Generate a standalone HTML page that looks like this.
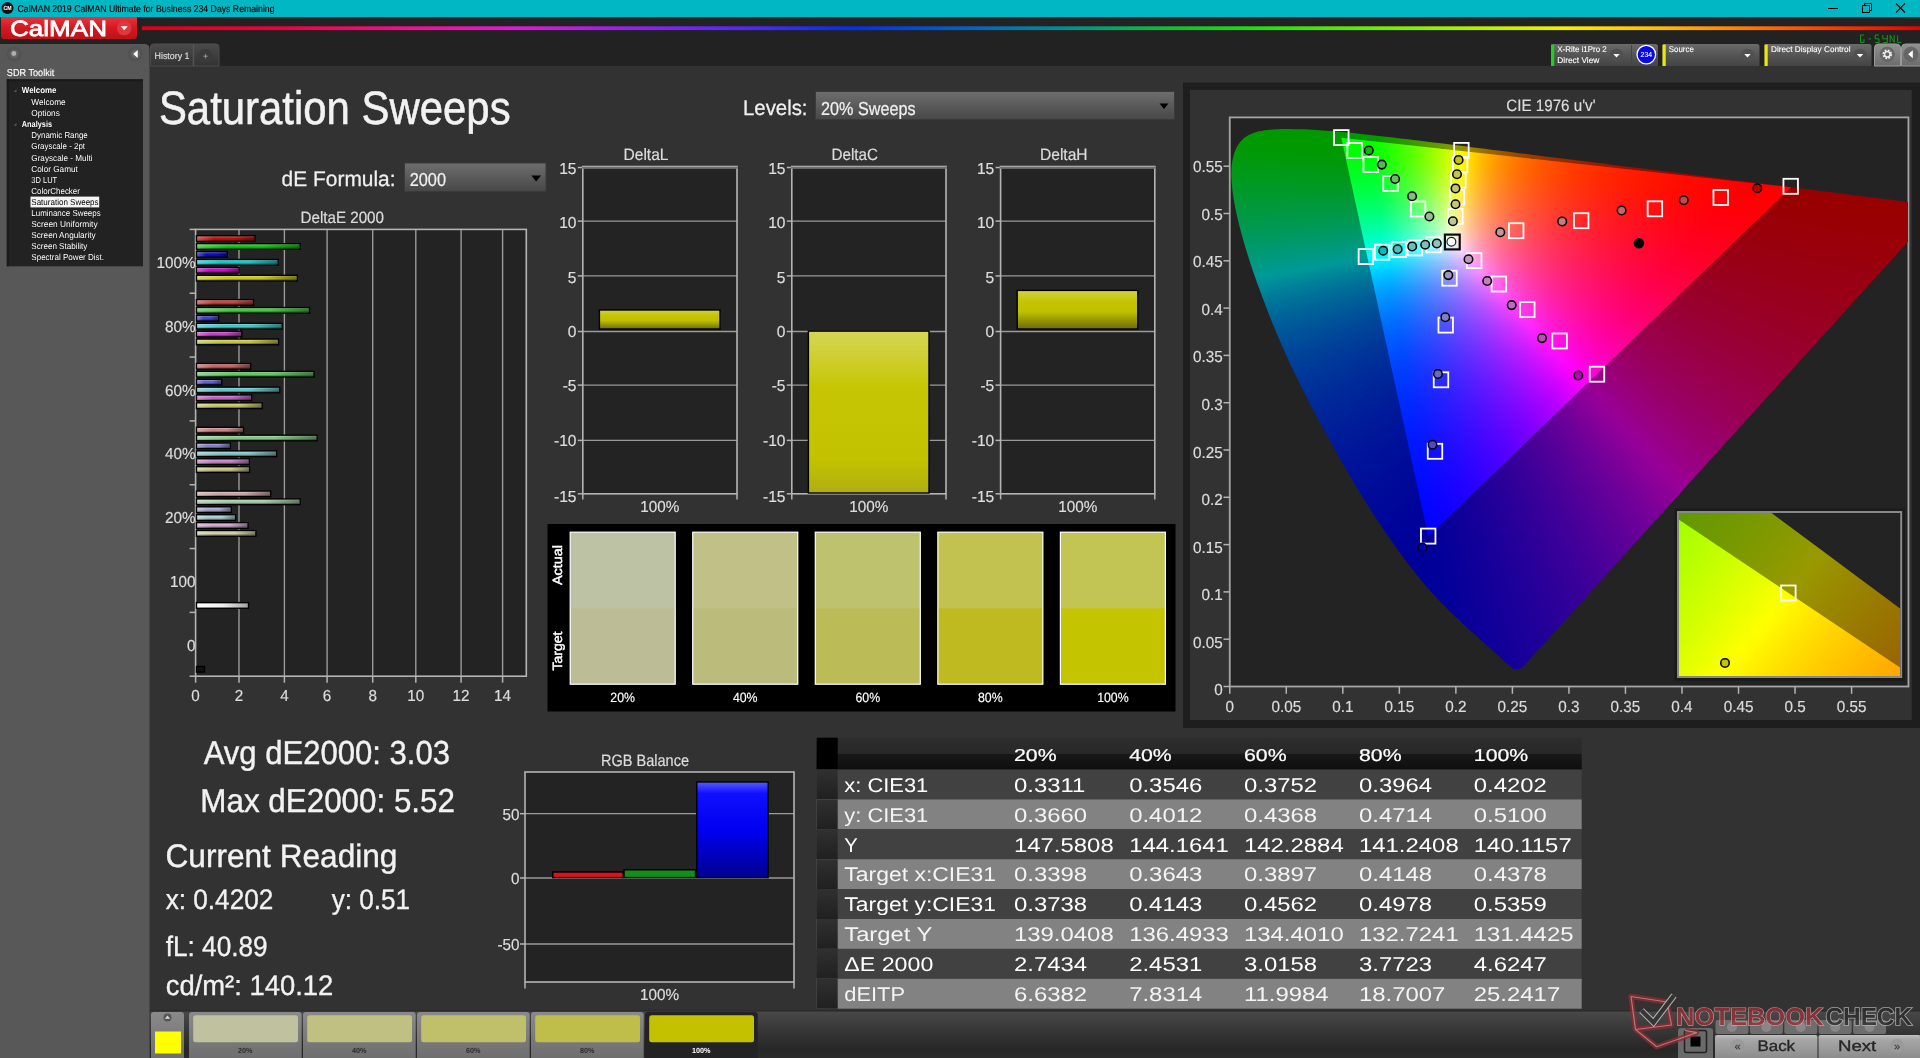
<!DOCTYPE html>
<html><head><meta charset="utf-8"><title>CalMAN</title><style>
html,body{margin:0;padding:0;background:#323232;width:1920px;height:1058px;overflow:hidden}
body{position:relative;font-family:"Liberation Sans",sans-serif}
svg{position:absolute;left:0;top:0;font-family:"Liberation Sans",sans-serif;will-change:transform;text-rendering:geometricPrecision}
.cw{position:absolute;overflow:hidden}
.cl{position:absolute;left:-1231px;top:-118.5px;width:1920px;height:1058px}
.cl i{position:absolute;display:block}
</style></head><body>
<svg width="1920" height="1058" viewBox="0 0 1920 1058">
<defs>
<linearGradient id="rb" x1="0" x2="1" y1="0" y2="0">
<stop offset="0" stop-color="#e00010"/><stop offset="0.08" stop-color="#f00040"/><stop offset="0.15" stop-color="#f01090"/><stop offset="0.21" stop-color="#e018d8"/><stop offset="0.28" stop-color="#9020f0"/><stop offset="0.34" stop-color="#5028f8"/><stop offset="0.4" stop-color="#0030f0"/><stop offset="0.46" stop-color="#0060c8"/><stop offset="0.52" stop-color="#009090"/><stop offset="0.58" stop-color="#10c030"/><stop offset="0.63" stop-color="#20e010"/><stop offset="0.7" stop-color="#70f000"/><stop offset="0.76" stop-color="#c0f000"/><stop offset="0.8" stop-color="#f0f000"/><stop offset="0.85" stop-color="#ffc000"/><stop offset="0.91" stop-color="#ff7000"/><stop offset="0.96" stop-color="#f83000"/><stop offset="1" stop-color="#e80000"/>
</linearGradient>
<linearGradient id="logo" x1="0" x2="0" y1="0" y2="1"><stop offset="0" stop-color="#e8343c"/><stop offset=".5" stop-color="#d41820"/><stop offset="1" stop-color="#c01018"/></linearGradient>
<linearGradient id="btn" x1="0" x2="0" y1="0" y2="1"><stop offset="0" stop-color="#6a6a6a"/><stop offset=".5" stop-color="#555"/><stop offset="1" stop-color="#444"/></linearGradient>
<linearGradient id="combo" x1="0" x2="0" y1="0" y2="1"><stop offset="0" stop-color="#6e6e6e"/><stop offset="1" stop-color="#474747"/></linearGradient>
<linearGradient id="lbtn" x1="0" x2="0" y1="0" y2="1"><stop offset="0" stop-color="#c0c0c0"/><stop offset=".15" stop-color="#a8a8a8"/><stop offset="1" stop-color="#888"/></linearGradient>
<linearGradient id="strip" x1="0" x2="0" y1="0" y2="1"><stop offset="0" stop-color="#484848"/><stop offset=".45" stop-color="#353535"/><stop offset=".8" stop-color="#272727"/><stop offset="1" stop-color="#2b2b2b"/></linearGradient>
<linearGradient id="sb" x1="0" x2="0" y1="0" y2="1"><stop offset="0" stop-color="#8a8a8a"/><stop offset="1" stop-color="#6c6c6c"/></linearGradient>
<linearGradient id="tab" x1="0" x2="0" y1="0" y2="1"><stop offset="0" stop-color="#4a4a4a"/><stop offset="1" stop-color="#333"/></linearGradient>
<linearGradient id="gbtn" x1="0" x2="0" y1="0" y2="1"><stop offset="0" stop-color="#909090"/><stop offset="1" stop-color="#6c6c6c"/></linearGradient>
<radialGradient id="knob"><stop offset="0" stop-color="#7a7a7a"/><stop offset=".7" stop-color="#555"/><stop offset="1" stop-color="#505050"/></radialGradient>
<linearGradient id="ybar" x1="0" x2="0" y1="0" y2="1"><stop offset="0" stop-color="#d6d656"/><stop offset=".35" stop-color="#c6c604"/><stop offset=".8" stop-color="#c2c200"/><stop offset="1" stop-color="#aeae14"/></linearGradient>
<linearGradient id="ybar2" x1="0" x2="0" y1="0" y2="1"><stop offset="0" stop-color="#d2d248"/><stop offset=".3" stop-color="#c4c400"/><stop offset=".55" stop-color="#c0c000"/><stop offset="1" stop-color="#6c6c08"/></linearGradient>
<linearGradient id="bbar" x1="0" x2="0" y1="0" y2="1"><stop offset="0" stop-color="#5858ff"/><stop offset=".12" stop-color="#1010ff"/><stop offset=".5" stop-color="#0000f0"/><stop offset="1" stop-color="#000090"/></linearGradient>
<linearGradient id="rowh" x1="0" x2="0" y1="0" y2="1"><stop offset="0" stop-color="#303030"/><stop offset="1" stop-color="#202020"/></linearGradient>
<linearGradient id="hdr" x1="0" x2="0" y1="0" y2="1"><stop offset="0" stop-color="#2d2d2d"/><stop offset=".5" stop-color="#282828"/><stop offset=".52" stop-color="#181818"/><stop offset="1" stop-color="#0e0e0e"/></linearGradient>
</defs>
<rect x="0" y="0" width="1920" height="1058" fill="#323232"/>
<rect x="0" y="0" width="1920" height="17" fill="#00b7c3"/>
<rect x="0" y="17" width="1920" height="49" fill="#222222"/>
<circle cx="7.5" cy="8" r="6" fill="#111"/>
<text x="3.6" y="10.3" font-size="5.87" fill="#fff" textLength="8" lengthAdjust="spacingAndGlyphs" font-weight="bold" stroke="#fff" stroke-width="0.07">CM</text>
<text x="17.5" y="12.2" font-size="9.78" fill="#000" textLength="257" lengthAdjust="spacingAndGlyphs" stroke="#000" stroke-width="0.15">CalMAN 2019 CalMAN Ultimate for Business 234 Days Remaining</text>
<line x1="1828" y1="8.5" x2="1838" y2="8.5" stroke="#000" stroke-width="1"/>
<rect x="1862.5" y="5.5" width="7" height="7" fill="none" stroke="#000" stroke-width="1"/><path d="M1864.5 5.5V3.5H1871.5V10.5H1869.5" fill="none" stroke="#000" stroke-width="1"/>
<path d="M1896 3.5l9 9M1905 3.5l-9 9" stroke="#000" stroke-width="1.1" fill="none"/>
<path d="M1 17H137V36a3 3 0 0 1-3 3H4a3 3 0 0 1-3-3Z" fill="url(#logo)"/>
<text x="10" y="35.9" font-size="22.07" fill="#fff" textLength="97" lengthAdjust="spacingAndGlyphs" stroke="#fff" stroke-width="0.75">CalMAN</text>
<circle cx="124.2" cy="28" r="7.3" fill="#dc3840"/><path d="M120.7 26.3h7l-3.5 4z" fill="#fff"/>
<rect x="142" y="26.3" width="1778" height="3.8" fill="url(#rb)"/>
<path d="M0 43.9H144.5a5 5 0 0 1 5 5V1058H0Z" fill="#585858"/>
<circle cx="14" cy="54" r="7.3" fill="url(#knob)"/><circle cx="13.8" cy="53.5" r="2.4" fill="#b0b0b0"/>
<circle cx="135.3" cy="54" r="7.3" fill="url(#knob)"/><path d="M137.7 50v8l-4.4-4z" fill="#fff"/>
<text x="6.8" y="75.8" font-size="10.06" fill="#fff" textLength="47.5" lengthAdjust="spacingAndGlyphs" stroke="#fff" stroke-width="0.12">SDR Toolkit</text>
<rect x="6.8" y="79.3" width="136.2" height="187" fill="#222"/>
<rect x="6.8" y="79.3" width="136.2" height="2" fill="#1a1a1a"/>
<rect x="6.8" y="79.3" width="2" height="187" fill="#1a1a1a"/>
<text x="21.8" y="93" font-size="8.66" fill="#fff" textLength="34.7" lengthAdjust="spacingAndGlyphs" font-weight="bold" stroke="#000" stroke-width="0.25" paint-order="stroke">Welcome</text>
<text x="31.3" y="105" font-size="8.66" fill="#fff" textLength="34.4" lengthAdjust="spacingAndGlyphs" stroke="#000" stroke-width="0.25" paint-order="stroke">Welcome</text>
<text x="31.3" y="116" font-size="8.66" fill="#fff" textLength="28.6" lengthAdjust="spacingAndGlyphs" stroke="#000" stroke-width="0.25" paint-order="stroke">Options</text>
<text x="21.8" y="127" font-size="8.66" fill="#fff" textLength="30.3" lengthAdjust="spacingAndGlyphs" font-weight="bold" stroke="#000" stroke-width="0.25" paint-order="stroke">Analysis</text>
<text x="31.3" y="138" font-size="8.66" fill="#fff" textLength="56.5" lengthAdjust="spacingAndGlyphs" stroke="#000" stroke-width="0.25" paint-order="stroke">Dynamic Range</text>
<text x="31.3" y="149" font-size="8.66" fill="#fff" textLength="53.7" lengthAdjust="spacingAndGlyphs" stroke="#000" stroke-width="0.25" paint-order="stroke">Grayscale - 2pt</text>
<text x="31.3" y="161" font-size="8.66" fill="#fff" textLength="61.2" lengthAdjust="spacingAndGlyphs" stroke="#000" stroke-width="0.25" paint-order="stroke">Grayscale - Multi</text>
<text x="31.3" y="172" font-size="8.66" fill="#fff" textLength="46.6" lengthAdjust="spacingAndGlyphs" stroke="#000" stroke-width="0.25" paint-order="stroke">Color Gamut</text>
<text x="31.3" y="183" font-size="8.66" fill="#fff" textLength="25.9" lengthAdjust="spacingAndGlyphs" stroke="#000" stroke-width="0.25" paint-order="stroke">3D LUT</text>
<text x="31.3" y="194" font-size="8.66" fill="#fff" textLength="48.6" lengthAdjust="spacingAndGlyphs" stroke="#000" stroke-width="0.25" paint-order="stroke">ColorChecker</text>
<rect x="30.5" y="196.6" width="68.7" height="10.8" fill="#f4f4f4"/>
<text x="31.3" y="205" font-size="8.66" fill="#000" textLength="67.3" lengthAdjust="spacingAndGlyphs">Saturation Sweeps</text>
<text x="31.3" y="216" font-size="8.66" fill="#fff" textLength="69.4" lengthAdjust="spacingAndGlyphs" stroke="#000" stroke-width="0.25" paint-order="stroke">Luminance Sweeps</text>
<text x="31.3" y="227" font-size="8.66" fill="#fff" textLength="66.3" lengthAdjust="spacingAndGlyphs" stroke="#000" stroke-width="0.25" paint-order="stroke">Screen Uniformity</text>
<text x="31.3" y="238" font-size="8.66" fill="#fff" textLength="64.3" lengthAdjust="spacingAndGlyphs" stroke="#000" stroke-width="0.25" paint-order="stroke">Screen Angularity</text>
<text x="31.3" y="249" font-size="8.66" fill="#fff" textLength="56.1" lengthAdjust="spacingAndGlyphs" stroke="#000" stroke-width="0.25" paint-order="stroke">Screen Stability</text>
<text x="31.3" y="260" font-size="8.66" fill="#fff" textLength="72.8" lengthAdjust="spacingAndGlyphs" stroke="#000" stroke-width="0.25" paint-order="stroke">Spectral Power Dist.</text>
<path d="M13.5 92l3 0l0 -3z" fill="#555"/>
<path d="M13.5 125.8l3 0l0 -3z" fill="#555"/>
<path d="M150.5 66V47a3 3 0 0 1 3-3H216a3 3 0 0 1 3 3V66Z" fill="url(#tab)" stroke="#4c4c4c" stroke-width="1"/>
<line x1="193.5" y1="44" x2="193.5" y2="66" stroke="#555" stroke-width="1.5"/>
<text x="154.5" y="58.5" font-size="9.22" fill="#e0e0e0" textLength="35" lengthAdjust="spacingAndGlyphs" stroke="#e0e0e0" stroke-width="0.11">History 1</text>
<circle cx="205.5" cy="56" r="7" fill="#3a3a3a"/>
<path d="M203.3 56.2h4.4M205.5 54v4.4" stroke="#9a9a9a" stroke-width="0.9"/>
<path d="M1551 66V46.5a2.5 2.5 0 0 1 2.5-2.5H1655.5a2.5 2.5 0 0 1 2.5 2.5V66Z" fill="url(#btn)"/><rect x="1551" y="44.5" width="3.2" height="21.5" fill="#20d020"/>
<line x1="1631.5" y1="45" x2="1631.5" y2="66" stroke="#444" stroke-width="1"/>
<text x="1557.3" y="52.3" font-size="8.38" fill="#fff" textLength="49.5" lengthAdjust="spacingAndGlyphs" stroke="#fff" stroke-width="0.1">X-Rite i1Pro 2</text>
<text x="1557.3" y="63" font-size="8.38" fill="#fff" textLength="42" lengthAdjust="spacingAndGlyphs" stroke="#fff" stroke-width="0.1">Direct View</text>
<circle cx="1616.5" cy="55.2" r="6.5" fill="#505050"/><path d="M1613.3 53.9h6.4l-3.2 3.6z" fill="#fff"/>
<circle cx="1646.3" cy="54.6" r="9.3" fill="#0808f0" stroke="#fff" stroke-width="1.3"/>
<text x="1646.3" y="57.4" font-size="7.26" fill="#fff" textLength="11.5" lengthAdjust="spacingAndGlyphs" text-anchor="middle" stroke="#fff" stroke-width="0.09">234</text>
<path d="M1662.5 66V46.5a2.5 2.5 0 0 1 2.5-2.5H1757a2.5 2.5 0 0 1 2.5 2.5V66Z" fill="url(#btn)"/><rect x="1662.5" y="44.5" width="3.2" height="21.5" fill="#e8e810"/>
<text x="1668.8" y="52.3" font-size="8.38" fill="#fff" textLength="25" lengthAdjust="spacingAndGlyphs" stroke="#fff" stroke-width="0.1">Source</text>
<circle cx="1747.5" cy="55.2" r="6.5" fill="#505050"/><path d="M1744.3 53.9h6.4l-3.2 3.6z" fill="#fff"/>
<path d="M1764.5 66V46.5a2.5 2.5 0 0 1 2.5-2.5H1869a2.5 2.5 0 0 1 2.5 2.5V66Z" fill="url(#btn)"/><rect x="1764.5" y="44.5" width="3.2" height="21.5" fill="#e8e810"/>
<text x="1771" y="52.3" font-size="8.38" fill="#fff" textLength="79.5" lengthAdjust="spacingAndGlyphs" stroke="#fff" stroke-width="0.1">Direct Display Control</text>
<circle cx="1860" cy="55.2" r="6.5" fill="#505050"/><path d="M1856.8 53.9h6.4l-3.2 3.6z" fill="#fff"/>
<path d="M1874.5 66V48a4 4 0 0 1 4-4H1896.5a4 4 0 0 1 4 4V66Z" fill="url(#gbtn)" stroke="#9a9a9a" stroke-width="1"/>
<circle cx="1887.3" cy="54.3" r="7.6" fill="#666"/><circle cx="1887.3" cy="54.3" r="3.7" fill="none" stroke="#f0f0f0" stroke-width="2.3" stroke-dasharray="1.7 1.2"/><circle cx="1887.3" cy="54.3" r="2.7" fill="none" stroke="#f0f0f0" stroke-width="1.3"/>
<path d="M1901.5 66V48a4 4 0 0 1 4-4H1921V66Z" fill="url(#gbtn)" stroke="#9a9a9a" stroke-width="1"/>
<circle cx="1911" cy="54.3" r="7.6" fill="#666"/><path d="M1912.8 50.3v8l-4.6-4z" fill="#fff"/>
<path d="M1864 35H1860.5V42.5H1864V39.2M1868.7 38.9H1871M1879 35H1875.2V38.8H1879V42.5H1875.2M1882.8 35V38.8H1887.3M1887.3 35V42.5H1883.2M1890.2 42.5V35.2L1894.2 42.3V35M1901.4 42.5H1897.6V35.5" fill="none" stroke="#18a018" stroke-width="0.9"/>
<defs><linearGradient id="shade" x1="0" x2="0" y1="0" y2="1"><stop offset="0" stop-color="#fff" stop-opacity=".35"/><stop offset=".35" stop-color="#fff" stop-opacity="0"/><stop offset=".6" stop-color="#000" stop-opacity="0"/><stop offset="1" stop-color="#000" stop-opacity=".45"/></linearGradient>
<linearGradient id="shh" x1="0" x2="1" y1="0" y2="0"><stop offset="0" stop-color="#fff" stop-opacity=".3"/><stop offset=".3" stop-color="#fff" stop-opacity="0"/><stop offset=".65" stop-color="#000" stop-opacity="0"/><stop offset="1" stop-color="#000" stop-opacity=".4"/></linearGradient>
<linearGradient id="wbar" x1="0" x2="1" y1="0" y2="0"><stop offset="0" stop-color="#fff"/><stop offset=".5" stop-color="#f0f0f0"/><stop offset="1" stop-color="#a0a0a0"/></linearGradient></defs>
<text x="158.9" y="123.9" font-size="46.79" fill="#f2f2f2" textLength="351.7" lengthAdjust="spacingAndGlyphs" stroke="#f2f2f2" stroke-width="0.56">Saturation Sweeps</text>
<text x="743" y="114.5" font-size="21.23" fill="#f0f0f0" textLength="64.5" lengthAdjust="spacingAndGlyphs" stroke="#f0f0f0" stroke-width="0.25">Levels:</text>
<rect x="815.5" y="91.5" width="359" height="28" fill="url(#combo)" stroke="#3a3a3a" stroke-width="1"/>
<text x="821" y="114.8" font-size="18.72" fill="#f0f0f0" textLength="94.5" lengthAdjust="spacingAndGlyphs" stroke="#f0f0f0" stroke-width="0.22">20% Sweeps</text>
<path d="M1159.5 103.5h9l-4.5 5.5z" fill="#000"/>
<text x="281.6" y="186" font-size="21.23" fill="#f0f0f0" textLength="114" lengthAdjust="spacingAndGlyphs" stroke="#f0f0f0" stroke-width="0.25">dE Formula:</text>
<rect x="404.5" y="163" width="141.5" height="28.5" fill="url(#combo)" stroke="#3a3a3a" stroke-width="1"/>
<text x="409.7" y="186" font-size="18.72" fill="#f0f0f0" textLength="36.3" lengthAdjust="spacingAndGlyphs" stroke="#f0f0f0" stroke-width="0.22">2000</text>
<path d="M531.3 175.4h9.8l-4.9 6z" fill="#000"/>
<text x="300.5" y="222.7" font-size="16.48" fill="#dcdcdc" textLength="83.5" lengthAdjust="spacingAndGlyphs" stroke="#dcdcdc" stroke-width="0.2">DeltaE 2000</text>
<rect x="195.6" y="229.4" width="330.7" height="446.8" fill="#232323"/>
<line x1="239" y1="229.4" x2="239" y2="676.2" stroke="#9a9a9a" stroke-width="1.4"/>
<line x1="284.4" y1="229.4" x2="284.4" y2="676.2" stroke="#9a9a9a" stroke-width="1.4"/>
<line x1="327.1" y1="229.4" x2="327.1" y2="676.2" stroke="#9a9a9a" stroke-width="1.4"/>
<line x1="372.7" y1="229.4" x2="372.7" y2="676.2" stroke="#9a9a9a" stroke-width="1.4"/>
<line x1="415.8" y1="229.4" x2="415.8" y2="676.2" stroke="#9a9a9a" stroke-width="1.4"/>
<line x1="461.1" y1="229.4" x2="461.1" y2="676.2" stroke="#9a9a9a" stroke-width="1.4"/>
<line x1="502.6" y1="229.4" x2="502.6" y2="676.2" stroke="#9a9a9a" stroke-width="1.4"/>
<rect x="195.6" y="229.4" width="330.7" height="446.8" fill="none" stroke="#b4b4b4" stroke-width="1.6"/>
<line x1="195.6" y1="676.2" x2="195.6" y2="682.7" stroke="#b4b4b4" stroke-width="1.5"/>
<text x="195.6" y="700.7" font-size="15.92" fill="#dcdcdc" textLength="8.5" lengthAdjust="spacingAndGlyphs" text-anchor="middle" stroke="#dcdcdc" stroke-width="0.19">0</text>
<line x1="239" y1="676.2" x2="239" y2="682.7" stroke="#b4b4b4" stroke-width="1.5"/>
<text x="239" y="700.7" font-size="15.92" fill="#dcdcdc" textLength="8.5" lengthAdjust="spacingAndGlyphs" text-anchor="middle" stroke="#dcdcdc" stroke-width="0.19">2</text>
<line x1="284.4" y1="676.2" x2="284.4" y2="682.7" stroke="#b4b4b4" stroke-width="1.5"/>
<text x="284.4" y="700.7" font-size="15.92" fill="#dcdcdc" textLength="8.5" lengthAdjust="spacingAndGlyphs" text-anchor="middle" stroke="#dcdcdc" stroke-width="0.19">4</text>
<line x1="327.1" y1="676.2" x2="327.1" y2="682.7" stroke="#b4b4b4" stroke-width="1.5"/>
<text x="327.1" y="700.7" font-size="15.92" fill="#dcdcdc" textLength="8.5" lengthAdjust="spacingAndGlyphs" text-anchor="middle" stroke="#dcdcdc" stroke-width="0.19">6</text>
<line x1="372.7" y1="676.2" x2="372.7" y2="682.7" stroke="#b4b4b4" stroke-width="1.5"/>
<text x="372.7" y="700.7" font-size="15.92" fill="#dcdcdc" textLength="8.5" lengthAdjust="spacingAndGlyphs" text-anchor="middle" stroke="#dcdcdc" stroke-width="0.19">8</text>
<line x1="415.8" y1="676.2" x2="415.8" y2="682.7" stroke="#b4b4b4" stroke-width="1.5"/>
<text x="415.8" y="700.7" font-size="15.92" fill="#dcdcdc" textLength="17" lengthAdjust="spacingAndGlyphs" text-anchor="middle" stroke="#dcdcdc" stroke-width="0.19">10</text>
<line x1="461.1" y1="676.2" x2="461.1" y2="682.7" stroke="#b4b4b4" stroke-width="1.5"/>
<text x="461.1" y="700.7" font-size="15.92" fill="#dcdcdc" textLength="17" lengthAdjust="spacingAndGlyphs" text-anchor="middle" stroke="#dcdcdc" stroke-width="0.19">12</text>
<line x1="502.6" y1="676.2" x2="502.6" y2="682.7" stroke="#b4b4b4" stroke-width="1.5"/>
<text x="502.6" y="700.7" font-size="15.92" fill="#dcdcdc" textLength="17" lengthAdjust="spacingAndGlyphs" text-anchor="middle" stroke="#dcdcdc" stroke-width="0.19">14</text>
<line x1="189.6" y1="229.4" x2="195.6" y2="229.4" stroke="#b4b4b4" stroke-width="1.5"/>
<line x1="189.6" y1="293.23" x2="195.6" y2="293.23" stroke="#b4b4b4" stroke-width="1.5"/>
<line x1="189.6" y1="357.06" x2="195.6" y2="357.06" stroke="#b4b4b4" stroke-width="1.5"/>
<line x1="189.6" y1="420.89" x2="195.6" y2="420.89" stroke="#b4b4b4" stroke-width="1.5"/>
<line x1="189.6" y1="484.72" x2="195.6" y2="484.72" stroke="#b4b4b4" stroke-width="1.5"/>
<line x1="189.6" y1="548.55" x2="195.6" y2="548.55" stroke="#b4b4b4" stroke-width="1.5"/>
<line x1="189.6" y1="612.38" x2="195.6" y2="612.38" stroke="#b4b4b4" stroke-width="1.5"/>
<line x1="189.6" y1="676.21" x2="195.6" y2="676.21" stroke="#b4b4b4" stroke-width="1.5"/>
<text x="195.6" y="267.91" font-size="15.92" fill="#dcdcdc" textLength="39.09" lengthAdjust="spacingAndGlyphs" text-anchor="end" stroke="#dcdcdc" stroke-width="0.19">100%</text>
<text x="195.6" y="331.74" font-size="15.92" fill="#dcdcdc" textLength="30.59" lengthAdjust="spacingAndGlyphs" text-anchor="end" stroke="#dcdcdc" stroke-width="0.19">80%</text>
<text x="195.6" y="395.57" font-size="15.92" fill="#dcdcdc" textLength="30.59" lengthAdjust="spacingAndGlyphs" text-anchor="end" stroke="#dcdcdc" stroke-width="0.19">60%</text>
<text x="195.6" y="459.4" font-size="15.92" fill="#dcdcdc" textLength="30.59" lengthAdjust="spacingAndGlyphs" text-anchor="end" stroke="#dcdcdc" stroke-width="0.19">40%</text>
<text x="195.6" y="523.24" font-size="15.92" fill="#dcdcdc" textLength="30.59" lengthAdjust="spacingAndGlyphs" text-anchor="end" stroke="#dcdcdc" stroke-width="0.19">20%</text>
<text x="195.6" y="587.07" font-size="15.92" fill="#dcdcdc" textLength="25.5" lengthAdjust="spacingAndGlyphs" text-anchor="end" stroke="#dcdcdc" stroke-width="0.19">100</text>
<text x="195.6" y="650.89" font-size="15.92" fill="#dcdcdc" textLength="8.5" lengthAdjust="spacingAndGlyphs" text-anchor="end" stroke="#dcdcdc" stroke-width="0.19">0</text>
<rect x="196.5" y="235.8" width="58.5" height="5.6" fill="#c80f0f" stroke="#000" stroke-width="1.4"/>
<rect x="197.2" y="236.5" width="57.1" height="4.2" fill="url(#shade)"/>
<rect x="197.2" y="236.5" width="57.1" height="4.2" fill="url(#shh)"/>
<rect x="196.5" y="243.7" width="103.6" height="5.6" fill="#0fc80f" stroke="#000" stroke-width="1.4"/>
<rect x="197.2" y="244.4" width="102.2" height="4.2" fill="url(#shade)"/>
<rect x="197.2" y="244.4" width="102.2" height="4.2" fill="url(#shh)"/>
<rect x="196.5" y="251.6" width="30.78" height="5.6" fill="#0f0fc8" stroke="#000" stroke-width="1.4"/>
<rect x="197.2" y="252.3" width="29.38" height="4.2" fill="url(#shade)"/>
<rect x="197.2" y="252.3" width="29.38" height="4.2" fill="url(#shh)"/>
<rect x="196.5" y="259.5" width="81.6" height="5.6" fill="#0fc8c8" stroke="#000" stroke-width="1.4"/>
<rect x="197.2" y="260.2" width="80.2" height="4.2" fill="url(#shade)"/>
<rect x="197.2" y="260.2" width="80.2" height="4.2" fill="url(#shh)"/>
<rect x="196.5" y="267.4" width="42.66" height="5.6" fill="#c80fc8" stroke="#000" stroke-width="1.4"/>
<rect x="197.2" y="268.1" width="41.26" height="4.2" fill="url(#shade)"/>
<rect x="197.2" y="268.1" width="41.26" height="4.2" fill="url(#shh)"/>
<rect x="196.5" y="275.3" width="100.74" height="5.6" fill="#c8c80f" stroke="#000" stroke-width="1.4"/>
<rect x="197.2" y="276" width="99.34" height="4.2" fill="url(#shade)"/>
<rect x="197.2" y="276" width="99.34" height="4.2" fill="url(#shh)"/>
<rect x="196.5" y="299.63" width="56.96" height="5.6" fill="#c84040" stroke="#000" stroke-width="1.4"/>
<rect x="197.2" y="300.33" width="55.56" height="4.2" fill="url(#shade)"/>
<rect x="197.2" y="300.33" width="55.56" height="4.2" fill="url(#shh)"/>
<rect x="196.5" y="307.53" width="113.06" height="5.6" fill="#40c840" stroke="#000" stroke-width="1.4"/>
<rect x="197.2" y="308.23" width="111.66" height="4.2" fill="url(#shade)"/>
<rect x="197.2" y="308.23" width="111.66" height="4.2" fill="url(#shh)"/>
<rect x="196.5" y="315.43" width="22.2" height="5.6" fill="#4040c8" stroke="#000" stroke-width="1.4"/>
<rect x="197.2" y="316.13" width="20.8" height="4.2" fill="url(#shade)"/>
<rect x="197.2" y="316.13" width="20.8" height="4.2" fill="url(#shh)"/>
<rect x="196.5" y="323.33" width="85.56" height="5.6" fill="#40c8c8" stroke="#000" stroke-width="1.4"/>
<rect x="197.2" y="324.03" width="84.16" height="4.2" fill="url(#shade)"/>
<rect x="197.2" y="324.03" width="84.16" height="4.2" fill="url(#shh)"/>
<rect x="196.5" y="331.23" width="45.3" height="5.6" fill="#c840c8" stroke="#000" stroke-width="1.4"/>
<rect x="197.2" y="331.93" width="43.9" height="4.2" fill="url(#shade)"/>
<rect x="197.2" y="331.93" width="43.9" height="4.2" fill="url(#shh)"/>
<rect x="196.5" y="339.13" width="82.04" height="5.6" fill="#c8c840" stroke="#000" stroke-width="1.4"/>
<rect x="197.2" y="339.83" width="80.64" height="4.2" fill="url(#shade)"/>
<rect x="197.2" y="339.83" width="80.64" height="4.2" fill="url(#shh)"/>
<rect x="196.5" y="363.46" width="54.1" height="5.6" fill="#c86262" stroke="#000" stroke-width="1.4"/>
<rect x="197.2" y="364.16" width="52.7" height="4.2" fill="url(#shade)"/>
<rect x="197.2" y="364.16" width="52.7" height="4.2" fill="url(#shh)"/>
<rect x="196.5" y="371.36" width="117.46" height="5.6" fill="#62c862" stroke="#000" stroke-width="1.4"/>
<rect x="197.2" y="372.06" width="116.06" height="4.2" fill="url(#shade)"/>
<rect x="197.2" y="372.06" width="116.06" height="4.2" fill="url(#shh)"/>
<rect x="196.5" y="379.26" width="25.28" height="5.6" fill="#6262c8" stroke="#000" stroke-width="1.4"/>
<rect x="197.2" y="379.96" width="23.88" height="4.2" fill="url(#shade)"/>
<rect x="197.2" y="379.96" width="23.88" height="4.2" fill="url(#shh)"/>
<rect x="196.5" y="387.16" width="83.14" height="5.6" fill="#62c8c8" stroke="#000" stroke-width="1.4"/>
<rect x="197.2" y="387.86" width="81.74" height="4.2" fill="url(#shade)"/>
<rect x="197.2" y="387.86" width="81.74" height="4.2" fill="url(#shh)"/>
<rect x="196.5" y="395.06" width="55.2" height="5.6" fill="#c862c8" stroke="#000" stroke-width="1.4"/>
<rect x="197.2" y="395.76" width="53.8" height="4.2" fill="url(#shade)"/>
<rect x="197.2" y="395.76" width="53.8" height="4.2" fill="url(#shh)"/>
<rect x="196.5" y="402.96" width="65.54" height="5.6" fill="#c8c862" stroke="#000" stroke-width="1.4"/>
<rect x="197.2" y="403.66" width="64.14" height="4.2" fill="url(#shade)"/>
<rect x="197.2" y="403.66" width="64.14" height="4.2" fill="url(#shh)"/>
<rect x="196.5" y="427.29" width="47.06" height="5.6" fill="#c88484" stroke="#000" stroke-width="1.4"/>
<rect x="197.2" y="427.99" width="45.66" height="4.2" fill="url(#shade)"/>
<rect x="197.2" y="427.99" width="45.66" height="4.2" fill="url(#shh)"/>
<rect x="196.5" y="435.19" width="120.54" height="5.6" fill="#84c884" stroke="#000" stroke-width="1.4"/>
<rect x="197.2" y="435.89" width="119.14" height="4.2" fill="url(#shade)"/>
<rect x="197.2" y="435.89" width="119.14" height="4.2" fill="url(#shh)"/>
<rect x="196.5" y="443.09" width="33.86" height="5.6" fill="#8484c8" stroke="#000" stroke-width="1.4"/>
<rect x="197.2" y="443.79" width="32.46" height="4.2" fill="url(#shade)"/>
<rect x="197.2" y="443.79" width="32.46" height="4.2" fill="url(#shh)"/>
<rect x="196.5" y="450.99" width="80.06" height="5.6" fill="#84c8c8" stroke="#000" stroke-width="1.4"/>
<rect x="197.2" y="451.69" width="78.66" height="4.2" fill="url(#shade)"/>
<rect x="197.2" y="451.69" width="78.66" height="4.2" fill="url(#shh)"/>
<rect x="196.5" y="458.89" width="52.78" height="5.6" fill="#c884c8" stroke="#000" stroke-width="1.4"/>
<rect x="197.2" y="459.59" width="51.38" height="4.2" fill="url(#shade)"/>
<rect x="197.2" y="459.59" width="51.38" height="4.2" fill="url(#shh)"/>
<rect x="196.5" y="466.79" width="53" height="5.6" fill="#c8c884" stroke="#000" stroke-width="1.4"/>
<rect x="197.2" y="467.49" width="51.6" height="4.2" fill="url(#shade)"/>
<rect x="197.2" y="467.49" width="51.6" height="4.2" fill="url(#shh)"/>
<rect x="196.5" y="491.12" width="74.12" height="5.6" fill="#cda6a6" stroke="#000" stroke-width="1.4"/>
<rect x="197.2" y="491.82" width="72.72" height="4.2" fill="url(#shade)"/>
<rect x="197.2" y="491.82" width="72.72" height="4.2" fill="url(#shh)"/>
<rect x="196.5" y="499.02" width="103.6" height="5.6" fill="#a6cda6" stroke="#000" stroke-width="1.4"/>
<rect x="197.2" y="499.72" width="102.2" height="4.2" fill="url(#shade)"/>
<rect x="197.2" y="499.72" width="102.2" height="4.2" fill="url(#shh)"/>
<rect x="196.5" y="506.92" width="34.74" height="5.6" fill="#a6a6cd" stroke="#000" stroke-width="1.4"/>
<rect x="197.2" y="507.62" width="33.34" height="4.2" fill="url(#shade)"/>
<rect x="197.2" y="507.62" width="33.34" height="4.2" fill="url(#shh)"/>
<rect x="196.5" y="514.82" width="39.14" height="5.6" fill="#a6cdcd" stroke="#000" stroke-width="1.4"/>
<rect x="197.2" y="515.52" width="37.74" height="4.2" fill="url(#shade)"/>
<rect x="197.2" y="515.52" width="37.74" height="4.2" fill="url(#shh)"/>
<rect x="196.5" y="522.72" width="51.46" height="5.6" fill="#cda6cd" stroke="#000" stroke-width="1.4"/>
<rect x="197.2" y="523.42" width="50.06" height="4.2" fill="url(#shade)"/>
<rect x="197.2" y="523.42" width="50.06" height="4.2" fill="url(#shh)"/>
<rect x="196.5" y="530.62" width="59.38" height="5.6" fill="#cdcda6" stroke="#000" stroke-width="1.4"/>
<rect x="197.2" y="531.32" width="57.98" height="4.2" fill="url(#shade)"/>
<rect x="197.2" y="531.32" width="57.98" height="4.2" fill="url(#shh)"/>
<rect x="196.5" y="602.65" width="52" height="5.6" fill="url(#wbar)" stroke="#000" stroke-width="1.4"/>
<rect x="196.5" y="666.48" width="8" height="5.6" fill="#111" stroke="#000" stroke-width="1.4"/>
<text x="623.5" y="159.7" font-size="16.48" fill="#dcdcdc" textLength="45" lengthAdjust="spacingAndGlyphs" stroke="#dcdcdc" stroke-width="0.2">DeltaL</text><rect x="582.8" y="167.5" width="154.2" height="326.3" fill="#232323"/><line x1="582.8" y1="221.1" x2="737" y2="221.1" stroke="#9a9a9a" stroke-width="1.3"/><line x1="582.8" y1="275.9" x2="737" y2="275.9" stroke="#9a9a9a" stroke-width="1.3"/><line x1="582.8" y1="331.5" x2="737" y2="331.5" stroke="#9a9a9a" stroke-width="1.3"/><line x1="582.8" y1="385.1" x2="737" y2="385.1" stroke="#9a9a9a" stroke-width="1.3"/><line x1="582.8" y1="440.4" x2="737" y2="440.4" stroke="#9a9a9a" stroke-width="1.3"/><line x1="577.8" y1="167.5" x2="582.8" y2="167.5" stroke="#b4b4b4" stroke-width="1.5"/><text x="576.5" y="173.7" font-size="15.92" fill="#dcdcdc" textLength="17.36" lengthAdjust="spacingAndGlyphs" text-anchor="end" stroke="#dcdcdc" stroke-width="0.19">15</text><line x1="577.8" y1="221.1" x2="582.8" y2="221.1" stroke="#b4b4b4" stroke-width="1.5"/><text x="576.5" y="228.4" font-size="15.92" fill="#dcdcdc" textLength="17.36" lengthAdjust="spacingAndGlyphs" text-anchor="end" stroke="#dcdcdc" stroke-width="0.19">10</text><line x1="577.8" y1="275.9" x2="582.8" y2="275.9" stroke="#b4b4b4" stroke-width="1.5"/><text x="576.5" y="282.7" font-size="15.92" fill="#dcdcdc" textLength="8.68" lengthAdjust="spacingAndGlyphs" text-anchor="end" stroke="#dcdcdc" stroke-width="0.19">5</text><line x1="577.8" y1="331.5" x2="582.8" y2="331.5" stroke="#b4b4b4" stroke-width="1.5"/><text x="576.5" y="337.2" font-size="15.92" fill="#dcdcdc" textLength="8.68" lengthAdjust="spacingAndGlyphs" text-anchor="end" stroke="#dcdcdc" stroke-width="0.19">0</text><line x1="577.8" y1="385.1" x2="582.8" y2="385.1" stroke="#b4b4b4" stroke-width="1.5"/><text x="576.5" y="391.1" font-size="15.92" fill="#dcdcdc" textLength="13.87" lengthAdjust="spacingAndGlyphs" text-anchor="end" stroke="#dcdcdc" stroke-width="0.19">-5</text><line x1="577.8" y1="440.4" x2="582.8" y2="440.4" stroke="#b4b4b4" stroke-width="1.5"/><text x="576.5" y="446.4" font-size="15.92" fill="#dcdcdc" textLength="22.55" lengthAdjust="spacingAndGlyphs" text-anchor="end" stroke="#dcdcdc" stroke-width="0.19">-10</text><line x1="577.8" y1="493.8" x2="582.8" y2="493.8" stroke="#b4b4b4" stroke-width="1.5"/><text x="576.5" y="502" font-size="15.92" fill="#dcdcdc" textLength="22.55" lengthAdjust="spacingAndGlyphs" text-anchor="end" stroke="#dcdcdc" stroke-width="0.19">-15</text><rect x="582.8" y="167.5" width="154.2" height="326.3" fill="none" stroke="#b4b4b4" stroke-width="1.6"/><rect x="582" y="165.7" width="155.8" height="1.3" fill="#a6a6a6"/><rect x="582" y="167" width="155.8" height="1.7" fill="#6e6e6e"/><line x1="582.8" y1="493.8" x2="582.8" y2="499.4" stroke="#b4b4b4" stroke-width="1.5"/><line x1="737" y1="493.8" x2="737" y2="499.4" stroke="#b4b4b4" stroke-width="1.5"/><text x="659.9" y="512" font-size="15.92" fill="#dcdcdc" textLength="39.09" lengthAdjust="spacingAndGlyphs" text-anchor="middle" stroke="#dcdcdc" stroke-width="0.19">100%</text><rect x="599.4" y="310" width="120.6" height="19" fill="url(#ybar2)" stroke="#000" stroke-width="1.4"/>
<text x="831.5" y="159.7" font-size="16.48" fill="#dcdcdc" textLength="46.5" lengthAdjust="spacingAndGlyphs" stroke="#dcdcdc" stroke-width="0.2">DeltaC</text><rect x="791.8" y="167.5" width="154.2" height="326.3" fill="#232323"/><line x1="791.8" y1="221.1" x2="946" y2="221.1" stroke="#9a9a9a" stroke-width="1.3"/><line x1="791.8" y1="275.9" x2="946" y2="275.9" stroke="#9a9a9a" stroke-width="1.3"/><line x1="791.8" y1="331.5" x2="946" y2="331.5" stroke="#9a9a9a" stroke-width="1.3"/><line x1="791.8" y1="385.1" x2="946" y2="385.1" stroke="#9a9a9a" stroke-width="1.3"/><line x1="791.8" y1="440.4" x2="946" y2="440.4" stroke="#9a9a9a" stroke-width="1.3"/><line x1="786.8" y1="167.5" x2="791.8" y2="167.5" stroke="#b4b4b4" stroke-width="1.5"/><text x="785.5" y="173.7" font-size="15.92" fill="#dcdcdc" textLength="17.36" lengthAdjust="spacingAndGlyphs" text-anchor="end" stroke="#dcdcdc" stroke-width="0.19">15</text><line x1="786.8" y1="221.1" x2="791.8" y2="221.1" stroke="#b4b4b4" stroke-width="1.5"/><text x="785.5" y="228.4" font-size="15.92" fill="#dcdcdc" textLength="17.36" lengthAdjust="spacingAndGlyphs" text-anchor="end" stroke="#dcdcdc" stroke-width="0.19">10</text><line x1="786.8" y1="275.9" x2="791.8" y2="275.9" stroke="#b4b4b4" stroke-width="1.5"/><text x="785.5" y="282.7" font-size="15.92" fill="#dcdcdc" textLength="8.68" lengthAdjust="spacingAndGlyphs" text-anchor="end" stroke="#dcdcdc" stroke-width="0.19">5</text><line x1="786.8" y1="331.5" x2="791.8" y2="331.5" stroke="#b4b4b4" stroke-width="1.5"/><text x="785.5" y="337.2" font-size="15.92" fill="#dcdcdc" textLength="8.68" lengthAdjust="spacingAndGlyphs" text-anchor="end" stroke="#dcdcdc" stroke-width="0.19">0</text><line x1="786.8" y1="385.1" x2="791.8" y2="385.1" stroke="#b4b4b4" stroke-width="1.5"/><text x="785.5" y="391.1" font-size="15.92" fill="#dcdcdc" textLength="13.87" lengthAdjust="spacingAndGlyphs" text-anchor="end" stroke="#dcdcdc" stroke-width="0.19">-5</text><line x1="786.8" y1="440.4" x2="791.8" y2="440.4" stroke="#b4b4b4" stroke-width="1.5"/><text x="785.5" y="446.4" font-size="15.92" fill="#dcdcdc" textLength="22.55" lengthAdjust="spacingAndGlyphs" text-anchor="end" stroke="#dcdcdc" stroke-width="0.19">-10</text><line x1="786.8" y1="493.8" x2="791.8" y2="493.8" stroke="#b4b4b4" stroke-width="1.5"/><text x="785.5" y="502" font-size="15.92" fill="#dcdcdc" textLength="22.55" lengthAdjust="spacingAndGlyphs" text-anchor="end" stroke="#dcdcdc" stroke-width="0.19">-15</text><rect x="791.8" y="167.5" width="154.2" height="326.3" fill="none" stroke="#b4b4b4" stroke-width="1.6"/><rect x="791" y="165.7" width="155.8" height="1.3" fill="#a6a6a6"/><rect x="791" y="167" width="155.8" height="1.7" fill="#6e6e6e"/><line x1="791.8" y1="493.8" x2="791.8" y2="499.4" stroke="#b4b4b4" stroke-width="1.5"/><line x1="946" y1="493.8" x2="946" y2="499.4" stroke="#b4b4b4" stroke-width="1.5"/><text x="868.9" y="512" font-size="15.92" fill="#dcdcdc" textLength="39.09" lengthAdjust="spacingAndGlyphs" text-anchor="middle" stroke="#dcdcdc" stroke-width="0.19">100%</text><rect x="808.4" y="331.1" width="120.6" height="161.9" fill="url(#ybar)" stroke="#000" stroke-width="1.4"/>
<text x="1040" y="159.7" font-size="16.48" fill="#dcdcdc" textLength="47.6" lengthAdjust="spacingAndGlyphs" stroke="#dcdcdc" stroke-width="0.2">DeltaH</text><rect x="1000.6" y="167.5" width="154.2" height="326.3" fill="#232323"/><line x1="1000.6" y1="221.1" x2="1154.8" y2="221.1" stroke="#9a9a9a" stroke-width="1.3"/><line x1="1000.6" y1="275.9" x2="1154.8" y2="275.9" stroke="#9a9a9a" stroke-width="1.3"/><line x1="1000.6" y1="331.5" x2="1154.8" y2="331.5" stroke="#9a9a9a" stroke-width="1.3"/><line x1="1000.6" y1="385.1" x2="1154.8" y2="385.1" stroke="#9a9a9a" stroke-width="1.3"/><line x1="1000.6" y1="440.4" x2="1154.8" y2="440.4" stroke="#9a9a9a" stroke-width="1.3"/><line x1="995.6" y1="167.5" x2="1000.6" y2="167.5" stroke="#b4b4b4" stroke-width="1.5"/><text x="994.3" y="173.7" font-size="15.92" fill="#dcdcdc" textLength="17.36" lengthAdjust="spacingAndGlyphs" text-anchor="end" stroke="#dcdcdc" stroke-width="0.19">15</text><line x1="995.6" y1="221.1" x2="1000.6" y2="221.1" stroke="#b4b4b4" stroke-width="1.5"/><text x="994.3" y="228.4" font-size="15.92" fill="#dcdcdc" textLength="17.36" lengthAdjust="spacingAndGlyphs" text-anchor="end" stroke="#dcdcdc" stroke-width="0.19">10</text><line x1="995.6" y1="275.9" x2="1000.6" y2="275.9" stroke="#b4b4b4" stroke-width="1.5"/><text x="994.3" y="282.7" font-size="15.92" fill="#dcdcdc" textLength="8.68" lengthAdjust="spacingAndGlyphs" text-anchor="end" stroke="#dcdcdc" stroke-width="0.19">5</text><line x1="995.6" y1="331.5" x2="1000.6" y2="331.5" stroke="#b4b4b4" stroke-width="1.5"/><text x="994.3" y="337.2" font-size="15.92" fill="#dcdcdc" textLength="8.68" lengthAdjust="spacingAndGlyphs" text-anchor="end" stroke="#dcdcdc" stroke-width="0.19">0</text><line x1="995.6" y1="385.1" x2="1000.6" y2="385.1" stroke="#b4b4b4" stroke-width="1.5"/><text x="994.3" y="391.1" font-size="15.92" fill="#dcdcdc" textLength="13.87" lengthAdjust="spacingAndGlyphs" text-anchor="end" stroke="#dcdcdc" stroke-width="0.19">-5</text><line x1="995.6" y1="440.4" x2="1000.6" y2="440.4" stroke="#b4b4b4" stroke-width="1.5"/><text x="994.3" y="446.4" font-size="15.92" fill="#dcdcdc" textLength="22.55" lengthAdjust="spacingAndGlyphs" text-anchor="end" stroke="#dcdcdc" stroke-width="0.19">-10</text><line x1="995.6" y1="493.8" x2="1000.6" y2="493.8" stroke="#b4b4b4" stroke-width="1.5"/><text x="994.3" y="502" font-size="15.92" fill="#dcdcdc" textLength="22.55" lengthAdjust="spacingAndGlyphs" text-anchor="end" stroke="#dcdcdc" stroke-width="0.19">-15</text><rect x="1000.6" y="167.5" width="154.2" height="326.3" fill="none" stroke="#b4b4b4" stroke-width="1.6"/><rect x="999.8" y="165.7" width="155.8" height="1.3" fill="#a6a6a6"/><rect x="999.8" y="167" width="155.8" height="1.7" fill="#6e6e6e"/><line x1="1000.6" y1="493.8" x2="1000.6" y2="499.4" stroke="#b4b4b4" stroke-width="1.5"/><line x1="1154.8" y1="493.8" x2="1154.8" y2="499.4" stroke="#b4b4b4" stroke-width="1.5"/><text x="1077.7" y="512" font-size="15.92" fill="#dcdcdc" textLength="39.09" lengthAdjust="spacingAndGlyphs" text-anchor="middle" stroke="#dcdcdc" stroke-width="0.19">100%</text><rect x="1017.2" y="290.4" width="120.6" height="38.6" fill="url(#ybar2)" stroke="#000" stroke-width="1.4"/>
<rect x="547.5" y="524" width="628" height="187.5" fill="#000"/>
<rect x="570.2" y="532.2" width="105" height="152" fill="#bdc2a5"/>
<rect x="570.2" y="608.4" width="105" height="75.8" fill="#bcbc97"/>
<rect x="570.2" y="532.2" width="105" height="152" fill="none" stroke="#fff" stroke-width="1.2"/>
<text x="622.7" y="702.2" font-size="13.41" fill="#fff" textLength="24.69" lengthAdjust="spacingAndGlyphs" text-anchor="middle" stroke="#fff" stroke-width="0.16">20%</text>
<rect x="692.75" y="532.2" width="105" height="152" fill="#c0c087"/>
<rect x="692.75" y="608.4" width="105" height="75.8" fill="#bbbc7b"/>
<rect x="692.75" y="532.2" width="105" height="152" fill="none" stroke="#fff" stroke-width="1.2"/>
<text x="745.25" y="702.2" font-size="13.41" fill="#fff" textLength="24.69" lengthAdjust="spacingAndGlyphs" text-anchor="middle" stroke="#fff" stroke-width="0.16">40%</text>
<rect x="815.3" y="532.2" width="105" height="152" fill="#bec26f"/>
<rect x="815.3" y="608.4" width="105" height="75.8" fill="#bbbb57"/>
<rect x="815.3" y="532.2" width="105" height="152" fill="none" stroke="#fff" stroke-width="1.2"/>
<text x="867.8" y="702.2" font-size="13.41" fill="#fff" textLength="24.69" lengthAdjust="spacingAndGlyphs" text-anchor="middle" stroke="#fff" stroke-width="0.16">60%</text>
<rect x="937.85" y="532.2" width="105" height="152" fill="#c1c250"/>
<rect x="937.85" y="608.4" width="105" height="75.8" fill="#bfba20"/>
<rect x="937.85" y="532.2" width="105" height="152" fill="none" stroke="#fff" stroke-width="1.2"/>
<text x="990.35" y="702.2" font-size="13.41" fill="#fff" textLength="24.69" lengthAdjust="spacingAndGlyphs" text-anchor="middle" stroke="#fff" stroke-width="0.16">80%</text>
<rect x="1060.4" y="532.2" width="105" height="152" fill="#c2c554"/>
<rect x="1060.4" y="608.4" width="105" height="75.8" fill="#c4c400"/>
<rect x="1060.4" y="532.2" width="105" height="152" fill="none" stroke="#fff" stroke-width="1.2"/>
<text x="1112.9" y="702.2" font-size="13.41" fill="#fff" textLength="31.55" lengthAdjust="spacingAndGlyphs" text-anchor="middle" stroke="#fff" stroke-width="0.16">100%</text>
<text transform="translate(561.8 565) rotate(-90)" font-size="13.4" fill="#fff" stroke="#fff" stroke-width=".45" text-anchor="middle" textLength="40" lengthAdjust="spacingAndGlyphs">Actual</text>
<text transform="translate(561.8 651) rotate(-90)" font-size="13.4" fill="#fff" stroke="#fff" stroke-width=".45" text-anchor="middle" textLength="39" lengthAdjust="spacingAndGlyphs">Target</text>
<text x="601" y="766.4" font-size="16.48" fill="#dcdcdc" textLength="88" lengthAdjust="spacingAndGlyphs" stroke="#dcdcdc" stroke-width="0.2">RGB Balance</text>
<rect x="525" y="772" width="269" height="210" fill="#232323"/>
<line x1="525" y1="813.7" x2="794" y2="813.7" stroke="#9a9a9a" stroke-width="1.3"/>
<line x1="520" y1="813.7" x2="525" y2="813.7" stroke="#b4b4b4" stroke-width="1.5"/>
<text x="519.5" y="819.5" font-size="15.92" fill="#dcdcdc" textLength="17" lengthAdjust="spacingAndGlyphs" text-anchor="end" stroke="#dcdcdc" stroke-width="0.19">50</text>
<line x1="525" y1="878" x2="794" y2="878" stroke="#9a9a9a" stroke-width="1.3"/>
<line x1="520" y1="878" x2="525" y2="878" stroke="#b4b4b4" stroke-width="1.5"/>
<text x="519.5" y="883.8" font-size="15.92" fill="#dcdcdc" textLength="8.5" lengthAdjust="spacingAndGlyphs" text-anchor="end" stroke="#dcdcdc" stroke-width="0.19">0</text>
<line x1="525" y1="944" x2="794" y2="944" stroke="#9a9a9a" stroke-width="1.3"/>
<line x1="520" y1="944" x2="525" y2="944" stroke="#b4b4b4" stroke-width="1.5"/>
<text x="519.5" y="949.8" font-size="15.92" fill="#dcdcdc" textLength="22.09" lengthAdjust="spacingAndGlyphs" text-anchor="end" stroke="#dcdcdc" stroke-width="0.19">-50</text>
<rect x="525" y="772" width="269" height="210" fill="none" stroke="#b4b4b4" stroke-width="1.6"/>
<line x1="525" y1="982" x2="525" y2="988.5" stroke="#b4b4b4" stroke-width="1.5"/>
<line x1="794" y1="982" x2="794" y2="988.5" stroke="#b4b4b4" stroke-width="1.5"/>
<text x="659.5" y="1000" font-size="15.92" fill="#dcdcdc" textLength="39.09" lengthAdjust="spacingAndGlyphs" text-anchor="middle" stroke="#dcdcdc" stroke-width="0.19">100%</text>
<rect x="552.8" y="872" width="70.4" height="5.6" fill="#e01018" stroke="#000" stroke-width="1.4"/>
<rect x="624" y="869.8" width="71.5" height="7.8" fill="#109018" stroke="#000" stroke-width="1.4"/>
<rect x="696.8" y="782" width="71.4" height="95.6" fill="url(#bbar)" stroke="#000" stroke-width="1.4"/>
<text x="203.7" y="764.2" font-size="33.24" fill="#f2f2f2" textLength="246.3" lengthAdjust="spacingAndGlyphs" stroke="#f2f2f2" stroke-width="0.4">Avg dE2000: 3.03</text>
<text x="200.3" y="811.7" font-size="33.24" fill="#f2f2f2" textLength="254.7" lengthAdjust="spacingAndGlyphs" stroke="#f2f2f2" stroke-width="0.4">Max dE2000: 5.52</text>
<text x="165.5" y="866.6" font-size="32.54" fill="#f2f2f2" textLength="231.9" lengthAdjust="spacingAndGlyphs" stroke="#f2f2f2" stroke-width="0.39">Current Reading</text>
<text x="165.7" y="909" font-size="28.21" fill="#f2f2f2" textLength="107.6" lengthAdjust="spacingAndGlyphs" stroke="#f2f2f2" stroke-width="0.34">x: 0.4202</text>
<text x="331.7" y="909" font-size="28.21" fill="#f2f2f2" textLength="78.3" lengthAdjust="spacingAndGlyphs" stroke="#f2f2f2" stroke-width="0.34">y: 0.51</text>
<text x="165.7" y="956" font-size="28.21" fill="#f2f2f2" textLength="102" lengthAdjust="spacingAndGlyphs" stroke="#f2f2f2" stroke-width="0.34">fL: 40.89</text>
<text x="165.7" y="995" font-size="28.21" fill="#f2f2f2" textLength="167.6" lengthAdjust="spacingAndGlyphs" stroke="#f2f2f2" stroke-width="0.34">cd/m²: 140.12</text>
<rect x="816.7" y="737.7" width="765" height="32" fill="url(#hdr)"/>
<rect x="816.7" y="737.7" width="21" height="32" fill="#000"/>
<text x="1014" y="760.7" font-size="17.18" fill="#fff" textLength="42.63" lengthAdjust="spacingAndGlyphs" stroke="#fff" stroke-width="0.21">20%</text>
<text x="1129.2" y="760.7" font-size="17.18" fill="#fff" textLength="42.63" lengthAdjust="spacingAndGlyphs" stroke="#fff" stroke-width="0.21">40%</text>
<text x="1244" y="760.7" font-size="17.18" fill="#fff" textLength="42.63" lengthAdjust="spacingAndGlyphs" stroke="#fff" stroke-width="0.21">60%</text>
<text x="1359" y="760.7" font-size="17.18" fill="#fff" textLength="42.63" lengthAdjust="spacingAndGlyphs" stroke="#fff" stroke-width="0.21">80%</text>
<text x="1473.8" y="760.7" font-size="17.18" fill="#fff" textLength="54.48" lengthAdjust="spacingAndGlyphs" stroke="#fff" stroke-width="0.21">100%</text>
<rect x="816.7" y="769.5" width="765" height="29.9" fill="#414141"/>
<rect x="816.7" y="769.5" width="21" height="29.9" fill="url(#rowh)"/>
<text x="844.3" y="791.7" font-size="19.83" fill="#fff" textLength="84" lengthAdjust="spacingAndGlyphs">x: CIE31</text>
<text x="1014" y="791.7" font-size="19.83" fill="#fff" textLength="71.32" lengthAdjust="spacingAndGlyphs">0.3311</text>
<text x="1129.2" y="791.7" font-size="19.83" fill="#fff" textLength="73.1" lengthAdjust="spacingAndGlyphs">0.3546</text>
<text x="1244" y="791.7" font-size="19.83" fill="#fff" textLength="73.1" lengthAdjust="spacingAndGlyphs">0.3752</text>
<text x="1359" y="791.7" font-size="19.83" fill="#fff" textLength="73.1" lengthAdjust="spacingAndGlyphs">0.3964</text>
<text x="1473.8" y="791.7" font-size="19.83" fill="#fff" textLength="73.1" lengthAdjust="spacingAndGlyphs">0.4202</text>
<rect x="816.7" y="799.4" width="765" height="29.9" fill="#828282"/>
<rect x="816.7" y="799.4" width="21" height="29.9" fill="url(#rowh)"/>
<text x="844.3" y="821.6" font-size="19.83" fill="#f4f4f4" textLength="84" lengthAdjust="spacingAndGlyphs">y: CIE31</text>
<text x="1014" y="821.6" font-size="19.83" fill="#f4f4f4" textLength="73.1" lengthAdjust="spacingAndGlyphs">0.3660</text>
<text x="1129.2" y="821.6" font-size="19.83" fill="#f4f4f4" textLength="73.1" lengthAdjust="spacingAndGlyphs">0.4012</text>
<text x="1244" y="821.6" font-size="19.83" fill="#f4f4f4" textLength="73.1" lengthAdjust="spacingAndGlyphs">0.4368</text>
<text x="1359" y="821.6" font-size="19.83" fill="#f4f4f4" textLength="73.1" lengthAdjust="spacingAndGlyphs">0.4714</text>
<text x="1473.8" y="821.6" font-size="19.83" fill="#f4f4f4" textLength="73.1" lengthAdjust="spacingAndGlyphs">0.5100</text>
<rect x="816.7" y="829.3" width="765" height="29.9" fill="#414141"/>
<rect x="816.7" y="829.3" width="21" height="29.9" fill="url(#rowh)"/>
<text x="844.3" y="851.5" font-size="19.83" fill="#fff" textLength="13.5" lengthAdjust="spacingAndGlyphs">Y</text>
<text x="1014" y="851.5" font-size="19.83" fill="#fff" textLength="99.68" lengthAdjust="spacingAndGlyphs">147.5808</text>
<text x="1129.2" y="851.5" font-size="19.83" fill="#fff" textLength="99.68" lengthAdjust="spacingAndGlyphs">144.1641</text>
<text x="1244" y="851.5" font-size="19.83" fill="#fff" textLength="99.68" lengthAdjust="spacingAndGlyphs">142.2884</text>
<text x="1359" y="851.5" font-size="19.83" fill="#fff" textLength="99.68" lengthAdjust="spacingAndGlyphs">141.2408</text>
<text x="1473.8" y="851.5" font-size="19.83" fill="#fff" textLength="97.91" lengthAdjust="spacingAndGlyphs">140.1157</text>
<rect x="816.7" y="859.2" width="765" height="29.9" fill="#828282"/>
<rect x="816.7" y="859.2" width="21" height="29.9" fill="url(#rowh)"/>
<text x="844.3" y="881.4" font-size="19.83" fill="#f4f4f4" textLength="151.7" lengthAdjust="spacingAndGlyphs">Target x:CIE31</text>
<text x="1014" y="881.4" font-size="19.83" fill="#f4f4f4" textLength="73.1" lengthAdjust="spacingAndGlyphs">0.3398</text>
<text x="1129.2" y="881.4" font-size="19.83" fill="#f4f4f4" textLength="73.1" lengthAdjust="spacingAndGlyphs">0.3643</text>
<text x="1244" y="881.4" font-size="19.83" fill="#f4f4f4" textLength="73.1" lengthAdjust="spacingAndGlyphs">0.3897</text>
<text x="1359" y="881.4" font-size="19.83" fill="#f4f4f4" textLength="73.1" lengthAdjust="spacingAndGlyphs">0.4148</text>
<text x="1473.8" y="881.4" font-size="19.83" fill="#f4f4f4" textLength="73.1" lengthAdjust="spacingAndGlyphs">0.4378</text>
<rect x="816.7" y="889.1" width="765" height="29.9" fill="#414141"/>
<rect x="816.7" y="889.1" width="21" height="29.9" fill="url(#rowh)"/>
<text x="844.3" y="911.3" font-size="19.83" fill="#fff" textLength="151.7" lengthAdjust="spacingAndGlyphs">Target y:CIE31</text>
<text x="1014" y="911.3" font-size="19.83" fill="#fff" textLength="73.1" lengthAdjust="spacingAndGlyphs">0.3738</text>
<text x="1129.2" y="911.3" font-size="19.83" fill="#fff" textLength="73.1" lengthAdjust="spacingAndGlyphs">0.4143</text>
<text x="1244" y="911.3" font-size="19.83" fill="#fff" textLength="73.1" lengthAdjust="spacingAndGlyphs">0.4562</text>
<text x="1359" y="911.3" font-size="19.83" fill="#fff" textLength="73.1" lengthAdjust="spacingAndGlyphs">0.4978</text>
<text x="1473.8" y="911.3" font-size="19.83" fill="#fff" textLength="73.1" lengthAdjust="spacingAndGlyphs">0.5359</text>
<rect x="816.7" y="919" width="765" height="29.9" fill="#828282"/>
<rect x="816.7" y="919" width="21" height="29.9" fill="url(#rowh)"/>
<text x="844.3" y="941.2" font-size="19.83" fill="#f4f4f4" textLength="88" lengthAdjust="spacingAndGlyphs">Target Y</text>
<text x="1014" y="941.2" font-size="19.83" fill="#f4f4f4" textLength="99.68" lengthAdjust="spacingAndGlyphs">139.0408</text>
<text x="1129.2" y="941.2" font-size="19.83" fill="#f4f4f4" textLength="99.68" lengthAdjust="spacingAndGlyphs">136.4933</text>
<text x="1244" y="941.2" font-size="19.83" fill="#f4f4f4" textLength="99.68" lengthAdjust="spacingAndGlyphs">134.4010</text>
<text x="1359" y="941.2" font-size="19.83" fill="#f4f4f4" textLength="99.68" lengthAdjust="spacingAndGlyphs">132.7241</text>
<text x="1473.8" y="941.2" font-size="19.83" fill="#f4f4f4" textLength="99.68" lengthAdjust="spacingAndGlyphs">131.4425</text>
<rect x="816.7" y="948.9" width="765" height="29.9" fill="#414141"/>
<rect x="816.7" y="948.9" width="21" height="29.9" fill="url(#rowh)"/>
<text x="844.3" y="971.1" font-size="19.83" fill="#fff" textLength="89" lengthAdjust="spacingAndGlyphs">ΔE 2000</text>
<text x="1014" y="971.1" font-size="19.83" fill="#fff" textLength="73.1" lengthAdjust="spacingAndGlyphs">2.7434</text>
<text x="1129.2" y="971.1" font-size="19.83" fill="#fff" textLength="73.1" lengthAdjust="spacingAndGlyphs">2.4531</text>
<text x="1244" y="971.1" font-size="19.83" fill="#fff" textLength="73.1" lengthAdjust="spacingAndGlyphs">3.0158</text>
<text x="1359" y="971.1" font-size="19.83" fill="#fff" textLength="73.1" lengthAdjust="spacingAndGlyphs">3.7723</text>
<text x="1473.8" y="971.1" font-size="19.83" fill="#fff" textLength="73.1" lengthAdjust="spacingAndGlyphs">4.6247</text>
<rect x="816.7" y="978.8" width="765" height="29.9" fill="#828282"/>
<rect x="816.7" y="978.8" width="21" height="29.9" fill="url(#rowh)"/>
<text x="844.3" y="1001" font-size="19.83" fill="#f4f4f4" textLength="60.7" lengthAdjust="spacingAndGlyphs">dEITP</text>
<text x="1014" y="1001" font-size="19.83" fill="#f4f4f4" textLength="73.1" lengthAdjust="spacingAndGlyphs">6.6382</text>
<text x="1129.2" y="1001" font-size="19.83" fill="#f4f4f4" textLength="73.1" lengthAdjust="spacingAndGlyphs">7.8314</text>
<text x="1244" y="1001" font-size="19.83" fill="#f4f4f4" textLength="84.61" lengthAdjust="spacingAndGlyphs">11.9984</text>
<text x="1359" y="1001" font-size="19.83" fill="#f4f4f4" textLength="86.39" lengthAdjust="spacingAndGlyphs">18.7007</text>
<text x="1473.8" y="1001" font-size="19.83" fill="#f4f4f4" textLength="86.39" lengthAdjust="spacingAndGlyphs">25.2417</text>
<rect x="1183" y="82.5" width="737" height="645.5" fill="#1e1e1e"/>
<rect x="1190" y="90" width="721.7" height="630" fill="#323232"/>
<text x="1506.3" y="111.2" font-size="16.48" fill="#dcdcdc" textLength="89.3" lengthAdjust="spacingAndGlyphs" stroke="#dcdcdc" stroke-width="0.2">CIE 1976 u'v'</text>
<rect x="1229.75" y="117.4" width="678.7" height="569.1" fill="#232323"/>
<rect x="1229.75" y="117.4" width="678.7" height="569.1" fill="none" stroke="#a6a6a6" stroke-width="1.8"/>
<line x1="1229.75" y1="686.5" x2="1229.75" y2="693.8" stroke="#b4b4b4" stroke-width="1.5"/>
<text x="1229.75" y="711.8" font-size="15.92" fill="#dcdcdc" textLength="8.5" lengthAdjust="spacingAndGlyphs" text-anchor="middle" stroke="#dcdcdc" stroke-width="0.19">0</text>
<line x1="1223.5" y1="686.5" x2="1229.75" y2="686.5" stroke="#b4b4b4" stroke-width="1.5"/>
<text x="1222.8" y="695.12" font-size="15.92" fill="#dcdcdc" textLength="8.5" lengthAdjust="spacingAndGlyphs" text-anchor="end" stroke="#dcdcdc" stroke-width="0.19">0</text>
<line x1="1286.28" y1="686.5" x2="1286.28" y2="693.8" stroke="#b4b4b4" stroke-width="1.5"/>
<text x="1286.28" y="711.8" font-size="15.92" fill="#dcdcdc" textLength="29.75" lengthAdjust="spacingAndGlyphs" text-anchor="middle" stroke="#dcdcdc" stroke-width="0.19">0.05</text>
<line x1="1223.5" y1="639.2" x2="1229.75" y2="639.2" stroke="#b4b4b4" stroke-width="1.5"/>
<text x="1222.8" y="647.6" font-size="15.92" fill="#dcdcdc" textLength="29.75" lengthAdjust="spacingAndGlyphs" text-anchor="end" stroke="#dcdcdc" stroke-width="0.19">0.05</text>
<line x1="1342.81" y1="686.5" x2="1342.81" y2="693.8" stroke="#b4b4b4" stroke-width="1.5"/>
<text x="1342.81" y="711.8" font-size="15.92" fill="#dcdcdc" textLength="21.25" lengthAdjust="spacingAndGlyphs" text-anchor="middle" stroke="#dcdcdc" stroke-width="0.19">0.1</text>
<line x1="1223.5" y1="591.9" x2="1229.75" y2="591.9" stroke="#b4b4b4" stroke-width="1.5"/>
<text x="1222.8" y="600.08" font-size="15.92" fill="#dcdcdc" textLength="21.25" lengthAdjust="spacingAndGlyphs" text-anchor="end" stroke="#dcdcdc" stroke-width="0.19">0.1</text>
<line x1="1399.34" y1="686.5" x2="1399.34" y2="693.8" stroke="#b4b4b4" stroke-width="1.5"/>
<text x="1399.34" y="711.8" font-size="15.92" fill="#dcdcdc" textLength="29.75" lengthAdjust="spacingAndGlyphs" text-anchor="middle" stroke="#dcdcdc" stroke-width="0.19">0.15</text>
<line x1="1223.5" y1="544.6" x2="1229.75" y2="544.6" stroke="#b4b4b4" stroke-width="1.5"/>
<text x="1222.8" y="552.56" font-size="15.92" fill="#dcdcdc" textLength="29.75" lengthAdjust="spacingAndGlyphs" text-anchor="end" stroke="#dcdcdc" stroke-width="0.19">0.15</text>
<line x1="1455.87" y1="686.5" x2="1455.87" y2="693.8" stroke="#b4b4b4" stroke-width="1.5"/>
<text x="1455.87" y="711.8" font-size="15.92" fill="#dcdcdc" textLength="21.25" lengthAdjust="spacingAndGlyphs" text-anchor="middle" stroke="#dcdcdc" stroke-width="0.19">0.2</text>
<line x1="1223.5" y1="497.3" x2="1229.75" y2="497.3" stroke="#b4b4b4" stroke-width="1.5"/>
<text x="1222.8" y="505.04" font-size="15.92" fill="#dcdcdc" textLength="21.25" lengthAdjust="spacingAndGlyphs" text-anchor="end" stroke="#dcdcdc" stroke-width="0.19">0.2</text>
<line x1="1512.4" y1="686.5" x2="1512.4" y2="693.8" stroke="#b4b4b4" stroke-width="1.5"/>
<text x="1512.4" y="711.8" font-size="15.92" fill="#dcdcdc" textLength="29.75" lengthAdjust="spacingAndGlyphs" text-anchor="middle" stroke="#dcdcdc" stroke-width="0.19">0.25</text>
<line x1="1223.5" y1="450" x2="1229.75" y2="450" stroke="#b4b4b4" stroke-width="1.5"/>
<text x="1222.8" y="457.52" font-size="15.92" fill="#dcdcdc" textLength="29.75" lengthAdjust="spacingAndGlyphs" text-anchor="end" stroke="#dcdcdc" stroke-width="0.19">0.25</text>
<line x1="1568.93" y1="686.5" x2="1568.93" y2="693.8" stroke="#b4b4b4" stroke-width="1.5"/>
<text x="1568.93" y="711.8" font-size="15.92" fill="#dcdcdc" textLength="21.25" lengthAdjust="spacingAndGlyphs" text-anchor="middle" stroke="#dcdcdc" stroke-width="0.19">0.3</text>
<line x1="1223.5" y1="402.7" x2="1229.75" y2="402.7" stroke="#b4b4b4" stroke-width="1.5"/>
<text x="1222.8" y="410" font-size="15.92" fill="#dcdcdc" textLength="21.25" lengthAdjust="spacingAndGlyphs" text-anchor="end" stroke="#dcdcdc" stroke-width="0.19">0.3</text>
<line x1="1625.46" y1="686.5" x2="1625.46" y2="693.8" stroke="#b4b4b4" stroke-width="1.5"/>
<text x="1625.46" y="711.8" font-size="15.92" fill="#dcdcdc" textLength="29.75" lengthAdjust="spacingAndGlyphs" text-anchor="middle" stroke="#dcdcdc" stroke-width="0.19">0.35</text>
<line x1="1223.5" y1="355.4" x2="1229.75" y2="355.4" stroke="#b4b4b4" stroke-width="1.5"/>
<text x="1222.8" y="362.48" font-size="15.92" fill="#dcdcdc" textLength="29.75" lengthAdjust="spacingAndGlyphs" text-anchor="end" stroke="#dcdcdc" stroke-width="0.19">0.35</text>
<line x1="1681.99" y1="686.5" x2="1681.99" y2="693.8" stroke="#b4b4b4" stroke-width="1.5"/>
<text x="1681.99" y="711.8" font-size="15.92" fill="#dcdcdc" textLength="21.25" lengthAdjust="spacingAndGlyphs" text-anchor="middle" stroke="#dcdcdc" stroke-width="0.19">0.4</text>
<line x1="1223.5" y1="308.1" x2="1229.75" y2="308.1" stroke="#b4b4b4" stroke-width="1.5"/>
<text x="1222.8" y="314.96" font-size="15.92" fill="#dcdcdc" textLength="21.25" lengthAdjust="spacingAndGlyphs" text-anchor="end" stroke="#dcdcdc" stroke-width="0.19">0.4</text>
<line x1="1738.52" y1="686.5" x2="1738.52" y2="693.8" stroke="#b4b4b4" stroke-width="1.5"/>
<text x="1738.52" y="711.8" font-size="15.92" fill="#dcdcdc" textLength="29.75" lengthAdjust="spacingAndGlyphs" text-anchor="middle" stroke="#dcdcdc" stroke-width="0.19">0.45</text>
<line x1="1223.5" y1="260.8" x2="1229.75" y2="260.8" stroke="#b4b4b4" stroke-width="1.5"/>
<text x="1222.8" y="267.44" font-size="15.92" fill="#dcdcdc" textLength="29.75" lengthAdjust="spacingAndGlyphs" text-anchor="end" stroke="#dcdcdc" stroke-width="0.19">0.45</text>
<line x1="1795.05" y1="686.5" x2="1795.05" y2="693.8" stroke="#b4b4b4" stroke-width="1.5"/>
<text x="1795.05" y="711.8" font-size="15.92" fill="#dcdcdc" textLength="21.25" lengthAdjust="spacingAndGlyphs" text-anchor="middle" stroke="#dcdcdc" stroke-width="0.19">0.5</text>
<line x1="1223.5" y1="213.5" x2="1229.75" y2="213.5" stroke="#b4b4b4" stroke-width="1.5"/>
<text x="1222.8" y="219.92" font-size="15.92" fill="#dcdcdc" textLength="21.25" lengthAdjust="spacingAndGlyphs" text-anchor="end" stroke="#dcdcdc" stroke-width="0.19">0.5</text>
<line x1="1851.58" y1="686.5" x2="1851.58" y2="693.8" stroke="#b4b4b4" stroke-width="1.5"/>
<text x="1851.58" y="711.8" font-size="15.92" fill="#dcdcdc" textLength="29.75" lengthAdjust="spacingAndGlyphs" text-anchor="middle" stroke="#dcdcdc" stroke-width="0.19">0.55</text>
<line x1="1223.5" y1="166.2" x2="1229.75" y2="166.2" stroke="#b4b4b4" stroke-width="1.5"/>
<text x="1222.8" y="172.4" font-size="15.92" fill="#dcdcdc" textLength="29.75" lengthAdjust="spacingAndGlyphs" text-anchor="end" stroke="#dcdcdc" stroke-width="0.19">0.55</text>
<rect x="150" y="1010.3" width="1770" height="1.4" fill="#2a2a2a"/>
<rect x="150" y="1011.6" width="1770" height="46.4" fill="url(#strip)"/>
<rect x="151" y="1012" width="33" height="50" rx="3" fill="url(#sb)"/>
<rect x="155" y="1031.5" width="26" height="22" fill="#ffff00"/>
<circle cx="167.5" cy="1017.5" r="4" fill="#555"/><path d="M164.8 1018.8h5.4l-2.7-3.2z" fill="#ddd"/>
<rect x="189" y="1012" width="112.7" height="50" rx="3" fill="url(#sb)"/>
<rect x="193.2" y="1015.3" width="104.8" height="27" rx="2.5" fill="#bfc19f"/>
<text x="245.2" y="1053.4" font-size="7.4" fill="#2c2c2c" textLength="14.52" lengthAdjust="spacingAndGlyphs" text-anchor="middle" font-weight="bold">20%</text>
<rect x="303" y="1012" width="112.7" height="50" rx="3" fill="url(#sb)"/>
<rect x="307.2" y="1015.3" width="104.8" height="27" rx="2.5" fill="#c0c083"/>
<text x="359.2" y="1053.4" font-size="7.4" fill="#2c2c2c" textLength="14.52" lengthAdjust="spacingAndGlyphs" text-anchor="middle" font-weight="bold">40%</text>
<rect x="417" y="1012" width="112.7" height="50" rx="3" fill="url(#sb)"/>
<rect x="421.2" y="1015.3" width="104.8" height="27" rx="2.5" fill="#c0c06b"/>
<text x="473.2" y="1053.4" font-size="7.4" fill="#2c2c2c" textLength="14.52" lengthAdjust="spacingAndGlyphs" text-anchor="middle" font-weight="bold">60%</text>
<rect x="531" y="1012" width="112.7" height="50" rx="3" fill="url(#sb)"/>
<rect x="535.2" y="1015.3" width="104.8" height="27" rx="2.5" fill="#c0be4b"/>
<text x="587.2" y="1053.4" font-size="7.4" fill="#2c2c2c" textLength="14.52" lengthAdjust="spacingAndGlyphs" text-anchor="middle" font-weight="bold">80%</text>
<rect x="645" y="1012" width="112.7" height="50" rx="3" fill="#232323"/>
<rect x="649.2" y="1015.3" width="104.8" height="27" rx="2.5" fill="#c4c200"/>
<text x="701.2" y="1053.4" font-size="7.4" fill="#fff" textLength="18.55" lengthAdjust="spacingAndGlyphs" text-anchor="middle" font-weight="bold">100%</text>
<rect x="1678" y="1028" width="35" height="34" rx="3" fill="#6a6a6a"/>
<rect x="1684.5" y="1030.5" width="22" height="22" rx="2" fill="none" stroke="#222" stroke-width="1.5"/>
<rect x="1690.5" y="1036.5" width="10" height="10" fill="#000"/>
<rect x="1715.5" y="1020" width="33" height="14" rx="2" fill="#6e6e6e"/>
<circle cx="1732" cy="1027" r="5" fill="#888"/>
<rect x="1749.9" y="1020" width="33" height="14" rx="2" fill="#6e6e6e"/>
<circle cx="1766.4" cy="1027" r="5" fill="#888"/>
<rect x="1784.3" y="1020" width="33" height="14" rx="2" fill="#6e6e6e"/>
<circle cx="1800.8" cy="1027" r="5" fill="#888"/>
<rect x="1818.7" y="1020" width="33" height="14" rx="2" fill="#6e6e6e"/>
<circle cx="1835.2" cy="1027" r="5" fill="#888"/>
<rect x="1853.1" y="1020" width="33" height="14" rx="2" fill="#6e6e6e"/>
<circle cx="1869.6" cy="1027" r="5" fill="#888"/>
<rect x="1715" y="1035" width="102.5" height="26" rx="2" fill="url(#lbtn)"/>
<rect x="1818.5" y="1035" width="102" height="26" rx="2" fill="url(#lbtn)"/>
<circle cx="1737.5" cy="1046" r="7" fill="#9a9a9a"/><circle cx="1897" cy="1046" r="7" fill="#9a9a9a"/>
<text x="1737.5" y="1049.5" font-size="11.17" fill="#333" text-anchor="middle" stroke="#333" stroke-width="0.13">«</text>
<text x="1897" y="1049.5" font-size="11.17" fill="#333" text-anchor="middle" stroke="#333" stroke-width="0.13">»</text>
<text x="1757.5" y="1051.4" font-size="15.22" fill="#262626" textLength="37.5" lengthAdjust="spacingAndGlyphs" stroke="#262626" stroke-width="0.35">Back</text>
<text x="1838" y="1051.4" font-size="15.22" fill="#262626" textLength="38.3" lengthAdjust="spacingAndGlyphs" stroke="#262626" stroke-width="0.35">Next</text>
</svg>
<div class="cw" style="left:1231px;top:118.5px;width:676.5px;height:567px"><div class="cl" style="clip-path:path('M1523.77 665.89Q1519.07 671.08 1512.73 668.46L1511.43 667.51L1508.12 664.72L1504.92 661.97L1501.18 658.59L1496.88 654.55L1493.66 651.56L1490.1 648.33L1486.13 644.74L1481.71 640.75L1476.83 636.35L1471.54 631.59L1465.86 626.45L1462.85 623.7L1459.72 620.79L1456.44 617.7L1453.02 614.43L1449.48 610.98L1445.82 607.33L1442.04 603.48L1438.16 599.43L1434.15 595.14L1429.97 590.53L1425.58 585.5L1420.92 579.95L1415.91 573.78L1410.57 566.96L1404.9 559.5L1398.94 551.44L1392.77 542.83L1386.44 533.74L1379.95 524.13L1373.28 513.99L1366.47 503.31L1359.49 492.08L1352.39 480.29L1345.21 468.02L1337.97 455.33L1330.71 442.31L1323.46 429.05L1316.24 415.61L1309.1 402.02L1302.09 388.31L1295.28 374.54L1288.77 360.8L1282.61 347.18L1276.84 333.78L1271.44 320.64L1266.38 307.81L1261.64 295.33L1257.23 283.25L1253.17 271.63L1249.48 260.55L1246.17 250.02L1243.23 240.09L1240.65 230.76L1238.44 222.02L1236.55 213.84L1234.99 206.18L1233.71 199.04L1232.72 192.4L1232 186.26L1231.55 180.59L1231.35 175.34L1231.41 170.47L1231.69 165.92L1232.2 161.69L1233.87 154.15L1236.41 147.8L1239.71 142.54L1243.68 138.37L1248.24 135.2L1253.28 132.89L1258.7 131.3L1264.46 130.29L1270.51 129.66L1276.8 129.29L1283.21 129.12L1289.63 129.07L1296.05 129.13L1302.55 129.29L1309.18 129.56L1315.95 129.93L1322.92 130.39L1330.11 130.95L1337.54 131.58L1345.21 132.3L1353.17 133.1L1357.27 133.52L1361.44 133.97L1365.69 134.43L1370.03 134.91L1374.46 135.4L1378.97 135.92L1383.58 136.45L1388.28 137L1393.08 137.56L1397.97 138.14L1402.97 138.74L1408.07 139.35L1413.27 139.98L1418.59 140.62L1424.01 141.28L1429.54 141.96L1435.18 142.65L1440.94 143.36L1446.81 144.09L1452.8 144.83L1458.91 145.59L1465.14 146.37L1471.48 147.16L1477.95 147.97L1484.53 148.79L1491.24 149.63L1498.06 150.49L1505 151.36L1512.06 152.25L1519.23 153.15L1526.51 154.07L1533.9 154.99L1541.39 155.93L1549 156.89L1556.7 157.85L1564.5 158.83L1572.38 159.82L1580.35 160.81L1588.39 161.82L1596.51 162.84L1604.7 163.86L1612.95 164.9L1621.26 165.94L1629.58 166.99L1637.87 168.04L1646.1 169.07L1654.24 170.1L1662.3 171.11L1670.28 172.11L1678.23 173.1L1686.17 174.1L1694.11 175.1L1702.01 176.09L1709.85 177.07L1717.58 178.04L1725.15 178.99L1732.53 179.91L1739.74 180.81L1746.77 181.68L1753.65 182.54L1760.38 183.38L1766.96 184.21L1773.38 185.01L1779.62 185.79L1785.68 186.56L1791.56 187.3L1797.26 188.01L1802.76 188.7L1808.08 189.37L1813.21 190.02L1818.16 190.64L1822.94 191.24L1827.55 191.82L1832 192.37L1836.3 192.91L1840.46 193.43L1844.45 193.93L1852.04 194.88L1859.19 195.78L1865.99 196.63L1872.41 197.44L1878.41 198.19L1884 198.89L1889.2 199.55L1894.01 200.15L1898.42 200.71L1904.15 201.42L1908.94 202.02L1913.13 202.55L1917.8 203.14L1922.11 203.68L1926.16 204.19L1930.54 204.74L1934.53 205.25L1934.83 205.28L1934.83 212.08Z')"><i style="top:128.5px;left:1263px;width:64px;height:2px;background:linear-gradient(90deg,#009900,#009900,#009900,#009900,#009900)"></i><i style="top:130.5px;left:1247px;width:112px;height:2px;background:linear-gradient(90deg,#009900,#009900,#009900,#009900,#009900,#009900,#009900,#009900)"></i><i style="top:132.5px;left:1247px;width:128px;height:2px;background:linear-gradient(90deg,#009900,#009900,#009900,#009900,#009900,#009900,#009900,#009900,#069900)"></i><i style="top:134.5px;left:1231px;width:160px;height:2px;background:linear-gradient(90deg,#009900,#009900,#009900,#009900,#009900,#009900,#009900,#009900,#009900,#069900,#199900)"></i><i style="top:136.5px;left:1231px;width:176px;height:2px;background:linear-gradient(90deg,#009900,#009900,#009900,#009900,#009900,#009900,#009900,#009900,#009900,#069900,#199900,#309900)"></i><i style="top:138.5px;left:1231px;width:192px;height:2px;background:linear-gradient(90deg,#009901,#009900,#009900,#009900,#009900,#009900,#009900,#009900,#009900,#059900,#199900,#309900,#4a9900)"></i><i style="top:140.5px;left:1231px;width:208px;height:2px;background:linear-gradient(90deg,#009902,#009901,#009900,#009900,#009900,#009900,#009900,#009900,#009900,#059900,#199900,#2f9900,#4a9900,#679900)"></i><i style="top:142.5px;left:1231px;width:224px;height:2px;background:linear-gradient(90deg,#009903,#009902,#009901,#009900,#009900,#009900,#009900,#009900,#009900,#059900,#189900,#2f9900,#4a9900,#679900,#899900)"></i><i style="top:144.5px;left:1231px;width:240px;height:2px;background:linear-gradient(90deg,#009905,#009904,#009903,#009902,#009901,#009900,#009900,#009900,#009900,#059900,#189900,#2f9900,#4a9900,#679900,#899900,#998500)"></i><i style="top:146.5px;left:1231px;width:256px;height:2px;background:linear-gradient(90deg,#009906,#009905,#009904,#009903,#009902,#009901,#009900,#009900,#009900,#049900,#189900,#2f9900,#499900,#689900,#8a9900,#998500,#996a00)"></i><i style="top:148.5px;left:1231px;width:272px;height:2px;background:linear-gradient(90deg,#009907,#009906,#009906,#009904,#009903,#009902,#009901,#009900,#009900,#049900,#179900,#2f9900,#499900,#689900,#8a9900,#998400,#996a00,#995600)"></i><i style="top:150.5px;left:1231px;width:288px;height:2px;background:linear-gradient(90deg,#009909,#009908,#009907,#009906,#009905,#009904,#009903,#009902,#009900,#049900,#179900,#2f9900,#499900,#689900,#8a9900,#998400,#996a00,#995600,#994700)"></i><i style="top:152.5px;left:1231px;width:304px;height:2px;background:linear-gradient(90deg,#00990a,#009909,#009908,#009908,#009907,#009905,#009904,#009903,#009902,#039901,#179900,#2e9900,#499900,#689900,#8b9900,#998400,#996900,#995600,#994700,#993b00)"></i><i style="top:154.5px;left:1231px;width:320px;height:2px;background:linear-gradient(90deg,#00990c,#00990b,#00990a,#009909,#009908,#009907,#009906,#009905,#009904,#039902,#179901,#2e9900,#499900,#689900,#8b9900,#998300,#996900,#995500,#994600,#993a00,#993100)"></i><i style="top:156.5px;left:1231px;width:336px;height:2px;background:linear-gradient(90deg,#00990d,#00990c,#00990c,#00990b,#00990a,#009909,#009908,#009907,#009905,#039904,#169903,#2e9901,#499900,#689900,#8b9900,#998300,#996800,#995500,#994600,#993a00,#993000,#992800)"></i><i style="top:158.5px;left:1231px;width:352px;height:2px;background:linear-gradient(90deg,#00990f,#00990e,#00990d,#00990c,#00990b,#00990b,#00990a,#009908,#009907,#039906,#169905,#2e9903,#499902,#689900,#8c9900,#998200,#996800,#995400,#994500,#993a00,#993000,#992800,#992200)"></i><i style="top:160.5px;left:1231px;width:368px;height:2px;background:linear-gradient(90deg,#009910,#009910,#00990f,#00990e,#00990d,#00990c,#00990b,#00990a,#009909,#029908,#169907,#2e9905,#499904,#689902,#8c9901,#998200,#996700,#995400,#994500,#993900,#993000,#992800,#992100,#991c00)"></i><i style="top:162.5px;left:1231px;width:384px;height:2px;background:linear-gradient(90deg,#009912,#009911,#009911,#009910,#00990f,#00990e,#00990d,#00990c,#00990b,#02990a,#169909,#2e9907,#499906,#699905,#8c9903,#998101,#996700,#995400,#994500,#993900,#992f00,#992700,#992100,#991b00,#991700)"></i><i style="top:164.5px;left:1231px;width:400px;height:2px;background:linear-gradient(90deg,#009914,#009913,#009912,#009912,#009911,#009910,#00990f,#00990e,#00990d,#02990c,#15990b,#2d990a,#499908,#699907,#8d9905,#998103,#996701,#995300,#994400,#993800,#992f00,#992700,#992100,#991b00,#991600,#991200)"></i><i style="top:166.5px;left:1231px;width:416px;height:2px;background:linear-gradient(90deg,#009915,#009915,#009914,#009913,#009913,#009912,#009911,#009910,#00990f,#01990e,#15990d,#2d990c,#49990b,#699909,#8d9908,#998105,#996603,#995301,#994400,#993800,#992f00,#992700,#992000,#991b00,#991600,#991200,#990f00)"></i><i style="top:168.5px;left:1231px;width:432px;height:2px;background:linear-gradient(90deg,#009917,#009916,#009916,#009915,#009914,#009914,#009913,#009912,#009911,#019910,#15990f,#2d990e,#49990d,#69990c,#8d990a,#998007,#996605,#995203,#994301,#993800,#992e00,#992600,#992000,#991b00,#991600,#991200,#990e00,#990b00)"></i><i style="top:170.5px;left:1231px;width:448px;height:2px;background:linear-gradient(90deg,#009919,#009918,#009918,#009917,#009916,#009916,#009915,#009914,#009913,#019913,#159912,#2d9911,#499910,#69990e,#8e990d,#99800a,#996507,#995204,#994303,#993701,#992e00,#992600,#992000,#991a00,#991600,#991200,#990e00,#990b00,#990900)"></i><i style="top:172.5px;left:1231px;width:464px;height:2px;background:linear-gradient(90deg,#00991a,#00991a,#009919,#009919,#009918,#009918,#009917,#009916,#009916,#019915,#149914,#2d9913,#499912,#699911,#8e9910,#997f0c,#996509,#995106,#994304,#993703,#992d01,#992601,#991f00,#991a00,#991500,#991100,#990e00,#990b00,#990800,#990600)"></i><i style="top:174.5px;left:1231px;width:480px;height:2px;background:linear-gradient(90deg,#00991c,#00991c,#00991b,#00991b,#00991a,#00991a,#009919,#009919,#009918,#009917,#149916,#2c9916,#499915,#699914,#8e9913,#997f0e,#99640b,#995108,#994206,#993604,#992d03,#992502,#991f01,#991a00,#991500,#991100,#990e00,#990b00,#990800,#990600,#990400)"></i><i style="top:176.5px;left:1231px;width:496px;height:2px;background:linear-gradient(90deg,#00991e,#00991d,#00991d,#00991d,#00991c,#00991c,#00991b,#00991b,#00991a,#00991a,#149919,#2c9918,#499917,#699917,#8f9916,#997e11,#99640d,#995009,#994207,#993605,#992d04,#992503,#991f02,#991901,#991500,#991100,#990d00,#990b00,#990800,#990600,#990400,#990200)"></i><i style="top:178.5px;left:1231px;width:512px;height:2px;background:linear-gradient(90deg,#009920,#00991f,#00991f,#00991f,#00991e,#00991e,#00991d,#00991d,#00991d,#00991c,#13991b,#2c991b,#49991a,#6a9919,#8f9919,#997e13,#99630f,#99500b,#994109,#993607,#992c05,#992504,#991e02,#991902,#991501,#991100,#990d00,#990a00,#990800,#990500,#990400,#990200,#990000)"></i><i style="top:180.5px;left:1231px;width:528px;height:2px;background:linear-gradient(90deg,#009921,#009921,#009921,#009921,#009920,#009920,#009920,#00991f,#00991f,#00991e,#13991e,#2c991d,#49991d,#6a991c,#8f991c,#997d16,#996311,#99500d,#99410a,#993508,#992c06,#992405,#991e03,#991902,#991402,#991001,#990d00,#990a00,#990800,#990500,#990300,#990200,#990000,#990000)"></i><i style="top:182.5px;left:1231px;width:544px;height:2px;background:linear-gradient(90deg,#009923,#009923,#009923,#009923,#009922,#009922,#009922,#009922,#009921,#009921,#139921,#2c9920,#499920,#6a991f,#90991f,#997d19,#996213,#994f0f,#99400c,#993509,#992c07,#992406,#991e04,#991803,#991402,#991002,#990d01,#990a00,#990700,#990500,#990300,#990100,#990000,#990000,#990000)"></i><i style="top:184.5px;left:1231px;width:560px;height:2px;background:linear-gradient(90deg,#009925,#009925,#009925,#009925,#009924,#009924,#009924,#009924,#009924,#009923,#129923,#2b9923,#489923,#6a9922,#909922,#997c1b,#996215,#994f11,#99400d,#99350b,#992b09,#992407,#991d05,#991804,#991403,#991002,#990d02,#990a01,#990701,#990500,#990300,#990100,#990000,#990000,#990000,#990000)"></i><i style="top:186.5px;left:1231px;width:576px;height:2px;background:linear-gradient(90deg,#009927,#009927,#009927,#009927,#009927,#009926,#009926,#009926,#009926,#009926,#129926,#2b9926,#489926,#6a9925,#919925,#997c1e,#996217,#994e13,#99400f,#99340c,#992b0a,#992308,#991d07,#991805,#991304,#991003,#990c02,#990902,#990701,#990501,#990300,#990100,#990000,#990000,#990000,#990000,#990000)"></i><i style="top:188.5px;left:1231px;width:592px;height:2px;background:linear-gradient(90deg,#009929,#009929,#009929,#009929,#009929,#009929,#009929,#009929,#009929,#009929,#129929,#2b9929,#489929,#6a9929,#919929,#997b21,#99611a,#994e15,#993f11,#99340e,#992b0b,#992309,#991d08,#991806,#991305,#990f04,#990c03,#990902,#990702,#990501,#990301,#990100,#990000,#990000,#990000,#990000,#990000,#990000)"></i><i style="top:190.5px;left:1231px;width:608px;height:2px;background:linear-gradient(90deg,#00992b,#00992b,#00992b,#00992b,#00992b,#00992b,#00992b,#00992b,#00992b,#00992b,#12992b,#2b992c,#48992c,#6a992c,#91992c,#997b24,#99611c,#994d17,#993f12,#99330f,#992a0d,#99230a,#991d09,#991707,#991306,#990f05,#990c04,#990903,#990602,#990402,#990201,#990101,#990000,#990000,#990000,#990000,#990000,#990000,#990000)"></i><i style="top:192.5px;left:1231px;width:624px;height:2px;background:linear-gradient(90deg,#00992d,#00992d,#00992d,#00992d,#00992d,#00992d,#00992d,#00992e,#00992e,#00992e,#11992e,#2b992f,#48992f,#6a992f,#92992f,#997a26,#99601e,#994d19,#993e14,#993311,#992a0e,#99220c,#991c0a,#991708,#991307,#990f06,#990c05,#990904,#990603,#990402,#990202,#990101,#990001,#990000,#990000,#990000,#990000,#990000,#990000,#990000)"></i><i style="top:194.5px;left:1231px;width:640px;height:2px;background:linear-gradient(90deg,#00992f,#00992f,#00992f,#00992f,#00992f,#009930,#009930,#009930,#009930,#009931,#119931,#2a9932,#489932,#6b9932,#929933,#997a29,#996021,#994c1b,#993e16,#993312,#99290f,#99220d,#991c0b,#991709,#991208,#990f07,#990b05,#990805,#990604,#990403,#990202,#990102,#990001,#990001,#990000,#990000,#990000,#990000,#990000,#990000,#990000)"></i><i style="top:196.5px;left:1231px;width:656px;height:2px;background:linear-gradient(90deg,#009930,#009931,#009931,#009931,#009932,#009932,#009932,#009933,#009933,#009934,#119934,#2a9935,#489935,#6b9936,#939937,#99792c,#995f23,#994c1d,#993e18,#993214,#992911,#99220e,#991c0c,#99160a,#991209,#990e07,#990b06,#990805,#990604,#990404,#990203,#990002,#990002,#990001,#990001,#990000,#990000,#990000,#990000,#990000,#990000,#990000)"></i><i style="top:198.5px;left:1231px;width:672px;height:2px;background:linear-gradient(90deg,#009932,#009933,#009933,#009934,#009934,#009934,#009935,#009935,#009936,#009936,#109937,#2a9938,#489939,#6b9939,#93993a,#99792f,#995f26,#994c1f,#993d19,#993215,#992912,#99210f,#991b0d,#99160b,#99120a,#990e08,#990b07,#990806,#990605,#990404,#990204,#990003,#990002,#990002,#990001,#990001,#990001,#990000,#990000,#990000,#990000,#990000,#990000)"></i><i style="top:200.5px;left:1231px;width:688px;height:2px;background:linear-gradient(90deg,#009934,#009935,#009935,#009936,#009936,#009937,#009937,#009938,#009939,#009939,#10993a,#2a993b,#48993c,#6b993d,#94993e,#997832,#995e28,#994b21,#993d1b,#993117,#992813,#992111,#991b0e,#99160c,#99110b,#990e09,#990b08,#990807,#990506,#990305,#990204,#990003,#990003,#990002,#990002,#990001,#990001,#990001,#990000,#990000,#990000,#990000,#990000,#990000)"></i><i style="top:202.5px;left:1231px;width:688px;height:2px;background:linear-gradient(90deg,#009937,#009937,#009937,#009938,#009939,#009939,#00993a,#00993b,#00993b,#00993c,#10993d,#29993e,#48993f,#6b9941,#949942,#997835,#995e2a,#994b23,#993c1d,#993119,#992815,#992112,#991b0f,#99150d,#99110c,#990d0a,#990a09,#990808,#990507,#990306,#990105,#990004,#990003,#990003,#990002,#990002,#990001,#990001,#990001,#990000,#990000,#990000,#990000,#990000)"></i><i style="top:204.5px;left:1231px;width:688px;height:2px;background:linear-gradient(90deg,#009939,#009939,#00993a,#00993a,#00993b,#00993c,#00993c,#00993d,#00993e,#00993f,#0f9940,#299941,#489943,#6b9944,#949946,#997738,#995d2d,#994a25,#993c1f,#99311a,#992816,#992013,#991a11,#99150e,#99110d,#990d0b,#990a0a,#990708,#990507,#990306,#990105,#990005,#990004,#990003,#990003,#990002,#990002,#990001,#990001,#990001,#990000,#990000,#990000,#990000)"></i><i style="top:206.5px;left:1231px;width:688px;height:2px;background:linear-gradient(90deg,#00993b,#00993b,#00993c,#00993d,#00993d,#00993e,#00993f,#009940,#009941,#009942,#0f9943,#299945,#489946,#6c9948,#95994a,#99773b,#995d30,#994a27,#993b21,#99301c,#992718,#992015,#991a12,#991510,#99110e,#990d0c,#990a0a,#990709,#990508,#990307,#990106,#990005,#990005,#990004,#990003,#990003,#990002,#990002,#990001,#990001,#990001,#990000,#990000,#990000)"></i><i style="top:208.5px;left:1231px;width:688px;height:2px;background:linear-gradient(90deg,#00993d,#00993d,#00993e,#00993f,#009940,#009941,#009942,#009943,#009944,#009945,#0f9947,#299948,#48994a,#6c994c,#95994e,#99763e,#995c32,#994929,#993b23,#99301d,#992719,#992016,#991a13,#991511,#99100f,#990d0d,#990a0b,#99070a,#990509,#990308,#990107,#990006,#990005,#990004,#990004,#990003,#990003,#990002,#990002,#990001,#990001,#990001,#990000,#990000)"></i><i style="top:210.5px;left:1231px;width:688px;height:2px;background:linear-gradient(90deg,#00993f,#009940,#009940,#009941,#009942,#009943,#009944,#009946,#009947,#009948,#0e994a,#29994c,#48994d,#6c9950,#969952,#997641,#995c35,#99492b,#993a25,#992f1f,#99261b,#991f17,#991914,#991412,#991010,#990c0e,#99090c,#99070b,#990409,#990208,#990107,#990007,#990006,#990005,#990004,#990004,#990003,#990003,#990002,#990002,#990001,#990001,#990001,#990000)"></i><i style="top:212.5px;left:1231px;width:688px;height:2px;background:linear-gradient(90deg,#009941,#009942,#009943,#009944,#009945,#009946,#009947,#009948,#00994a,#00994b,#0e994d,#28994f,#489951,#6c9954,#969956,#997544,#995b37,#99482e,#993a26,#992f21,#99261c,#991f18,#991915,#991413,#991011,#990c0f,#99090d,#99060c,#99040a,#990209,#990108,#990007,#990006,#990006,#990005,#990004,#990004,#990003,#990003,#990002,#990002,#990001,#990001,#990001)"></i><i style="top:214.5px;left:1231px;width:688px;height:2px;background:linear-gradient(90deg,#009943,#009944,#009945,#009946,#009947,#009948,#00994a,#00994b,#00994d,#00994f,#0e9950,#289953,#489955,#6c9958,#97995a,#997548,#995b3a,#994830,#993a28,#992f22,#99261e,#991f1a,#991917,#991414,#991012,#990c10,#99090e,#99060c,#99040b,#99020a,#990009,#990008,#990007,#990006,#990005,#990005,#990004,#990004,#990003,#990003,#990002,#990002,#990001,#990001)"></i><i style="top:216.5px;left:1231px;width:688px;height:2px;background:linear-gradient(90deg,#009945,#009946,#009947,#009949,#00994a,#00994b,#00994d,#00994e,#009950,#009952,#0d9954,#289956,#479959,#6c995c,#97995f,#99744b,#995a3d,#994732,#99392a,#992e24,#99251f,#991e1b,#991818,#991315,#990f13,#990c11,#99090f,#99060d,#99040c,#99020b,#990009,#990008,#990008,#990007,#990006,#990005,#990005,#990004,#990004,#990003,#990003,#990002,#990002,#990002)"></i><i style="top:218.5px;left:1231px;width:688px;height:2px;background:linear-gradient(90deg,#009948,#009949,#00994a,#00994b,#00994c,#00994e,#00994f,#009951,#009953,#009955,#0d9957,#28995a,#47995d,#6d9960,#989963,#99744e,#995a3f,#994734,#99392c,#992e26,#992521,#991e1d,#991819,#991316,#990f14,#990b12,#990810,#99060e,#99040d,#99020b,#99000a,#990009,#990008,#990007,#990007,#990006,#990005,#990005,#990004,#990004,#990003,#990003,#990002,#990002)"></i><i style="top:220.5px;left:1231px;width:688px;height:2px;background:linear-gradient(90deg,#00994a,#00994b,#00994c,#00994e,#00994f,#009951,#009952,#009954,#009956,#009958,#0d995b,#27995e,#479961,#6d9964,#989968,#997351,#995942,#994637,#99382e,#992d28,#992522,#991e1e,#99181a,#991317,#990f15,#990b12,#990811,#99060f,#99030d,#99010c,#99000b,#99000a,#990009,#990008,#990007,#990006,#990006,#990005,#990004,#990004,#990003,#990003,#990003,#990002)"></i><i style="top:222.5px;left:1231px;width:688px;height:2px;background:linear-gradient(90deg,#00994c,#00994d,#00994f,#009950,#009952,#009953,#009955,#009957,#009959,#00995c,#0c995e,#279961,#479965,#6d9968,#99996c,#997355,#995945,#994639,#993830,#992d29,#992424,#991d1f,#99171c,#991218,#990e16,#990b13,#990811,#990510,#99030e,#99010d,#99000b,#99000a,#990009,#990008,#990008,#990007,#990006,#990006,#990005,#990004,#990004,#990003,#990003,#990003)"></i><i style="top:224.5px;left:1231px;width:688px;height:2px;background:linear-gradient(90deg,#00994e,#009950,#009951,#009953,#009954,#009956,#009958,#00995a,#00995d,#00995f,#0c9962,#279965,#479969,#6d996d,#999971,#997258,#995847,#99453b,#993732,#992c2b,#992425,#991d21,#99171d,#99121a,#990e17,#990b14,#990812,#990511,#99030f,#99010d,#99000c,#99000b,#99000a,#990009,#990008,#990007,#990007,#990006,#990005,#990005,#990004,#990004,#990003,#990003)"></i><i style="top:226.5px;left:1231px;width:688px;height:2px;background:linear-gradient(90deg,#009951,#009952,#009954,#009955,#009957,#009959,#00995b,#00995d,#009960,#009963,#0b9966,#279969,#47996d,#6d9971,#999875,#99725c,#99584a,#99453e,#993734,#992c2d,#992327,#991c22,#99171e,#99121b,#990e18,#990a15,#990713,#990511,#990310,#99010e,#99000d,#99000c,#99000b,#99000a,#990009,#990008,#990007,#990007,#990006,#990005,#990005,#990004,#990004,#990003)"></i><i style="top:228.5px;left:1231px;width:688px;height:2px;background:linear-gradient(90deg,#009953,#009954,#009956,#009958,#00995a,#00995c,#00995e,#009960,#009963,#009966,#0b9969,#26996d,#479971,#6d9975,#99987a,#99715f,#99574d,#994440,#993636,#992c2f,#992329,#991c24,#99161f,#99121c,#990e19,#990a16,#990714,#990512,#990311,#99010f,#99000e,#99000c,#99000b,#99000a,#990009,#990008,#990008,#990007,#990006,#990006,#990005,#990005,#990004,#990004)"></i><i style="top:230.5px;left:1231px;width:688px;height:2px;background:linear-gradient(90deg,#009955,#009957,#009959,#00995b,#00995d,#00995f,#009961,#009964,#009967,#00996a,#0b996d,#269971,#479975,#6e997a,#99977e,#997163,#995750,#994442,#993638,#992b30,#99232a,#991c25,#991621,#99111d,#990d1a,#990a17,#990715,#990413,#990211,#990110,#99000e,#99000d,#99000c,#99000b,#99000a,#990009,#990008,#990007,#990007,#990006,#990006,#990005,#990005,#990004)"></i><i style="top:232.5px;left:1231px;width:688px;height:2px;background:linear-gradient(90deg,#009958,#009959,#00995b,#00995d,#00995f,#009962,#009964,#009967,#00996a,#00996d,#0a9971,#269975,#47997a,#6e997f,#999783,#997066,#995653,#994345,#99363a,#992b32,#99222c,#991b26,#991622,#99111e,#990d1b,#990a18,#990716,#990414,#990212,#990011,#99000f,#99000e,#99000d,#99000b,#99000a,#99000a,#990009,#990008,#990007,#990007,#990006,#990005,#990005,#990005)"></i><i style="top:234.5px;left:1231px;width:688px;height:2px;background:linear-gradient(90deg,#00995a,#00995c,#00995e,#009960,#009962,#009965,#009967,#00996a,#00996d,#009971,#0a9975,#269979,#47997e,#6e9983,#999687,#99706a,#995656,#994347,#99353c,#992a34,#99222d,#991b28,#991523,#991120,#990d1c,#990919,#990617,#990415,#990213,#990011,#990010,#99000e,#99000d,#99000c,#99000b,#99000a,#990009,#990009,#990008,#990007,#990007,#990006,#990005,#990005)"></i><i style="top:236.5px;left:1231px;width:688px;height:2px;background:linear-gradient(90deg,#00995d,#00995e,#009960,#009963,#009965,#009968,#00996a,#00996e,#009971,#009975,#0a9979,#25997d,#479982,#6e9988,#99968c,#996f6d,#995559,#99434a,#99353f,#992a36,#99222f,#991b29,#991525,#991021,#990c1d,#99091a,#990618,#990416,#990214,#990012,#990011,#99000f,#99000e,#99000d,#99000c,#99000b,#99000a,#990009,#990008,#990008,#990007,#990006,#990006,#990005)"></i><i style="top:238.5px;left:1231px;width:688px;height:2px;background:linear-gradient(90deg,#00995f,#009961,#009963,#009965,#009968,#00996b,#00996e,#009971,#009974,#009978,#09997d,#259982,#479987,#6e998d,#999590,#996e71,#99555b,#99424c,#993441,#992a38,#992131,#991a2b,#991526,#991022,#990c1f,#99091c,#990619,#990417,#990215,#990013,#990011,#990010,#99000f,#99000d,#99000c,#99000b,#99000a,#99000a,#990009,#990008,#990007,#990007,#990006,#990006)"></i><i style="top:240.5px;left:1231px;width:688px;height:2px;background:linear-gradient(90deg,#009961,#009964,#009966,#009968,#00996b,#00996e,#009971,#009974,#009978,#00997c,#099981,#259986,#47998c,#6f9992,#999595,#996e74,#99545e,#99424f,#993443,#99293a,#992132,#991a2c,#991427,#991023,#990c20,#99091d,#99061a,#990318,#990115,#990014,#990012,#990011,#99000f,#99000e,#99000d,#99000c,#99000b,#99000a,#990009,#990009,#990008,#990007,#990007,#990006)"></i><i style="top:242.5px;left:1231px;width:688px;height:2px;background:linear-gradient(90deg,#009964,#009966,#009968,#00996b,#00996e,#009971,#009974,#009978,#00997c,#009980,#089985,#24998a,#469990,#6f9997,#989399,#996d78,#995361,#994151,#993345,#99293c,#992034,#991a2e,#991429,#990f24,#990c21,#99081e,#99061b,#990318,#990116,#990014,#990013,#990011,#990010,#99000f,#99000d,#99000c,#99000b,#99000b,#99000a,#990009,#990008,#990008,#990007,#990006)"></i><i style="top:244.5px;left:1231px;width:688px;height:2px;background:linear-gradient(90deg,#009966,#009969,#00996b,#00996e,#009971,#009974,#009977,#00997b,#00997f,#009984,#089989,#24998f,#469995,#6d9699,#938e99,#996d7c,#995364,#994154,#993347,#99283d,#992036,#99192f,#99142a,#990f26,#990b22,#99081f,#99051c,#990319,#990117,#990015,#990013,#990012,#990011,#99000f,#99000e,#99000d,#99000c,#99000b,#99000a,#990009,#990009,#990008,#990007,#990007)"></i><i style="top:246.5px;left:1231px;width:688px;height:2px;background:linear-gradient(90deg,#009969,#00996b,#00996e,#009971,#009974,#009977,#00997b,#00997f,#009983,#009988,#08998d,#249993,#469899,#699199,#8f8999,#996c80,#995268,#994056,#993249,#99283f,#992037,#991931,#99132b,#990f27,#990b23,#990820,#99051d,#99031a,#990118,#990016,#990014,#990013,#990011,#990010,#99000f,#99000e,#99000d,#99000c,#99000b,#99000a,#990009,#990009,#990008,#990007)"></i><i style="top:248.5px;left:1231px;width:672px;height:2px;background:linear-gradient(90deg,#00996c,#00996e,#009971,#009974,#009977,#00997a,#00997e,#009982,#009987,#00998c,#079992,#249998,#449399,#668c99,#8b8599,#996c83,#99526b,#993f59,#99324c,#992741,#991f39,#991832,#99132d,#990f28,#990b24,#990821,#99051e,#99031b,#990119,#990017,#990015,#990013,#990012,#990010,#99000f,#99000e,#99000d,#99000c,#99000b,#99000a,#99000a,#990009,#990008)"></i><i style="top:250.5px;left:1231px;width:672px;height:2px;background:linear-gradient(90deg,#00996e,#009971,#009974,#009977,#00997a,#00997e,#009982,#009986,#00998b,#009990,#079996,#229599,#418f99,#638899,#878099,#996b87,#99516e,#993f5b,#99314e,#992743,#991f3b,#991834,#99132e,#990e29,#990a25,#990722,#99051f,#99021c,#99001a,#990018,#990016,#990014,#990013,#990011,#990010,#99000f,#99000e,#99000d,#99000c,#99000b,#99000a,#990009,#990009)"></i><i style="top:252.5px;left:1231px;width:672px;height:2px;background:linear-gradient(90deg,#009971,#009974,#009976,#00997a,#00997d,#009981,#009985,#00998a,#00998f,#009994,#069899,#219199,#3f8a99,#608399,#837c99,#996a8b,#995171,#993e5e,#993150,#992745,#991e3c,#991835,#991230,#990e2b,#990a26,#990723,#990420,#99021d,#99001b,#990018,#990017,#990015,#990013,#990012,#990010,#99000f,#99000e,#99000d,#99000c,#99000b,#99000b,#99000a,#990009)"></i><i style="top:254.5px;left:1247px;width:656px;height:2px;background:linear-gradient(90deg,#009976,#009979,#00997d,#009980,#009984,#009989,#00998d,#009993,#009998,#069399,#208d99,#3d8699,#5d7f99,#7f7899,#996a8f,#995074,#993e61,#993052,#992647,#991e3e,#991737,#991231,#990e2c,#990a28,#990724,#990421,#99021e,#99001b,#990019,#990017,#990016,#990014,#990012,#990011,#990010,#99000f,#99000e,#99000d,#99000c,#99000b,#99000a,#99000a)"></i><i style="top:256.5px;left:1247px;width:656px;height:2px;background:linear-gradient(90deg,#009979,#00997c,#009980,#009984,#009988,#00998c,#009991,#009997,#009599,#058f99,#1f8999,#3b8299,#5b7c99,#7c7599,#996993,#995077,#993d63,#993054,#992649,#991e40,#991738,#991232,#990d2d,#990a29,#990625,#990422,#99021f,#99001c,#99001a,#990018,#990016,#990015,#990013,#990012,#990010,#99000f,#99000e,#99000d,#99000c,#99000c,#99000b,#99000a)"></i><i style="top:258.5px;left:1247px;width:656px;height:2px;background:linear-gradient(90deg,#00997c,#00997f,#009983,#009987,#00998b,#009990,#009995,#009799,#009199,#058b99,#1e8599,#3a7e99,#587899,#797199,#996997,#994f7a,#993d66,#993057,#99254b,#991d42,#99173a,#991134,#990d2e,#99092a,#990626,#990423,#990120,#99001d,#99001b,#990019,#990017,#990015,#990014,#990012,#990011,#990010,#99000f,#99000e,#99000d,#99000c,#99000b,#99000b)"></i><i style="top:260.5px;left:1247px;width:656px;height:2px;background:linear-gradient(90deg,#00997f,#009982,#009986,#00998a,#00998f,#009994,#009999,#009399,#008d99,#048799,#1d8199,#387b99,#567499,#756e99,#976799,#994e7e,#993c69,#992f59,#99254d,#991d43,#99163c,#991135,#990d30,#99092b,#990627,#990324,#990121,#99001e,#99001c,#99001a,#990018,#990016,#990014,#990013,#990012,#990010,#99000f,#99000e,#99000d,#99000d,#99000c,#99000b)"></i><i style="top:262.5px;left:1247px;width:656px;height:2px;background:linear-gradient(90deg,#009982,#009985,#009989,#00998d,#009992,#009997,#009599,#009099,#008a99,#048499,#1b7e99,#367799,#537199,#726a99,#936399,#994e81,#993c6b,#992f5b,#99244f,#991c45,#99163d,#991137,#990c31,#99092c,#990628,#990325,#990122,#99001f,#99001d,#99001a,#990018,#990017,#990015,#990014,#990012,#990011,#990010,#99000f,#99000e,#99000d,#99000c,#99000b)"></i><i style="top:264.5px;left:1247px;width:656px;height:2px;background:linear-gradient(90deg,#009985,#009988,#00998c,#009991,#009996,#009799,#009299,#008c99,#008699,#038099,#1a7a99,#357499,#516e99,#6f6799,#8f6099,#994d84,#993b6e,#992e5e,#992451,#991c47,#99163f,#991038,#990c32,#99082e,#990529,#990326,#990123,#990020,#99001d,#99001b,#990019,#990017,#990016,#990014,#990013,#990012,#990010,#99000f,#99000e,#99000e,#99000d,#99000c)"></i><i style="top:266.5px;left:1247px;width:640px;height:2px;background:linear-gradient(90deg,#009988,#00998b,#009990,#009994,#009999,#009399,#008e99,#008899,#008399,#037d99,#197799,#337199,#4f6b99,#6d6499,#8c5d99,#994d87,#993b71,#992e60,#992353,#991c49,#991540,#991039,#990c34,#99082f,#99052b,#990327,#990124,#990021,#99001e,#99001c,#99001a,#990018,#990016,#990015,#990013,#990012,#990011,#990010,#99000f,#99000e,#99000d)"></i><i style="top:268.5px;left:1247px;width:640px;height:2px;background:linear-gradient(90deg,#00998b,#00998f,#009993,#009998,#009599,#009099,#008b99,#008599,#007f99,#037a99,#197499,#326e99,#4d6899,#6a6199,#885b99,#994c8b,#993a74,#992d62,#992355,#991b4b,#991542,#99103b,#990b35,#990830,#99052c,#990228,#990025,#990022,#99001f,#99001d,#99001b,#990019,#990017,#990016,#990014,#990013,#990012,#990010,#99000f,#99000e,#99000e)"></i><i style="top:270.5px;left:1247px;width:640px;height:2px;background:linear-gradient(90deg,#00998e,#009992,#009996,#009799,#009299,#008d99,#008799,#008299,#007c99,#027799,#187199,#306b99,#4b6599,#675e99,#855899,#994c8e,#993a76,#992d65,#992357,#991b4c,#991444,#990f3c,#990b36,#990831,#99052d,#990229,#990026,#990023,#990020,#99001e,#99001b,#990019,#990018,#990016,#990015,#990013,#990012,#990011,#990010,#99000f,#99000e)"></i><i style="top:272.5px;left:1247px;width:640px;height:2px;background:linear-gradient(90deg,#009991,#009995,#009899,#009399,#008e99,#008999,#008499,#007f99,#007999,#027499,#176e99,#2f6899,#496299,#655c99,#825599,#994b92,#993979,#992c67,#992259,#991a4e,#991445,#990f3e,#990b38,#990732,#99042e,#99022a,#990027,#990023,#990021,#99001e,#99001c,#99001a,#990018,#990017,#990015,#990014,#990013,#990012,#990010,#99000f,#99000f)"></i><i style="top:274.5px;left:1247px;width:640px;height:2px;background:linear-gradient(90deg,#009994,#009998,#009599,#009099,#008b99,#008699,#008199,#007c99,#007699,#017199,#166b99,#2e6599,#475f99,#625999,#7f5399,#994a95,#99397c,#992c69,#99225b,#991a50,#991447,#990f3f,#990a39,#990734,#99042f,#99022b,#990027,#990024,#990022,#99001f,#99001d,#99001b,#990019,#990017,#990016,#990015,#990013,#990012,#990011,#990010,#99000f)"></i><i style="top:276.5px;left:1247px;width:640px;height:2px;background:linear-gradient(90deg,#009997,#009799,#009299,#008d99,#008899,#008399,#007e99,#007999,#007399,#016e99,#156899,#2c6299,#455d99,#605799,#7c5099,#994a98,#99387f,#992b6c,#99215d,#991a52,#991349,#990e41,#990a3a,#990735,#990430,#99022c,#990028,#990025,#990022,#990020,#99001e,#99001c,#99001a,#990018,#990017,#990015,#990014,#990013,#990012,#990010,#99000f)"></i><i style="top:278.5px;left:1247px;width:640px;height:2px;background:linear-gradient(90deg,#009899,#009499,#008f99,#008a99,#008599,#008099,#007b99,#007699,#007199,#016b99,#146699,#2b6099,#445a99,#5e5499,#794e99,#964899,#993882,#992b6e,#99215f,#991954,#99134a,#990e42,#990a3c,#990636,#990431,#99012d,#990029,#990026,#990023,#990021,#99001e,#99001c,#99001a,#990019,#990017,#990016,#990014,#990013,#990012,#990011,#990010)"></i><i style="top:280.5px;left:1247px;width:640px;height:2px;background:linear-gradient(90deg,#009599,#009199,#008c99,#008799,#008299,#007d99,#007899,#007399,#006e99,#016899,#146399,#2a5d99,#425899,#5c5299,#774c99,#934699,#993785,#992a71,#992062,#991956,#99134c,#990e44,#990a3d,#990637,#990332,#99012e,#99002a,#990027,#990024,#990022,#99001f,#99001d,#99001b,#990019,#990018,#990016,#990015,#990014,#990013,#990011,#990010)"></i><i style="top:282.5px;left:1247px;width:640px;height:2px;background:linear-gradient(90deg,#009299,#008e99,#008999,#008499,#007f99,#007b99,#007699,#007099,#006b99,#006699,#136099,#295b99,#405599,#595099,#744a99,#904499,#993788,#992a73,#992064,#991857,#99124e,#990d45,#99093e,#990639,#990334,#99012f,#99002b,#990028,#990025,#990022,#990020,#99001e,#99001c,#99001a,#990018,#990017,#990016,#990014,#990013,#990012,#990011)"></i><i style="top:284.5px;left:1247px;width:624px;height:2px;background:linear-gradient(90deg,#008f99,#008b99,#008699,#008199,#007d99,#007899,#007399,#006e99,#006999,#006399,#125e99,#285999,#3f5399,#574d99,#714899,#8d4299,#99368a,#992976,#991f66,#991859,#99124f,#990d47,#990940,#99063a,#990335,#990130,#99002c,#990029,#990026,#990023,#990021,#99001f,#99001d,#99001b,#990019,#990018,#990016,#990015,#990014,#990012)"></i><i style="top:286.5px;left:1247px;width:624px;height:2px;background:linear-gradient(90deg,#008c99,#008899,#008399,#007f99,#007a99,#007599,#007099,#006b99,#006699,#006199,#125c99,#275699,#3d5199,#554b99,#6f4699,#8a4099,#99358d,#992978,#991f68,#99175b,#991151,#990d48,#990941,#99053b,#990336,#990031,#99002d,#99002a,#990027,#990024,#990022,#99001f,#99001d,#99001b,#99001a,#990018,#990017,#990015,#990014,#990013)"></i><i style="top:288.5px;left:1247px;width:624px;height:2px;background:linear-gradient(90deg,#008a99,#008599,#008199,#007c99,#007899,#007399,#006e99,#006999,#006499,#005f99,#115a99,#265499,#3c4f99,#544999,#6d4499,#873e99,#993590,#99287b,#991f6a,#99175d,#991153,#990c4a,#990843,#99053c,#990237,#990032,#99002e,#99002b,#990028,#990025,#990022,#990020,#99001e,#99001c,#99001a,#990019,#990017,#990016,#990015,#990013)"></i><i style="top:290.5px;left:1247px;width:624px;height:2px;background:linear-gradient(90deg,#008799,#008399,#007e99,#007a99,#007599,#007099,#006c99,#006799,#006299,#005d99,#105799,#255299,#3a4d99,#524799,#6a4299,#843c99,#993493,#99287d,#991e6c,#99175f,#991154,#990c4b,#990844,#99053e,#990238,#990034,#99002f,#99002c,#990029,#990026,#990023,#990021,#99001f,#99001d,#99001b,#990019,#990018,#990016,#990015,#990014)"></i><i style="top:292.5px;left:1247px;width:624px;height:2px;background:linear-gradient(90deg,#008499,#008099,#007c99,#007799,#007399,#006e99,#006999,#006499,#005f99,#005a99,#105599,#245099,#394b99,#504599,#684099,#813a99,#993496,#992780,#991e6f,#991661,#991056,#990c4d,#990845,#99053f,#990239,#990035,#990030,#99002d,#990029,#990027,#990024,#990022,#99001f,#99001d,#99001c,#99001a,#990018,#990017,#990016,#990015)"></i><i style="top:294.5px;left:1247px;width:624px;height:2px;background:linear-gradient(90deg,#008299,#007e99,#007999,#007599,#007099,#006c99,#006799,#006299,#005d99,#005899,#0f5399,#234e99,#384999,#4e4499,#663e99,#7f3999,#993399,#992782,#991d71,#991663,#991058,#990b4e,#990747,#990440,#99023b,#990036,#990031,#99002e,#99002a,#990027,#990025,#990022,#990020,#99001e,#99001c,#99001b,#990019,#990018,#990016,#990015)"></i><i style="top:296.5px;left:1247px;width:624px;height:2px;background:linear-gradient(90deg,#007f99,#007b99,#007799,#007299,#006e99,#006999,#006599,#006099,#005b99,#005699,#0f5199,#224c99,#374799,#4d4299,#643c99,#7c3799,#963199,#992685,#991d73,#991565,#991059,#990b50,#990748,#990441,#99013c,#990037,#990032,#99002f,#99002b,#990028,#990025,#990023,#990021,#99001f,#99001d,#99001b,#99001a,#990018,#990017,#990016)"></i><i style="top:298.5px;left:1247px;width:624px;height:2px;background:linear-gradient(90deg,#007d99,#007999,#007599,#007099,#006c99,#006799,#006399,#005e99,#005999,#005499,#0e4f99,#214a99,#354599,#4b4099,#623b99,#7a3599,#933099,#992688,#991c75,#991567,#990f5b,#990b52,#99074a,#990443,#99013d,#990038,#990033,#990030,#99002c,#990029,#990026,#990024,#990021,#99001f,#99001e,#99001c,#99001a,#990019,#990017,#990016)"></i><i style="top:300.5px;left:1263px;width:592px;height:2px;background:linear-gradient(90deg,#007799,#007299,#006e99,#006a99,#006599,#006199,#005c99,#005799,#005299,#0d4e99,#204999,#344499,#493e99,#603999,#773499,#902f99,#99258a,#991c78,#991569,#990f5d,#990a53,#99064b,#990344,#99013e,#990039,#990035,#990031,#99002d,#99002a,#990027,#990025,#990022,#990020,#99001e,#99001c,#99001b,#990019,#990018)"></i><i style="top:302.5px;left:1263px;width:592px;height:2px;background:linear-gradient(90deg,#007499,#007099,#006c99,#006799,#006399,#005f99,#005a99,#005599,#005199,#0d4c99,#1f4799,#334299,#483d99,#5e3899,#753299,#8d2d99,#99258d,#991b7a,#99146b,#990e5f,#990a55,#99064c,#990345,#99013f,#99003a,#990036,#990032,#99002e,#99002b,#990028,#990025,#990023,#990021,#99001f,#99001d,#99001b,#99001a,#990018)"></i><i style="top:304.5px;left:1263px;width:592px;height:2px;background:linear-gradient(90deg,#007299,#006e99,#006a99,#006599,#006199,#005d99,#005899,#005399,#004f99,#0c4a99,#1e4599,#324099,#463b99,#5c3699,#733199,#8b2c99,#99248f,#991b7c,#99146d,#990e60,#990a56,#99064e,#990347,#990141,#99003b,#990037,#990032,#99002f,#99002c,#990029,#990026,#990024,#990021,#99001f,#99001e,#99001c,#99001a,#990019)"></i><i style="top:306.5px;left:1263px;width:592px;height:2px;background:linear-gradient(90deg,#007099,#006c99,#006899,#006399,#005f99,#005b99,#005699,#005299,#004d99,#0c4899,#1e4399,#313f99,#453a99,#5a3599,#713099,#882a99,#992492,#991a7e,#99136f,#990e62,#990958,#99064f,#990348,#990042,#99003c,#990038,#990033,#990030,#99002c,#990029,#990027,#990024,#990022,#990020,#99001e,#99001d,#99001b,#99001a)"></i><i style="top:308.5px;left:1263px;width:592px;height:2px;background:linear-gradient(90deg,#006e99,#006a99,#006699,#006299,#005d99,#005999,#005499,#005099,#004b99,#0b4799,#1d4299,#303d99,#443899,#593399,#6f2e99,#862999,#992395,#991a81,#991371,#990d64,#99095a,#990551,#990249,#990043,#99003d,#990039,#990034,#990031,#99002d,#99002a,#990028,#990025,#990023,#990021,#99001f,#99001d,#99001c,#99001a)"></i><i style="top:310.5px;left:1263px;width:592px;height:2px;background:linear-gradient(90deg,#006c99,#006899,#006499,#006099,#005b99,#005799,#005399,#004e99,#004a99,#0b4599,#1c4099,#2f3c99,#423799,#573299,#6d2d99,#832899,#992398,#991983,#991273,#990d66,#99095b,#990552,#99024b,#990044,#99003f,#99003a,#990035,#990032,#99002e,#99002b,#990028,#990026,#990024,#990021,#990020,#99001e,#99001c,#99001b)"></i><i style="top:312.5px;left:1263px;width:592px;height:2px;background:linear-gradient(90deg,#006a99,#006699,#006299,#005e99,#005a99,#005599,#005199,#004c99,#004899,#0b4399,#1b3f99,#2e3a99,#413599,#553199,#6b2c99,#812799,#982299,#991985,#991275,#990d68,#99085d,#990554,#99024c,#990045,#990040,#99003b,#990036,#990032,#99002f,#99002c,#990029,#990027,#990024,#990022,#990020,#99001e,#99001d,#99001b)"></i><i style="top:314.5px;left:1263px;width:592px;height:2px;background:linear-gradient(90deg,#006899,#006499,#006099,#005c99,#005899,#005499,#004f99,#004b99,#004699,#0a4299,#1b3d99,#2d3999,#403499,#542f99,#692a99,#7e2699,#952199,#991988,#991277,#990c69,#99085e,#990455,#99024d,#990047,#990041,#99003c,#990037,#990033,#990030,#99002d,#99002a,#990027,#990025,#990023,#990021,#99001f,#99001d,#99001c)"></i><i style="top:316.5px;left:1263px;width:592px;height:2px;background:linear-gradient(90deg,#006699,#006299,#005e99,#005a99,#005699,#005299,#004e99,#004999,#004599,#0a4099,#1a3c99,#2c3799,#3e3399,#522e99,#672999,#7c2499,#932099,#99188a,#991179,#990c6b,#990760,#990457,#99014f,#990048,#990042,#99003d,#990038,#990034,#990031,#99002e,#99002b,#990028,#990026,#990023,#990021,#990020,#99001e,#99001c)"></i><i style="top:318.5px;left:1263px;width:576px;height:2px;background:linear-gradient(90deg,#006599,#006199,#005d99,#005999,#005499,#005099,#004c99,#004899,#004399,#093f99,#193b99,#2b3699,#3d3199,#512d99,#652899,#7a2399,#901f99,#99188c,#99117b,#990b6d,#990762,#990458,#990150,#990049,#990043,#99003e,#990039,#990035,#990032,#99002e,#99002b,#990029,#990026,#990024,#990022,#990020,#99001e)"></i><i style="top:320.5px;left:1263px;width:576px;height:2px;background:linear-gradient(90deg,#006399,#005f99,#005b99,#005799,#005399,#004f99,#004a99,#004699,#004299,#093e99,#193999,#2a3599,#3c3099,#4f2c99,#632799,#782299,#8e1e99,#99178f,#99107d,#990b6f,#990763,#99035a,#990151,#99004a,#990044,#99003f,#99003a,#990036,#990033,#99002f,#99002c,#990029,#990027,#990025,#990023,#990021,#99001f)"></i><i style="top:322.5px;left:1263px;width:576px;height:2px;background:linear-gradient(90deg,#006199,#005d99,#005999,#005599,#005199,#004d99,#004999,#004599,#004199,#093c99,#183899,#293399,#3b2f99,#4e2a99,#622699,#762199,#8b1d99,#991791,#99107f,#990b71,#990665,#99035b,#990153,#99004c,#990045,#990040,#99003b,#990037,#990033,#990030,#99002d,#99002a,#990028,#990025,#990023,#990021,#990020)"></i><i style="top:324.5px;left:1263px;width:576px;height:2px;background:linear-gradient(90deg,#005f99,#005b99,#005899,#005499,#005099,#004c99,#004899,#004399,#003f99,#083b99,#173799,#283299,#3a2e99,#4c2999,#602599,#742099,#891c99,#991694,#990f81,#990a73,#990667,#99035d,#990054,#99004d,#990047,#990041,#99003c,#990038,#990034,#990031,#99002e,#99002b,#990028,#990026,#990024,#990022,#990020)"></i><i style="top:326.5px;left:1263px;width:576px;height:2px;background:linear-gradient(90deg,#005e99,#005a99,#005699,#005299,#004e99,#004a99,#004699,#004299,#003e99,#083a99,#173599,#273199,#392d99,#4b2899,#5e2499,#721f99,#871b99,#991696,#990f83,#990a75,#990668,#99035e,#990056,#99004e,#990048,#990042,#99003d,#990039,#990035,#990032,#99002f,#99002c,#990029,#990027,#990025,#990023,#990021)"></i><i style="top:328.5px;left:1263px;width:576px;height:2px;background:linear-gradient(90deg,#005c99,#005899,#005499,#005199,#004d99,#004999,#004599,#004199,#003c99,#073899,#163499,#273099,#382b99,#4a2799,#5d2399,#701e99,#851a99,#991598,#990f86,#990a76,#99056a,#990260,#990057,#99004f,#990049,#990043,#99003e,#99003a,#990036,#990033,#99002f,#99002c,#99002a,#990027,#990025,#990023,#990021)"></i><i style="top:330.5px;left:1263px;width:576px;height:2px;background:linear-gradient(90deg,#005a99,#005799,#005399,#004f99,#004b99,#004799,#004399,#003f99,#003b99,#073799,#163399,#262f99,#372a99,#492699,#5b2299,#6e1d99,#821999,#971499,#990e88,#990978,#99056c,#990261,#990058,#990051,#99004a,#990044,#99003f,#99003b,#990037,#990033,#990030,#99002d,#99002b,#990028,#990026,#990024,#990022)"></i><i style="top:332.5px;left:1263px;width:576px;height:2px;background:linear-gradient(90deg,#005999,#005599,#005199,#004e99,#004a99,#004699,#004299,#003e99,#003a99,#073699,#153299,#252e99,#362999,#472599,#5a2199,#6d1c99,#801899,#951499,#990e8a,#99097a,#99056d,#990263,#99005a,#990052,#99004b,#990046,#990040,#99003c,#990038,#990034,#990031,#99002e,#99002b,#990029,#990027,#990024,#990023)"></i><i style="top:334.5px;left:1263px;width:576px;height:2px;background:linear-gradient(90deg,#005799,#005499,#005099,#004c99,#004899,#004599,#004199,#003d99,#003999,#063599,#153199,#242c99,#352899,#462499,#582099,#6b1c99,#7e1799,#921399,#990d8c,#99087c,#99046f,#990164,#99005b,#990053,#99004d,#990047,#990041,#99003d,#990039,#990035,#990032,#99002f,#99002c,#990029,#990027,#990025,#990023)"></i><i style="top:336.5px;left:1263px;width:560px;height:2px;background:linear-gradient(90deg,#005699,#005299,#004f99,#004b99,#004799,#004399,#003f99,#003c99,#003899,#063499,#142f99,#232b99,#342799,#452399,#571f99,#691b99,#7c1699,#901299,#990d8e,#99087e,#990471,#990166,#99005c,#990055,#99004e,#990048,#990042,#99003e,#99003a,#990036,#990033,#99002f,#99002d,#99002a,#990028,#990026)"></i><i style="top:338.5px;left:1263px;width:560px;height:2px;background:linear-gradient(90deg,#005599,#005199,#004d99,#004a99,#004699,#004299,#003e99,#003a99,#003699,#063299,#142e99,#232a99,#332699,#442299,#551e99,#681a99,#7a1699,#8e1199,#990c90,#990880,#990472,#990167,#99005e,#990056,#99004f,#990049,#990043,#99003f,#99003b,#990037,#990033,#990030,#99002d,#99002b,#990028,#990026)"></i><i style="top:340.5px;left:1279px;width:544px;height:2px;background:linear-gradient(90deg,#005099,#004c99,#004899,#004599,#004199,#003d99,#003999,#003599,#053199,#132d99,#222999,#322599,#432199,#541d99,#661999,#791599,#8c1199,#990c93,#990782,#990374,#990169,#99005f,#990057,#990050,#99004a,#990045,#990040,#99003b,#990038,#990034,#990031,#99002e,#99002c,#990029,#990027)"></i><i style="top:342.5px;left:1279px;width:544px;height:2px;background:linear-gradient(90deg,#004e99,#004b99,#004799,#004399,#004099,#003c99,#003899,#003499,#053099,#132c99,#212899,#312499,#412099,#531c99,#641899,#771499,#8a1099,#990c95,#990784,#990376,#99006a,#990061,#990058,#990051,#99004b,#990046,#990041,#99003c,#990038,#990035,#990032,#99002f,#99002c,#99002a,#990028)"></i><i style="top:344.5px;left:1279px;width:544px;height:2px;background:linear-gradient(90deg,#004d99,#004999,#004699,#004299,#003e99,#003b99,#003799,#003399,#052f99,#122b99,#212799,#302399,#401f99,#511b99,#631799,#751399,#880f99,#990b97,#990686,#990378,#99006c,#990062,#99005a,#990052,#99004c,#990047,#990042,#99003d,#990039,#990036,#990033,#990030,#99002d,#99002a,#990028)"></i><i style="top:346.5px;left:1279px;width:544px;height:2px;background:linear-gradient(90deg,#004c99,#004899,#004499,#004199,#003d99,#003a99,#003699,#003299,#052e99,#122a99,#202699,#2f2399,#3f1f99,#501b99,#611799,#731399,#860f99,#990b99,#990688,#990279,#99006e,#990064,#99005b,#990054,#99004d,#990048,#990043,#99003e,#99003a,#990037,#990033,#990030,#99002e,#99002b,#990029)"></i><i style="top:348.5px;left:1279px;width:544px;height:2px;background:linear-gradient(90deg,#004a99,#004799,#004399,#004099,#003c99,#003899,#003599,#003199,#042d99,#112999,#1f2699,#2e2299,#3e1e99,#4f1a99,#601699,#721299,#840e99,#970a99,#99068a,#99027b,#99006f,#990065,#99005c,#990055,#99004e,#990049,#990044,#99003f,#99003b,#990037,#990034,#990031,#99002e,#99002c,#990029)"></i><i style="top:350.5px;left:1279px;width:544px;height:2px;background:linear-gradient(90deg,#004999,#004699,#004299,#003f99,#003b99,#003799,#003499,#003099,#042c99,#112899,#1f2599,#2e2199,#3d1d99,#4e1999,#5e1599,#701199,#820d99,#940a99,#99058c,#99027d,#990071,#990066,#99005e,#990056,#990050,#99004a,#990045,#990040,#99003c,#990038,#990035,#990032,#99002f,#99002c,#99002a)"></i><i style="top:352.5px;left:1279px;width:544px;height:2px;background:linear-gradient(90deg,#004899,#004499,#004199,#003d99,#003a99,#003699,#003399,#002f99,#042b99,#102899,#1e2499,#2d2099,#3c1c99,#4c1899,#5d1599,#6e1199,#800d99,#920999,#99058e,#99027f,#990072,#990068,#99005f,#990057,#990051,#99004b,#990046,#990041,#99003d,#990039,#990036,#990033,#990030,#99002d,#99002b)"></i><i style="top:354.5px;left:1279px;width:528px;height:2px;background:linear-gradient(90deg,#004799,#004399,#004099,#003c99,#003999,#003599,#003299,#002e99,#042a99,#102799,#1e2399,#2c1f99,#3b1b99,#4b1899,#5c1499,#6d1099,#7e0c99,#900999,#990590,#990181,#990074,#990069,#990060,#990059,#990052,#99004c,#990047,#990042,#99003e,#99003a,#990036,#990033,#990030,#99002e)"></i><i style="top:356.5px;left:1279px;width:528px;height:2px;background:linear-gradient(90deg,#004599,#004299,#003f99,#003b99,#003899,#003499,#003199,#002d99,#032999,#102699,#1d2299,#2b1e99,#3a1b99,#4a1799,#5a1399,#6b0f99,#7c0c99,#8e0899,#990492,#990182,#990076,#99006b,#990062,#99005a,#990053,#99004d,#990048,#990043,#99003f,#99003b,#990037,#990034,#990031,#99002e)"></i><i style="top:358.5px;left:1279px;width:528px;height:2px;background:linear-gradient(90deg,#004499,#004199,#003e99,#003a99,#003799,#003399,#003099,#002c99,#032999,#0f2599,#1c2199,#2b1e99,#391a99,#491699,#591399,#6a0f99,#7b0b99,#8c0799,#990494,#990184,#990077,#99006c,#990063,#99005b,#990054,#99004e,#990049,#990044,#99003f,#99003b,#990038,#990035,#990032,#99002f)"></i><i style="top:360.5px;left:1279px;width:528px;height:2px;background:linear-gradient(90deg,#004399,#004099,#003d99,#003999,#003699,#003299,#002f99,#002b99,#032899,#0f2499,#1c2099,#2a1d99,#391999,#481699,#581299,#680e99,#790b99,#8a0799,#990396,#990086,#990079,#99006e,#990064,#99005c,#990055,#99004f,#99004a,#990045,#990040,#99003c,#990039,#990036,#990033,#990030)"></i><i style="top:362.5px;left:1279px;width:528px;height:2px;background:linear-gradient(90deg,#004299,#003f99,#003b99,#003899,#003599,#003199,#002e99,#002a99,#032799,#0e2399,#1b2099,#291c99,#381899,#471599,#561199,#670e99,#770a99,#890799,#990398,#990088,#99007a,#99006f,#990066,#99005e,#990056,#990050,#99004b,#990046,#990041,#99003d,#99003a,#990036,#990033,#990031)"></i><i style="top:364.5px;left:1279px;width:528px;height:2px;background:linear-gradient(90deg,#004199,#003e99,#003a99,#003799,#003499,#003099,#002d99,#002999,#022699,#0e2299,#1b1f99,#281b99,#371899,#461499,#551199,#650d99,#760a99,#870699,#980399,#99008a,#99007c,#990071,#990067,#99005f,#990058,#990051,#99004c,#990047,#990042,#99003e,#99003a,#990037,#990034,#990031)"></i><i style="top:366.5px;left:1279px;width:528px;height:2px;background:linear-gradient(90deg,#004099,#003d99,#003999,#003699,#003399,#002f99,#002c99,#002999,#022599,#0e2299,#1a1e99,#281b99,#361799,#451499,#541099,#640d99,#740999,#850699,#960299,#99008b,#99007e,#990072,#990068,#990060,#990059,#990052,#99004d,#990047,#990043,#99003f,#99003b,#990038,#990035,#990032)"></i><i style="top:368.5px;left:1279px;width:528px;height:2px;background:linear-gradient(90deg,#003f99,#003c99,#003899,#003599,#003299,#002f99,#002b99,#002899,#022499,#0d2199,#1a1d99,#271a99,#351699,#441399,#530f99,#620c99,#730999,#830599,#940299,#99008d,#99007f,#990074,#99006a,#990061,#99005a,#990053,#99004e,#990048,#990044,#990040,#99003c,#990039,#990035,#990033)"></i><i style="top:370.5px;left:1279px;width:528px;height:2px;background:linear-gradient(90deg,#003e99,#003b99,#003899,#003499,#003199,#002e99,#002a99,#002799,#022499,#0d2099,#191d99,#261999,#341699,#431299,#520f99,#610b99,#710899,#810599,#920299,#99008f,#990081,#990075,#99006b,#990063,#99005b,#990054,#99004f,#990049,#990045,#990041,#99003d,#990039,#990036,#990033)"></i><i style="top:372.5px;left:1279px;width:512px;height:2px;background:linear-gradient(90deg,#003d99,#003a99,#003799,#003399,#003099,#002d99,#002999,#002699,#022399,#0d1f99,#191c99,#261999,#341599,#421299,#510e99,#600b99,#700899,#800499,#900199,#990091,#990083,#990077,#99006d,#990064,#99005c,#990056,#990050,#99004a,#990046,#990041,#99003e,#99003a,#990037)"></i><i style="top:374.5px;left:1295px;width:496px;height:2px;background:linear-gradient(90deg,#003999,#003699,#003299,#002f99,#002c99,#002999,#002599,#012299,#0c1f99,#181b99,#251899,#331599,#411199,#4f0e99,#5f0a99,#6e0799,#7e0499,#8f0199,#990093,#990084,#990078,#99006e,#990065,#99005d,#990057,#990051,#99004b,#990047,#990042,#99003e,#99003b,#990038)"></i><i style="top:376.5px;left:1295px;width:496px;height:2px;background:linear-gradient(90deg,#003899,#003599,#003299,#002e99,#002b99,#002899,#002599,#012199,#0c1e99,#181b99,#251799,#321499,#401199,#4e0d99,#5d0a99,#6d0799,#7c0499,#8d0199,#990095,#990086,#99007a,#99006f,#990066,#99005f,#990058,#990052,#99004c,#990047,#990043,#99003f,#99003c,#990038)"></i><i style="top:378.5px;left:1295px;width:496px;height:2px;background:linear-gradient(90deg,#003799,#003499,#003199,#002e99,#002a99,#002799,#002499,#012199,#0c1d99,#171a99,#241799,#311399,#3f1099,#4d0d99,#5c0999,#6b0699,#7b0399,#8b0099,#990097,#990088,#99007b,#990071,#990068,#990060,#990059,#990053,#99004d,#990048,#990044,#990040,#99003c,#990039)"></i><i style="top:380.5px;left:1295px;width:496px;height:2px;background:linear-gradient(90deg,#003699,#003399,#003099,#002d99,#002a99,#002699,#002399,#012099,#0b1d99,#171999,#231699,#301399,#3e1099,#4c0c99,#5b0999,#6a0699,#790399,#890099,#990098,#990089,#99007d,#990072,#990069,#990061,#99005a,#990054,#99004e,#990049,#990045,#990041,#99003d,#99003a)"></i><i style="top:382.5px;left:1295px;width:496px;height:2px;background:linear-gradient(90deg,#003599,#003299,#002f99,#002c99,#002999,#002699,#002299,#011f99,#0b1c99,#161999,#231599,#301299,#3d0f99,#4b0c99,#5a0999,#690599,#780299,#880099,#980099,#99008b,#99007e,#990074,#99006a,#990062,#99005b,#990055,#99004f,#99004a,#990046,#990042,#99003e,#99003a)"></i><i style="top:384.5px;left:1295px;width:496px;height:2px;background:linear-gradient(90deg,#003499,#003199,#002e99,#002b99,#002899,#002599,#002299,#011e99,#0b1b99,#161899,#221599,#2f1299,#3c0e99,#4a0b99,#580899,#670599,#760299,#860099,#960099,#99008d,#990080,#990075,#99006c,#990063,#99005c,#990056,#990050,#99004b,#990046,#990042,#99003f,#99003b)"></i><i style="top:386.5px;left:1295px;width:496px;height:2px;background:linear-gradient(90deg,#003399,#003099,#002d99,#002a99,#002799,#002499,#002199,#001e99,#0a1b99,#161799,#221499,#2e1199,#3c0e99,#490b99,#570899,#660599,#750299,#840099,#940099,#99008f,#990082,#990076,#99006d,#990065,#99005d,#990057,#990051,#99004c,#990047,#990043,#99003f,#99003c)"></i><i style="top:388.5px;left:1295px;width:496px;height:2px;background:linear-gradient(90deg,#003399,#003099,#002d99,#002a99,#002699,#002399,#002099,#001d99,#0a1a99,#151799,#211499,#2e1199,#3b0d99,#480a99,#560799,#650499,#730199,#830099,#920099,#990090,#990083,#990078,#99006e,#990066,#99005e,#990058,#990052,#99004d,#990048,#990044,#990040,#99003d)"></i><i style="top:390.5px;left:1295px;width:480px;height:2px;background:linear-gradient(90deg,#003299,#002f99,#002c99,#002999,#002699,#002399,#002099,#001d99,#0a1999,#151699,#211399,#2d1099,#3a0d99,#470a99,#550799,#630499,#720199,#810099,#900099,#990092,#990085,#990079,#99006f,#990067,#99005f,#990059,#990053,#99004e,#990049,#990045,#990041)"></i><i style="top:392.5px;left:1295px;width:480px;height:2px;background:linear-gradient(90deg,#003199,#002e99,#002b99,#002899,#002599,#002299,#001f99,#001c99,#091999,#141699,#201399,#2c1099,#390c99,#460999,#540699,#620499,#710199,#800099,#8f0099,#990094,#990086,#99007b,#990071,#990068,#990061,#99005a,#990054,#99004f,#99004a,#990046,#990042)"></i><i style="top:394.5px;left:1295px;width:480px;height:2px;background:linear-gradient(90deg,#003099,#002d99,#002a99,#002799,#002499,#002199,#001e99,#001b99,#091899,#141599,#201299,#2c0f99,#380c99,#450999,#530699,#610399,#6f0199,#7e0099,#8d0099,#990096,#990088,#99007c,#990072,#990069,#990062,#99005b,#990055,#990050,#99004b,#990046,#990043)"></i><i style="top:396.5px;left:1295px;width:480px;height:2px;background:linear-gradient(90deg,#002f99,#002c99,#002a99,#002799,#002499,#002199,#001e99,#001b99,#091899,#141599,#1f1299,#2b0f99,#380c99,#450999,#520699,#600399,#6e0099,#7d0099,#8b0099,#990097,#990089,#99007e,#990073,#99006b,#990063,#99005c,#990056,#990051,#99004c,#990047,#990043)"></i><i style="top:398.5px;left:1295px;width:480px;height:2px;background:linear-gradient(90deg,#002f99,#002c99,#002999,#002699,#002399,#002099,#001d99,#001a99,#091799,#131499,#1f1199,#2a0e99,#370b99,#440899,#510599,#5f0299,#6d0099,#7b0099,#8a0099,#990099,#99008b,#99007f,#990075,#99006c,#990064,#99005d,#990057,#990052,#99004d,#990048,#990044)"></i><i style="top:400.5px;left:1295px;width:480px;height:2px;background:linear-gradient(90deg,#002e99,#002b99,#002899,#002599,#002299,#001f99,#001c99,#001999,#081699,#131499,#1e1199,#2a0e99,#360b99,#430899,#500599,#5d0299,#6b0099,#7a0099,#880099,#970099,#99008d,#990080,#990076,#99006d,#990065,#99005e,#990058,#990052,#99004d,#990049,#990045)"></i><i style="top:402.5px;left:1295px;width:480px;height:2px;background:linear-gradient(90deg,#002d99,#002a99,#002799,#002599,#002299,#001f99,#001c99,#001999,#081699,#121399,#1e1099,#290d99,#350a99,#420799,#4f0599,#5c0299,#6a0099,#780099,#870099,#950099,#99008e,#990082,#990077,#99006e,#990066,#99005f,#990059,#990053,#99004e,#99004a,#990046)"></i><i style="top:404.5px;left:1295px;width:480px;height:2px;background:linear-gradient(90deg,#002c99,#002a99,#002799,#002499,#002199,#001e99,#001b99,#001899,#081599,#121299,#1d1099,#290d99,#350a99,#410799,#4e0499,#5b0299,#690099,#770099,#850099,#940099,#990090,#990083,#990079,#990070,#990067,#990060,#99005a,#990054,#99004f,#99004b,#990046)"></i><i style="top:406.5px;left:1311px;width:448px;height:2px;background:linear-gradient(90deg,#002999,#002699,#002399,#002099,#001e99,#001b99,#001899,#081599,#121299,#1d0f99,#280c99,#340999,#400799,#4d0499,#5a0199,#680099,#750099,#840099,#920099,#990091,#990085,#99007a,#990071,#990069,#990061,#99005b,#990055,#990050,#99004b)"></i><i style="top:408.5px;left:1311px;width:448px;height:2px;background:linear-gradient(90deg,#002899,#002599,#002399,#002099,#001d99,#001a99,#001799,#071499,#111199,#1c0f99,#280c99,#330999,#400699,#4c0499,#590199,#660099,#740099,#820099,#910099,#990093,#990086,#99007b,#990072,#99006a,#990062,#99005c,#990056,#990051,#99004c)"></i><i style="top:410.5px;left:1311px;width:448px;height:2px;background:linear-gradient(90deg,#002899,#002599,#002299,#001f99,#001c99,#001a99,#001799,#071499,#111199,#1c0e99,#270b99,#330999,#3f0699,#4b0399,#580199,#650099,#730099,#810099,#8f0099,#990095,#990088,#99007d,#990073,#99006b,#990064,#99005d,#990057,#990052,#99004d)"></i><i style="top:412.5px;left:1311px;width:448px;height:2px;background:linear-gradient(90deg,#002799,#002499,#002199,#001f99,#001c99,#001999,#001699,#071399,#111199,#1b0e99,#260b99,#320899,#3e0599,#4a0399,#570099,#640099,#720099,#7f0099,#8d0099,#990096,#990089,#99007e,#990075,#99006c,#990065,#99005e,#990058,#990053,#99004e)"></i><i style="top:414.5px;left:1311px;width:448px;height:2px;background:linear-gradient(90deg,#002699,#002399,#002199,#001e99,#001b99,#001899,#001699,#071399,#101099,#1b0d99,#260b99,#310899,#3d0599,#490399,#560099,#630099,#700099,#7e0099,#8c0099,#990098,#99008b,#990080,#990076,#99006d,#990066,#99005f,#990059,#990054,#99004f)"></i><i style="top:416.5px;left:1311px;width:448px;height:2px;background:linear-gradient(90deg,#002699,#002399,#002099,#001d99,#001b99,#001899,#001599,#061299,#101099,#1a0d99,#250a99,#310799,#3c0599,#490299,#550099,#620099,#6f0099,#7d0099,#8a0099,#980099,#99008c,#990081,#990077,#99006e,#990067,#990060,#99005a,#990055,#990050)"></i><i style="top:418.5px;left:1311px;width:448px;height:2px;background:linear-gradient(90deg,#002599,#002299,#002099,#001d99,#001a99,#001799,#001599,#061299,#100f99,#1a0c99,#250a99,#300799,#3c0499,#480299,#540099,#610099,#6e0099,#7b0099,#890099,#970099,#99008e,#990082,#990078,#990070,#990068,#990061,#99005b,#990055,#990051)"></i><i style="top:420.5px;left:1311px;width:448px;height:2px;background:linear-gradient(90deg,#002499,#002299,#001f99,#001c99,#001a99,#001799,#001499,#061199,#0f0f99,#1a0c99,#240999,#2f0799,#3b0499,#470299,#530099,#600099,#6d0099,#7a0099,#870099,#950099,#99008f,#990084,#99007a,#990071,#990069,#990062,#99005c,#990056,#990051)"></i><i style="top:422.5px;left:1311px;width:448px;height:2px;background:linear-gradient(90deg,#002499,#002199,#001e99,#001c99,#001999,#001699,#001499,#061199,#0f0e99,#190c99,#240999,#2f0699,#3a0499,#460199,#520099,#5f0099,#6b0099,#790099,#860099,#940099,#990091,#990085,#99007b,#990072,#99006a,#990063,#99005d,#990057,#990052)"></i><i style="top:424.5px;left:1311px;width:432px;height:2px;background:linear-gradient(90deg,#002399,#002099,#001e99,#001b99,#001999,#001699,#001399,#061199,#0f0e99,#190b99,#230999,#2e0699,#3a0399,#450199,#510099,#5e0099,#6a0099,#770099,#850099,#920099,#990092,#990086,#99007c,#990073,#99006b,#990064,#99005e,#990058)"></i><i style="top:426.5px;left:1311px;width:432px;height:2px;background:linear-gradient(90deg,#002399,#002099,#001d99,#001b99,#001899,#001599,#001399,#051099,#0f0d99,#180b99,#230899,#2e0699,#390399,#450199,#500099,#5d0099,#690099,#760099,#830099,#910099,#990094,#990088,#99007d,#990074,#99006c,#990065,#99005f,#990059)"></i><i style="top:428.5px;left:1311px;width:432px;height:2px;background:linear-gradient(90deg,#002299,#001f99,#001d99,#001a99,#001899,#001599,#001299,#051099,#0e0d99,#180a99,#220899,#2d0599,#380399,#440199,#500099,#5c0099,#680099,#750099,#820099,#8f0099,#990095,#990089,#99007f,#990076,#99006d,#990066,#990060,#99005a)"></i><i style="top:430.5px;left:1311px;width:432px;height:2px;background:linear-gradient(90deg,#002199,#001f99,#001c99,#001a99,#001799,#001499,#001299,#050f99,#0e0d99,#180a99,#220899,#2d0599,#380399,#430099,#4f0099,#5b0099,#670099,#740099,#800099,#8e0099,#990097,#99008b,#990080,#990077,#99006f,#990067,#990061,#99005b)"></i><i style="top:432.5px;left:1311px;width:432px;height:2px;background:linear-gradient(90deg,#002199,#001e99,#001c99,#001999,#001799,#001499,#001199,#050f99,#0e0c99,#170a99,#210799,#2c0599,#370299,#420099,#4e0099,#5a0099,#660099,#720099,#7f0099,#8c0099,#990098,#99008c,#990081,#990078,#990070,#990068,#990062,#99005c)"></i><i style="top:434.5px;left:1311px;width:432px;height:2px;background:linear-gradient(90deg,#002099,#001e99,#001b99,#001999,#001699,#001399,#001199,#050e99,#0d0c99,#170999,#210799,#2b0499,#360299,#410099,#4d0099,#590099,#650099,#710099,#7e0099,#8b0099,#980099,#99008d,#990083,#990079,#990071,#990069,#990063,#99005d)"></i><i style="top:436.5px;left:1327px;width:416px;height:2px;background:linear-gradient(90deg,#001d99,#001b99,#001899,#001699,#001399,#001099,#040e99,#0d0b99,#170999,#210699,#2b0499,#360299,#410099,#4c0099,#580099,#640099,#700099,#7d0099,#890099,#960099,#99008f,#990084,#99007a,#990072,#99006a,#990064,#99005e)"></i><i style="top:438.5px;left:1327px;width:416px;height:2px;background:linear-gradient(90deg,#001d99,#001a99,#001899,#001599,#001399,#001099,#040e99,#0d0b99,#160999,#200699,#2a0499,#350299,#400099,#4b0099,#570099,#630099,#6f0099,#7b0099,#880099,#950099,#990090,#990085,#99007c,#990073,#99006b,#990065,#99005f)"></i><i style="top:440.5px;left:1327px;width:416px;height:2px;background:linear-gradient(90deg,#001c99,#001a99,#001799,#001599,#001299,#001099,#040d99,#0d0b99,#160899,#200699,#2a0399,#340199,#3f0099,#4a0099,#560099,#620099,#6e0099,#7a0099,#870099,#940099,#990092,#990087,#99007d,#990074,#99006d,#990066,#990060)"></i><i style="top:442.5px;left:1327px;width:400px;height:2px;background:linear-gradient(90deg,#001c99,#001999,#001799,#001499,#001299,#000f99,#040d99,#0c0a99,#160899,#1f0699,#290399,#340199,#3f0099,#4a0099,#550099,#610099,#6d0099,#790099,#850099,#920099,#990093,#990088,#99007e,#990075,#99006e,#990067)"></i><i style="top:444.5px;left:1327px;width:400px;height:2px;background:linear-gradient(90deg,#001b99,#001999,#001699,#001499,#001199,#000f99,#040c99,#0c0a99,#150899,#1f0599,#290399,#330199,#3e0099,#490099,#540099,#600099,#6c0099,#780099,#840099,#910099,#990095,#990089,#99007f,#990076,#99006f,#990068)"></i><i style="top:446.5px;left:1327px;width:400px;height:2px;background:linear-gradient(90deg,#001b99,#001899,#001699,#001399,#001199,#000e99,#030c99,#0c0a99,#150799,#1e0599,#280399,#330199,#3d0099,#480099,#530099,#5f0099,#6a0099,#760099,#830099,#8f0099,#990096,#99008b,#990080,#990078,#990070,#990069)"></i><i style="top:448.5px;left:1327px;width:400px;height:2px;background:linear-gradient(90deg,#001a99,#001899,#001599,#001399,#001099,#000e99,#030c99,#0c0999,#150799,#1e0599,#280299,#320099,#3d0099,#470099,#520099,#5e0099,#690099,#750099,#810099,#8e0099,#990098,#99008c,#990082,#990079,#990071,#99006a)"></i><i style="top:450.5px;left:1327px;width:400px;height:2px;background:linear-gradient(90deg,#001a99,#001799,#001599,#001299,#001099,#000e99,#030b99,#0b0999,#140799,#1e0499,#270299,#310099,#3c0099,#470099,#520099,#5d0099,#680099,#740099,#800099,#8d0099,#990099,#99008d,#990083,#99007a,#990072,#99006b)"></i><i style="top:452.5px;left:1327px;width:400px;height:2px;background:linear-gradient(90deg,#001999,#001799,#001499,#001299,#001099,#000d99,#030b99,#0b0999,#140699,#1d0499,#270299,#310099,#3b0099,#460099,#510099,#5c0099,#670099,#730099,#7f0099,#8b0099,#980099,#99008f,#990084,#99007b,#990073,#99006c)"></i><i style="top:454.5px;left:1327px;width:400px;height:2px;background:linear-gradient(90deg,#001999,#001699,#001499,#001299,#000f99,#000d99,#030b99,#0b0899,#140699,#1d0499,#260299,#300099,#3b0099,#450099,#500099,#5b0099,#660099,#720099,#7e0099,#8a0099,#960099,#990090,#990085,#99007c,#990074,#99006d)"></i><i style="top:456.5px;left:1327px;width:400px;height:2px;background:linear-gradient(90deg,#001899,#001699,#001499,#001199,#000f99,#000d99,#030a99,#0b0899,#130699,#1c0399,#260199,#300099,#3a0099,#440099,#4f0099,#5a0099,#650099,#710099,#7d0099,#890099,#950099,#990091,#990087,#99007d,#990075,#99006e)"></i><i style="top:458.5px;left:1327px;width:400px;height:2px;background:linear-gradient(90deg,#001899,#001699,#001399,#001199,#000f99,#000c99,#030a99,#0a0899,#130599,#1c0399,#250199,#2f0099,#390099,#440099,#4e0099,#590099,#640099,#700099,#7b0099,#870099,#930099,#990093,#990088,#99007e,#990076,#99006f)"></i><i style="top:460.5px;left:1327px;width:384px;height:2px;background:linear-gradient(90deg,#001799,#001599,#001399,#001099,#000e99,#000c99,#020a99,#0a0799,#130599,#1c0399,#250199,#2f0099,#390099,#430099,#4e0099,#580099,#630099,#6f0099,#7a0099,#860099,#920099,#990094,#990089,#990080,#990077)"></i><i style="top:462.5px;left:1327px;width:384px;height:2px;background:linear-gradient(90deg,#001799,#001599,#001299,#001099,#000e99,#000c99,#020999,#0a0799,#120599,#1b0399,#250199,#2e0099,#380099,#420099,#4d0099,#580099,#620099,#6e0099,#790099,#850099,#910099,#990095,#99008a,#990081,#990078)"></i><i style="top:464.5px;left:1343px;width:368px;height:2px;background:linear-gradient(90deg,#001499,#001299,#001099,#000d99,#000b99,#020999,#0a0799,#120599,#1b0299,#240099,#2e0099,#380099,#420099,#4c0099,#570099,#620099,#6d0099,#780099,#840099,#8f0099,#990097,#99008c,#990082,#990079)"></i><i style="top:466.5px;left:1343px;width:368px;height:2px;background:linear-gradient(90deg,#001499,#001299,#000f99,#000d99,#000b99,#020999,#090699,#120499,#1b0299,#240099,#2d0099,#370099,#410099,#4b0099,#560099,#610099,#6c0099,#770099,#820099,#8e0099,#990098,#99008d,#990083,#99007b)"></i><i style="top:468.5px;left:1343px;width:368px;height:2px;background:linear-gradient(90deg,#001399,#001199,#000f99,#000d99,#000b99,#020899,#090699,#120499,#1a0299,#230099,#2d0099,#360099,#400099,#4b0099,#550099,#600099,#6b0099,#760099,#810099,#8d0099,#990099,#99008e,#990084,#99007c)"></i><i style="top:470.5px;left:1343px;width:368px;height:2px;background:linear-gradient(90deg,#001399,#001199,#000f99,#000c99,#000a99,#020899,#090699,#110499,#1a0299,#230099,#2c0099,#360099,#400099,#4a0099,#540099,#5f0099,#6a0099,#750099,#800099,#8c0099,#970099,#99008f,#990086,#99007d)"></i><i style="top:472.5px;left:1343px;width:368px;height:2px;background:linear-gradient(90deg,#001399,#001099,#000e99,#000c99,#000a99,#020899,#090699,#110399,#1a0199,#220099,#2c0099,#350099,#3f0099,#490099,#530099,#5e0099,#690099,#740099,#7f0099,#8a0099,#960099,#990091,#990087,#99007e)"></i><i style="top:474.5px;left:1343px;width:368px;height:2px;background:linear-gradient(90deg,#001299,#001099,#000e99,#000c99,#000a99,#010799,#090599,#110399,#190199,#220099,#2b0099,#350099,#3e0099,#480099,#530099,#5d0099,#680099,#730099,#7e0099,#890099,#950099,#990092,#990088,#99007f)"></i><i style="top:476.5px;left:1343px;width:368px;height:2px;background:linear-gradient(90deg,#001299,#001099,#000e99,#000b99,#000999,#010799,#080599,#100399,#190199,#220099,#2b0099,#340099,#3e0099,#480099,#520099,#5c0099,#670099,#720099,#7d0099,#880099,#930099,#990093,#990089,#990080)"></i><i style="top:478.5px;left:1343px;width:352px;height:2px;background:linear-gradient(90deg,#001299,#000f99,#000d99,#000b99,#000999,#010799,#080599,#100399,#190199,#210099,#2a0099,#340099,#3d0099,#470099,#510099,#5b0099,#660099,#710099,#7c0099,#870099,#920099,#990095,#99008a)"></i><i style="top:480.5px;left:1343px;width:352px;height:2px;background:linear-gradient(90deg,#001199,#000f99,#000d99,#000b99,#000999,#010799,#080499,#100299,#180199,#210099,#2a0099,#330099,#3d0099,#460099,#500099,#5b0099,#650099,#700099,#7a0099,#850099,#910099,#990096,#99008b)"></i><i style="top:482.5px;left:1343px;width:352px;height:2px;background:linear-gradient(90deg,#001199,#000f99,#000d99,#000a99,#000899,#010699,#080499,#100299,#180099,#200099,#290099,#330099,#3c0099,#460099,#500099,#5a0099,#640099,#6f0099,#790099,#840099,#8f0099,#990097,#99008d)"></i><i style="top:484.5px;left:1343px;width:352px;height:2px;background:linear-gradient(90deg,#001099,#000e99,#000c99,#000a99,#000899,#010699,#080499,#0f0299,#180099,#200099,#290099,#320099,#3b0099,#450099,#4f0099,#590099,#630099,#6e0099,#780099,#830099,#8e0099,#990098,#99008e)"></i><i style="top:486.5px;left:1343px;width:352px;height:2px;background:linear-gradient(90deg,#001099,#000e99,#000c99,#000a99,#000899,#010699,#070499,#0f0299,#170099,#200099,#290099,#320099,#3b0099,#440099,#4e0099,#580099,#620099,#6d0099,#770099,#820099,#8d0099,#980099,#99008f)"></i><i style="top:488.5px;left:1343px;width:352px;height:2px;background:linear-gradient(90deg,#001099,#000e99,#000c99,#000a99,#000799,#010599,#070399,#0f0299,#170099,#1f0099,#280099,#310099,#3a0099,#440099,#4d0099,#570099,#610099,#6c0099,#760099,#810099,#8c0099,#970099,#990090)"></i><i style="top:490.5px;left:1343px;width:352px;height:2px;background:linear-gradient(90deg,#000f99,#000d99,#000b99,#000999,#000799,#000599,#070399,#0f0199,#170099,#1f0099,#280099,#310099,#3a0099,#430099,#4d0099,#570099,#610099,#6b0099,#750099,#800099,#8b0099,#960099,#990092)"></i><i style="top:492.5px;left:1359px;width:336px;height:2px;background:linear-gradient(90deg,#000d99,#000b99,#000999,#000799,#000599,#070399,#0e0199,#160099,#1f0099,#270099,#300099,#390099,#420099,#4c0099,#560099,#600099,#6a0099,#740099,#7f0099,#890099,#940099,#990093)"></i><i style="top:494.5px;left:1359px;width:336px;height:2px;background:linear-gradient(90deg,#000d99,#000b99,#000999,#000799,#000599,#070399,#0e0199,#160099,#1e0099,#270099,#300099,#390099,#420099,#4b0099,#550099,#5f0099,#690099,#730099,#7e0099,#880099,#930099,#990094)"></i><i style="top:496.5px;left:1359px;width:320px;height:2px;background:linear-gradient(90deg,#000c99,#000a99,#000899,#000699,#000499,#070399,#0e0199,#160099,#1e0099,#260099,#2f0099,#380099,#410099,#4b0099,#540099,#5e0099,#680099,#720099,#7d0099,#870099,#920099)"></i><i style="top:498.5px;left:1359px;width:320px;height:2px;background:linear-gradient(90deg,#000c99,#000a99,#000899,#000699,#000499,#060299,#0e0199,#150099,#1e0099,#260099,#2f0099,#380099,#410099,#4a0099,#540099,#5d0099,#670099,#710099,#7c0099,#860099,#910099)"></i><i style="top:500.5px;left:1359px;width:320px;height:2px;background:linear-gradient(90deg,#000c99,#000a99,#000899,#000699,#000499,#060299,#0d0099,#150099,#1d0099,#260099,#2e0099,#370099,#400099,#490099,#530099,#5c0099,#660099,#700099,#7b0099,#850099,#900099)"></i><i style="top:502.5px;left:1359px;width:320px;height:2px;background:linear-gradient(90deg,#000b99,#000999,#000899,#000699,#000499,#060299,#0d0099,#150099,#1d0099,#250099,#2e0099,#360099,#3f0099,#490099,#520099,#5c0099,#650099,#6f0099,#7a0099,#840099,#8e0099)"></i><i style="top:504.5px;left:1359px;width:320px;height:2px;background:linear-gradient(90deg,#000b99,#000999,#000799,#000599,#000399,#060299,#0d0099,#150099,#1d0099,#250099,#2d0099,#360099,#3f0099,#480099,#510099,#5b0099,#650099,#6e0099,#790099,#830099,#8d0099)"></i><i style="top:506.5px;left:1359px;width:320px;height:2px;background:linear-gradient(90deg,#000b99,#000999,#000799,#000599,#000399,#060199,#0d0099,#140099,#1c0099,#240099,#2d0099,#350099,#3e0099,#470099,#510099,#5a0099,#640099,#6e0099,#780099,#820099,#8c0099)"></i><i style="top:508.5px;left:1359px;width:320px;height:2px;background:linear-gradient(90deg,#000b99,#000999,#000799,#000599,#000399,#060199,#0d0099,#140099,#1c0099,#240099,#2c0099,#350099,#3e0099,#470099,#500099,#590099,#630099,#6d0099,#770099,#810099,#8b0099)"></i><i style="top:510.5px;left:1359px;width:320px;height:2px;background:linear-gradient(90deg,#000a99,#000899,#000699,#000599,#000399,#050199,#0c0099,#140099,#1c0099,#240099,#2c0099,#340099,#3d0099,#460099,#4f0099,#590099,#620099,#6c0099,#760099,#800099,#8a0099)"></i><i style="top:512.5px;left:1359px;width:304px;height:2px;background:linear-gradient(90deg,#000a99,#000899,#000699,#000499,#000399,#050199,#0c0099,#140099,#1b0099,#230099,#2c0099,#340099,#3d0099,#460099,#4f0099,#580099,#610099,#6b0099,#750099,#7f0099)"></i><i style="top:514.5px;left:1359px;width:304px;height:2px;background:linear-gradient(90deg,#000a99,#000899,#000699,#000499,#000299,#050199,#0c0099,#130099,#1b0099,#230099,#2b0099,#330099,#3c0099,#450099,#4e0099,#570099,#600099,#6a0099,#740099,#7e0099)"></i><i style="top:516.5px;left:1359px;width:304px;height:2px;background:linear-gradient(90deg,#000999,#000899,#000699,#000499,#000299,#050199,#0c0099,#130099,#1b0099,#230099,#2b0099,#330099,#3c0099,#440099,#4d0099,#560099,#600099,#690099,#730099,#7d0099)"></i><i style="top:518.5px;left:1375px;width:288px;height:2px;background:linear-gradient(90deg,#000799,#000599,#000499,#000299,#050099,#0c0099,#130099,#1a0099,#220099,#2a0099,#330099,#3b0099,#440099,#4d0099,#560099,#5f0099,#680099,#720099,#7c0099)"></i><i style="top:520.5px;left:1375px;width:288px;height:2px;background:linear-gradient(90deg,#000799,#000599,#000399,#000299,#050099,#0b0099,#130099,#1a0099,#220099,#2a0099,#320099,#3b0099,#430099,#4c0099,#550099,#5e0099,#680099,#710099,#7b0099)"></i><i style="top:522.5px;left:1375px;width:288px;height:2px;background:linear-gradient(90deg,#000799,#000599,#000399,#000299,#050099,#0b0099,#120099,#1a0099,#210099,#290099,#320099,#3a0099,#430099,#4b0099,#540099,#5d0099,#670099,#700099,#7a0099)"></i><i style="top:524.5px;left:1375px;width:288px;height:2px;background:linear-gradient(90deg,#000799,#000599,#000399,#000199,#040099,#0b0099,#120099,#190099,#210099,#290099,#310099,#390099,#420099,#4b0099,#540099,#5d0099,#660099,#6f0099,#790099)"></i><i style="top:526.5px;left:1375px;width:288px;height:2px;background:linear-gradient(90deg,#000699,#000599,#000399,#000199,#040099,#0b0099,#120099,#190099,#210099,#290099,#310099,#390099,#410099,#4a0099,#530099,#5c0099,#650099,#6e0099,#780099)"></i><i style="top:528.5px;left:1375px;width:288px;height:2px;background:linear-gradient(90deg,#000699,#000499,#000399,#000199,#040099,#0b0099,#120099,#190099,#200099,#280099,#300099,#380099,#410099,#490099,#520099,#5b0099,#640099,#6e0099,#770099)"></i><i style="top:530.5px;left:1375px;width:272px;height:2px;background:linear-gradient(90deg,#000699,#000499,#000299,#000199,#040099,#0a0099,#110099,#190099,#200099,#280099,#300099,#380099,#400099,#490099,#520099,#5a0099,#630099,#6d0099)"></i><i style="top:532.5px;left:1375px;width:272px;height:2px;background:linear-gradient(90deg,#000699,#000499,#000299,#000199,#040099,#0a0099,#110099,#180099,#200099,#270099,#2f0099,#380099,#400099,#480099,#510099,#5a0099,#630099,#6c0099)"></i><i style="top:534.5px;left:1375px;width:272px;height:2px;background:linear-gradient(90deg,#000599,#000499,#000299,#000099,#040099,#0a0099,#110099,#180099,#1f0099,#270099,#2f0099,#370099,#3f0099,#480099,#500099,#590099,#620099,#6b0099)"></i><i style="top:536.5px;left:1375px;width:272px;height:2px;background:linear-gradient(90deg,#000599,#000399,#000299,#000099,#040099,#0a0099,#110099,#180099,#1f0099,#270099,#2f0099,#370099,#3f0099,#470099,#500099,#580099,#610099,#6a0099)"></i><i style="top:538.5px;left:1375px;width:272px;height:2px;background:linear-gradient(90deg,#000599,#000399,#000299,#000099,#030099,#0a0099,#100099,#170099,#1f0099,#260099,#2e0099,#360099,#3e0099,#470099,#4f0099,#580099,#600099,#690099)"></i><i style="top:540.5px;left:1391px;width:256px;height:2px;background:linear-gradient(90deg,#000399,#000199,#000099,#030099,#0a0099,#100099,#170099,#1e0099,#260099,#2e0099,#360099,#3e0099,#460099,#4e0099,#570099,#600099,#690099)"></i><i style="top:542.5px;left:1391px;width:256px;height:2px;background:linear-gradient(90deg,#000399,#000199,#000099,#030099,#090099,#100099,#170099,#1e0099,#260099,#2d0099,#350099,#3d0099,#450099,#4e0099,#560099,#5f0099,#680099)"></i><i style="top:544.5px;left:1391px;width:256px;height:2px;background:linear-gradient(90deg,#000399,#000199,#000099,#030099,#090099,#100099,#170099,#1e0099,#250099,#2d0099,#350099,#3d0099,#450099,#4d0099,#560099,#5e0099,#670099)"></i><i style="top:546.5px;left:1391px;width:256px;height:2px;background:linear-gradient(90deg,#000299,#000199,#000099,#030099,#090099,#100099,#160099,#1e0099,#250099,#2d0099,#340099,#3c0099,#440099,#4d0099,#550099,#5e0099,#660099)"></i><i style="top:548.5px;left:1391px;width:240px;height:2px;background:linear-gradient(90deg,#000299,#000199,#000099,#030099,#090099,#0f0099,#160099,#1d0099,#250099,#2c0099,#340099,#3c0099,#440099,#4c0099,#540099,#5d0099)"></i><i style="top:550.5px;left:1391px;width:240px;height:2px;background:linear-gradient(90deg,#000299,#000199,#000099,#030099,#090099,#0f0099,#160099,#1d0099,#240099,#2c0099,#330099,#3b0099,#430099,#4b0099,#540099,#5c0099)"></i><i style="top:552.5px;left:1391px;width:240px;height:2px;background:linear-gradient(90deg,#000299,#000099,#000099,#030099,#090099,#0f0099,#160099,#1d0099,#240099,#2b0099,#330099,#3b0099,#430099,#4b0099,#530099,#5b0099)"></i><i style="top:554.5px;left:1391px;width:240px;height:2px;background:linear-gradient(90deg,#000299,#000099,#000099,#020099,#080099,#0f0099,#150099,#1c0099,#240099,#2b0099,#330099,#3a0099,#420099,#4a0099,#520099,#5b0099)"></i><i style="top:556.5px;left:1391px;width:240px;height:2px;background:linear-gradient(90deg,#000299,#000099,#000099,#020099,#080099,#0f0099,#150099,#1c0099,#230099,#2b0099,#320099,#3a0099,#420099,#4a0099,#520099,#5a0099)"></i><i style="top:558.5px;left:1391px;width:240px;height:2px;background:linear-gradient(90deg,#000199,#000099,#000099,#020099,#080099,#0e0099,#150099,#1c0099,#230099,#2a0099,#320099,#390099,#410099,#490099,#510099,#590099)"></i><i style="top:560.5px;left:1391px;width:240px;height:2px;background:linear-gradient(90deg,#000199,#000099,#000099,#020099,#080099,#0e0099,#150099,#1c0099,#230099,#2a0099,#310099,#390099,#410099,#490099,#510099,#590099)"></i><i style="top:562.5px;left:1407px;width:224px;height:2px;background:linear-gradient(90deg,#000099,#000099,#020099,#080099,#0e0099,#140099,#1b0099,#220099,#290099,#310099,#380099,#400099,#480099,#500099,#580099)"></i><i style="top:564.5px;left:1407px;width:224px;height:2px;background:linear-gradient(90deg,#000099,#000099,#020099,#080099,#0e0099,#140099,#1b0099,#220099,#290099,#300099,#380099,#400099,#470099,#4f0099,#570099)"></i><i style="top:566.5px;left:1407px;width:208px;height:2px;background:linear-gradient(90deg,#000099,#000099,#020099,#070099,#0e0099,#140099,#1b0099,#220099,#290099,#300099,#380099,#3f0099,#470099,#4f0099)"></i><i style="top:568.5px;left:1407px;width:208px;height:2px;background:linear-gradient(90deg,#000099,#000099,#020099,#070099,#0d0099,#140099,#1a0099,#210099,#280099,#300099,#370099,#3f0099,#460099,#4e0099)"></i><i style="top:570.5px;left:1407px;width:208px;height:2px;background:linear-gradient(90deg,#000099,#000099,#020099,#070099,#0d0099,#140099,#1a0099,#210099,#280099,#2f0099,#370099,#3e0099,#460099,#4e0099)"></i><i style="top:572.5px;left:1407px;width:208px;height:2px;background:linear-gradient(90deg,#000099,#000099,#010099,#070099,#0d0099,#130099,#1a0099,#210099,#280099,#2f0099,#360099,#3e0099,#450099,#4d0099)"></i><i style="top:574.5px;left:1407px;width:208px;height:2px;background:linear-gradient(90deg,#000099,#000099,#010099,#070099,#0d0099,#130099,#1a0099,#200099,#270099,#2e0099,#360099,#3d0099,#450099,#4c0099)"></i><i style="top:576.5px;left:1407px;width:208px;height:2px;background:linear-gradient(90deg,#000099,#000099,#010099,#070099,#0d0099,#130099,#190099,#200099,#270099,#2e0099,#350099,#3d0099,#440099,#4c0099)"></i><i style="top:578.5px;left:1407px;width:208px;height:2px;background:linear-gradient(90deg,#000099,#000099,#010099,#070099,#0c0099,#130099,#190099,#200099,#270099,#2e0099,#350099,#3c0099,#440099,#4b0099)"></i><i style="top:580.5px;left:1407px;width:208px;height:2px;background:linear-gradient(90deg,#000099,#000099,#010099,#060099,#0c0099,#120099,#190099,#200099,#260099,#2d0099,#350099,#3c0099,#430099,#4b0099)"></i><i style="top:582.5px;left:1423px;width:192px;height:2px;background:linear-gradient(90deg,#000099,#010099,#060099,#0c0099,#120099,#190099,#1f0099,#260099,#2d0099,#340099,#3b0099,#430099,#4a0099)"></i><i style="top:584.5px;left:1423px;width:176px;height:2px;background:linear-gradient(90deg,#000099,#010099,#060099,#0c0099,#120099,#180099,#1f0099,#260099,#2d0099,#340099,#3b0099,#420099)"></i><i style="top:586.5px;left:1423px;width:176px;height:2px;background:linear-gradient(90deg,#000099,#010099,#060099,#0c0099,#120099,#180099,#1f0099,#250099,#2c0099,#330099,#3a0099,#420099)"></i><i style="top:588.5px;left:1423px;width:176px;height:2px;background:linear-gradient(90deg,#000099,#010099,#060099,#0c0099,#120099,#180099,#1e0099,#250099,#2c0099,#330099,#3a0099,#410099)"></i><i style="top:590.5px;left:1423px;width:176px;height:2px;background:linear-gradient(90deg,#000099,#010099,#060099,#0b0099,#110099,#180099,#1e0099,#250099,#2c0099,#330099,#3a0099,#410099)"></i><i style="top:592.5px;left:1423px;width:176px;height:2px;background:linear-gradient(90deg,#000099,#010099,#060099,#0b0099,#110099,#170099,#1e0099,#240099,#2b0099,#320099,#390099,#400099)"></i><i style="top:594.5px;left:1423px;width:176px;height:2px;background:linear-gradient(90deg,#000099,#000099,#050099,#0b0099,#110099,#170099,#1e0099,#240099,#2b0099,#320099,#390099,#400099)"></i><i style="top:596.5px;left:1423px;width:176px;height:2px;background:linear-gradient(90deg,#000099,#000099,#050099,#0b0099,#110099,#170099,#1d0099,#240099,#2b0099,#310099,#380099,#3f0099)"></i><i style="top:598.5px;left:1423px;width:176px;height:2px;background:linear-gradient(90deg,#000099,#000099,#050099,#0b0099,#110099,#170099,#1d0099,#240099,#2a0099,#310099,#380099,#3f0099)"></i><i style="top:600.5px;left:1439px;width:144px;height:2px;background:linear-gradient(90deg,#000099,#050099,#0b0099,#100099,#170099,#1d0099,#230099,#2a0099,#310099,#370099)"></i><i style="top:602.5px;left:1439px;width:144px;height:2px;background:linear-gradient(90deg,#000099,#050099,#0a0099,#100099,#160099,#1d0099,#230099,#2a0099,#300099,#370099)"></i><i style="top:604.5px;left:1439px;width:144px;height:2px;background:linear-gradient(90deg,#000099,#050099,#0a0099,#100099,#160099,#1c0099,#230099,#290099,#300099,#370099)"></i><i style="top:606.5px;left:1439px;width:144px;height:2px;background:linear-gradient(90deg,#000099,#050099,#0a0099,#100099,#160099,#1c0099,#220099,#290099,#2f0099,#360099)"></i><i style="top:608.5px;left:1439px;width:144px;height:2px;background:linear-gradient(90deg,#000099,#050099,#0a0099,#100099,#160099,#1c0099,#220099,#290099,#2f0099,#360099)"></i><i style="top:610.5px;left:1439px;width:144px;height:2px;background:linear-gradient(90deg,#000099,#050099,#0a0099,#0f0099,#150099,#1c0099,#220099,#280099,#2f0099,#350099)"></i><i style="top:612.5px;left:1439px;width:144px;height:2px;background:linear-gradient(90deg,#000099,#040099,#0a0099,#0f0099,#150099,#1b0099,#210099,#280099,#2e0099,#350099)"></i><i style="top:614.5px;left:1439px;width:144px;height:2px;background:linear-gradient(90deg,#000099,#040099,#0a0099,#0f0099,#150099,#1b0099,#210099,#280099,#2e0099,#350099)"></i><i style="top:616.5px;left:1455px;width:128px;height:2px;background:linear-gradient(90deg,#040099,#090099,#0f0099,#150099,#1b0099,#210099,#270099,#2e0099,#340099)"></i><i style="top:618.5px;left:1455px;width:112px;height:2px;background:linear-gradient(90deg,#040099,#090099,#0f0099,#150099,#1b0099,#210099,#270099,#2d0099)"></i><i style="top:620.5px;left:1455px;width:112px;height:2px;background:linear-gradient(90deg,#040099,#090099,#0f0099,#140099,#1a0099,#200099,#270099,#2d0099)"></i><i style="top:622.5px;left:1455px;width:112px;height:2px;background:linear-gradient(90deg,#040099,#090099,#0e0099,#140099,#1a0099,#200099,#260099,#2d0099)"></i><i style="top:624.5px;left:1455px;width:112px;height:2px;background:linear-gradient(90deg,#040099,#090099,#0e0099,#140099,#1a0099,#200099,#260099,#2c0099)"></i><i style="top:626.5px;left:1455px;width:112px;height:2px;background:linear-gradient(90deg,#040099,#090099,#0e0099,#140099,#1a0099,#200099,#260099,#2c0099)"></i><i style="top:628.5px;left:1455px;width:112px;height:2px;background:linear-gradient(90deg,#040099,#090099,#0e0099,#140099,#190099,#1f0099,#250099,#2c0099)"></i><i style="top:630.5px;left:1455px;width:112px;height:2px;background:linear-gradient(90deg,#030099,#080099,#0e0099,#130099,#190099,#1f0099,#250099,#2b0099)"></i><i style="top:632.5px;left:1471px;width:96px;height:2px;background:linear-gradient(90deg,#080099,#0e0099,#130099,#190099,#1f0099,#250099,#2b0099)"></i><i style="top:634.5px;left:1471px;width:96px;height:2px;background:linear-gradient(90deg,#080099,#0d0099,#130099,#190099,#1f0099,#250099,#2b0099)"></i><i style="top:636.5px;left:1471px;width:80px;height:2px;background:linear-gradient(90deg,#080099,#0d0099,#130099,#180099,#1e0099,#240099)"></i><i style="top:638.5px;left:1471px;width:80px;height:2px;background:linear-gradient(90deg,#080099,#0d0099,#130099,#180099,#1e0099,#240099)"></i><i style="top:640.5px;left:1471px;width:80px;height:2px;background:linear-gradient(90deg,#080099,#0d0099,#120099,#180099,#1e0099,#240099)"></i><i style="top:642.5px;left:1471px;width:80px;height:2px;background:linear-gradient(90deg,#080099,#0d0099,#120099,#180099,#1e0099,#230099)"></i><i style="top:644.5px;left:1471px;width:80px;height:2px;background:linear-gradient(90deg,#070099,#0d0099,#120099,#180099,#1d0099,#230099)"></i><i style="top:646.5px;left:1487px;width:64px;height:2px;background:linear-gradient(90deg,#0c0099,#120099,#170099,#1d0099,#230099)"></i><i style="top:648.5px;left:1487px;width:64px;height:2px;background:linear-gradient(90deg,#0c0099,#120099,#170099,#1d0099,#230099)"></i><i style="top:650.5px;left:1487px;width:64px;height:2px;background:linear-gradient(90deg,#0c0099,#110099,#170099,#1d0099,#220099)"></i><i style="top:652.5px;left:1487px;width:64px;height:2px;background:linear-gradient(90deg,#0c0099,#110099,#170099,#1c0099,#220099)"></i><i style="top:654.5px;left:1487px;width:48px;height:2px;background:linear-gradient(90deg,#0c0099,#110099,#170099,#1c0099)"></i><i style="top:656.5px;left:1487px;width:48px;height:2px;background:linear-gradient(90deg,#0c0099,#110099,#160099,#1c0099)"></i><i style="top:658.5px;left:1487px;width:48px;height:2px;background:linear-gradient(90deg,#0c0099,#110099,#160099,#1c0099)"></i><i style="top:660.5px;left:1503px;width:32px;height:2px;background:linear-gradient(90deg,#110099,#160099,#1b0099)"></i><i style="top:662.5px;left:1503px;width:32px;height:2px;background:linear-gradient(90deg,#100099,#160099,#1b0099)"></i><i style="top:664.5px;left:1503px;width:32px;height:2px;background:linear-gradient(90deg,#100099,#160099,#1b0099)"></i><i style="top:666.5px;left:1503px;width:32px;height:2px;background:linear-gradient(90deg,#100099,#150099,#1b0099)"></i><i style="top:668.5px;left:1503px;width:32px;height:2px;background:linear-gradient(90deg,#100099,#150099,#1b0099)"></i><i style="top:670.5px;left:1503px;width:32px;height:2px;background:linear-gradient(90deg,#100099,#150099,#1a0099)"></i></div><div class="cl" style="clip-path:path('M1791.17 187.19L1341.32 137.7L1428.22 536.28Z')"><i style="top:136.5px;left:1341px;width:10px;height:2px;background:linear-gradient(90deg,#00ff00,#00ff00)"></i><i style="top:138.5px;left:1341px;width:30px;height:2px;background:linear-gradient(90deg,#00ff00,#00ff00,#00ff00,#02ff00)"></i><i style="top:140.5px;left:1341px;width:50px;height:2px;background:linear-gradient(90deg,#00ff00,#00ff00,#00ff00,#02ff00,#14ff00,#29ff00)"></i><i style="top:142.5px;left:1341px;width:70px;height:2px;background:linear-gradient(90deg,#00ff00,#00ff00,#00ff00,#01ff00,#13ff00,#28ff00,#40ff00,#59ff00)"></i><i style="top:144.5px;left:1341px;width:90px;height:2px;background:linear-gradient(90deg,#00ff00,#00ff00,#00ff00,#01ff00,#13ff00,#28ff00,#3fff00,#59ff00,#75ff00,#93ff00)"></i><i style="top:146.5px;left:1341px;width:100px;height:2px;background:linear-gradient(90deg,#00ff00,#00ff00,#00ff00,#01ff00,#12ff00,#28ff00,#3fff00,#59ff00,#75ff00,#93ff00,#b3ff00)"></i><i style="top:148.5px;left:1341px;width:120px;height:2px;background:linear-gradient(90deg,#00ff00,#00ff00,#00ff00,#00ff00,#12ff00,#27ff00,#3fff00,#59ff00,#75ff00,#93ff00,#b4ff00,#d7ff00,#fdff00)"></i><i style="top:150.5px;left:1341px;width:140px;height:2px;background:linear-gradient(90deg,#00ff03,#00ff02,#00ff00,#00ff00,#11ff00,#27ff00,#3eff00,#58ff00,#74ff00,#93ff00,#b4ff00,#d7ff00,#feff00,#ffdc00,#ffbf00)"></i><i style="top:152.5px;left:1341px;width:160px;height:2px;background:linear-gradient(90deg,#00ff06,#00ff04,#00ff03,#00ff02,#11ff00,#26ff00,#3eff00,#58ff00,#74ff00,#93ff00,#b4ff00,#d8ff00,#ffff00,#ffdb00,#ffbe00,#ffa600,#ff9200)"></i><i style="top:154.5px;left:1341px;width:180px;height:2px;background:linear-gradient(90deg,#00ff08,#00ff07,#00ff06,#00ff04,#10ff03,#26ff02,#3eff00,#58ff00,#74ff00,#93ff00,#b4ff00,#d8ff00,#ffff00,#ffdb00,#ffbe00,#ffa600,#ff9200,#ff8100,#ff7200)"></i><i style="top:156.5px;left:1341px;width:190px;height:2px;background:linear-gradient(90deg,#00ff0b,#00ff0a,#00ff09,#00ff07,#10ff06,#25ff05,#3dff03,#58ff02,#74ff00,#93ff00,#b5ff00,#d9ff00,#fffe00,#ffda00,#ffbd00,#ffa500,#ff9100,#ff8000,#ff7200,#ff6500)"></i><i style="top:158.5px;left:1341px;width:210px;height:2px;background:linear-gradient(90deg,#00ff0e,#00ff0d,#00ff0c,#00ff0b,#10ff09,#25ff08,#3dff06,#57ff05,#74ff03,#93ff02,#b5ff00,#d9ff00,#fffd00,#ffd900,#ffbc00,#ffa400,#ff9000,#ff7f00,#ff7100,#ff6400,#ff5900,#ff5000)"></i><i style="top:160.5px;left:1341px;width:230px;height:2px;background:linear-gradient(90deg,#00ff11,#00ff10,#00ff0f,#00ff0e,#0fff0d,#25ff0b,#3dff0a,#57ff08,#74ff07,#93ff05,#b5ff04,#daff02,#fffd00,#ffd800,#ffbb00,#ffa300,#ff8f00,#ff7f00,#ff7000,#ff6400,#ff5900,#ff4f00,#ff4700,#ff3f00)"></i><i style="top:162.5px;left:1341px;width:250px;height:2px;background:linear-gradient(90deg,#00ff15,#00ff13,#00ff12,#00ff11,#0eff10,#24ff0f,#3cff0d,#57ff0c,#74ff0a,#93ff09,#b5ff07,#daff06,#fffc04,#ffd802,#ffbb00,#ffa300,#ff8f00,#ff7e00,#ff7000,#ff6300,#ff5800,#ff4f00,#ff4600,#ff3f00,#ff3800,#ff3200)"></i><i style="top:164.5px;left:1341px;width:270px;height:2px;background:linear-gradient(90deg,#00ff18,#00ff17,#00ff16,#00ff15,#0eff13,#24ff12,#3cff11,#57ff10,#74ff0e,#93ff0d,#b5ff0b,#dbff09,#fffb08,#ffd705,#ffba03,#ffa201,#ff8e00,#ff7d00,#ff6f00,#ff6200,#ff5800,#ff4e00,#ff4600,#ff3e00,#ff3800,#ff3200,#ff2c00,#ff2700)"></i><i style="top:166.5px;left:1341px;width:290px;height:2px;background:linear-gradient(90deg,#00ff1b,#00ff1a,#00ff19,#00ff18,#0dff17,#23ff16,#3bff15,#56ff13,#73ff12,#93ff11,#b6ff0f,#dbff0e,#fffa0c,#ffd609,#ffb906,#ffa104,#ff8d02,#ff7d01,#ff6e00,#ff6200,#ff5700,#ff4e00,#ff4500,#ff3e00,#ff3700,#ff3100,#ff2c00,#ff2700,#ff2200,#ff1e00)"></i><i style="top:168.5px;left:1341px;width:300px;height:2px;background:linear-gradient(90deg,#00ff1f,#00ff1e,#00ff1d,#00ff1c,#0dff1b,#23ff1a,#3bff19,#56ff17,#73ff16,#93ff15,#b6ff13,#dcff12,#fffa10,#ffd50c,#ffb809,#ffa007,#ff8d05,#ff7c03,#ff6e02,#ff6101,#ff5600,#ff4d00,#ff4500,#ff3d00,#ff3700,#ff3100,#ff2b00,#ff2600,#ff2200,#ff1e00,#ff1a00)"></i><i style="top:170.5px;left:1341px;width:320px;height:2px;background:linear-gradient(90deg,#00ff22,#00ff21,#00ff20,#00ff1f,#0cff1e,#22ff1d,#3bff1c,#56ff1b,#73ff1a,#93ff19,#b6ff18,#dcff16,#fff914,#ffd510,#ffb80d,#ffa00a,#ff8c08,#ff7b06,#ff6d04,#ff6103,#ff5602,#ff4c01,#ff4400,#ff3d00,#ff3600,#ff3000,#ff2b00,#ff2600,#ff2100,#ff1d00,#ff1a00,#ff1600,#ff1300)"></i><i style="top:172.5px;left:1341px;width:340px;height:2px;background:linear-gradient(90deg,#00ff26,#00ff25,#00ff24,#00ff23,#0cff22,#22ff21,#3aff20,#55ff1f,#73ff1e,#93ff1d,#b6ff1c,#ddff1b,#fff819,#ffd414,#ffb710,#ff9f0d,#ff8b0a,#ff7a08,#ff6c06,#ff6005,#ff5504,#ff4c02,#ff4301,#ff3c01,#ff3500,#ff3000,#ff2a00,#ff2500,#ff2100,#ff1d00,#ff1900,#ff1600,#ff1300,#ff1000,#ff0d00)"></i><i style="top:174.5px;left:1341px;width:360px;height:2px;background:linear-gradient(90deg,#00ff29,#00ff28,#00ff28,#00ff27,#0bff26,#21ff25,#3aff25,#55ff24,#73ff23,#93ff22,#b7ff21,#ddff20,#fff81d,#ffd318,#ffb614,#ff9e10,#ff8a0d,#ff7a0b,#ff6c09,#ff5f07,#ff5506,#ff4b04,#ff4303,#ff3c02,#ff3501,#ff2f01,#ff2a00,#ff2500,#ff2100,#ff1d00,#ff1900,#ff1600,#ff1200,#ff1000,#ff0d00,#ff0b00,#ff0800)"></i><i style="top:176.5px;left:1341px;width:380px;height:2px;background:linear-gradient(90deg,#00ff2d,#00ff2c,#00ff2c,#00ff2b,#0bff2a,#21ff2a,#3aff29,#55ff28,#73ff27,#94ff26,#b7ff25,#deff24,#fff722,#ffd21c,#ffb517,#ff9d14,#ff8a10,#ff790e,#ff6b0b,#ff5f09,#ff5408,#ff4b06,#ff4205,#ff3b04,#ff3403,#ff2f02,#ff2901,#ff2400,#ff2000,#ff1c00,#ff1800,#ff1500,#ff1200,#ff0f00,#ff0d00,#ff0a00,#ff0800,#ff0600,#ff0400)"></i><i style="top:178.5px;left:1341px;width:390px;height:2px;background:linear-gradient(90deg,#00ff30,#00ff30,#00ff2f,#00ff2f,#0aff2e,#20ff2e,#39ff2d,#55ff2c,#73ff2c,#94ff2b,#b7ff2a,#deff29,#fff627,#ffd220,#ffb51b,#ff9d17,#ff8913,#ff7810,#ff6a0e,#ff5e0c,#ff530a,#ff4a08,#ff4207,#ff3a05,#ff3404,#ff2e03,#ff2902,#ff2402,#ff2001,#ff1c00,#ff1800,#ff1500,#ff1200,#ff0f00,#ff0c00,#ff0a00,#ff0800,#ff0600,#ff0400,#ff0200)"></i><i style="top:180.5px;left:1341px;width:410px;height:2px;background:linear-gradient(90deg,#00ff34,#00ff34,#00ff33,#00ff33,#0aff32,#20ff32,#39ff31,#54ff31,#73ff30,#94ff30,#b8ff2f,#dfff2e,#fff52c,#ffd125,#ffb41f,#ff9c1a,#ff8816,#ff7813,#ff6910,#ff5d0e,#ff530c,#ff490a,#ff4109,#ff3a07,#ff3306,#ff2e05,#ff2804,#ff2403,#ff1f02,#ff1b02,#ff1801,#ff1400,#ff1100,#ff0f00,#ff0c00,#ff0a00,#ff0800,#ff0600,#ff0400,#ff0200,#ff0100,#ff0000)"></i><i style="top:182.5px;left:1351px;width:420px;height:2px;background:linear-gradient(90deg,#00ff38,#00ff37,#00ff37,#09ff37,#1fff36,#38ff36,#54ff35,#72ff35,#94ff35,#b8ff34,#dfff33,#fff531,#ffd029,#ffb323,#ff9b1e,#ff871a,#ff7716,#ff6913,#ff5d10,#ff520e,#ff490c,#ff410b,#ff3909,#ff3308,#ff2d06,#ff2805,#ff2304,#ff1f04,#ff1b03,#ff1702,#ff1401,#ff1101,#ff0e00,#ff0c00,#ff0900,#ff0700,#ff0500,#ff0300,#ff0200,#ff0000,#ff0000,#ff0000,#ff0000)"></i><i style="top:184.5px;left:1351px;width:440px;height:2px;background:linear-gradient(90deg,#00ff3c,#00ff3b,#00ff3b,#09ff3b,#1fff3b,#38ff3a,#54ff3a,#72ff3a,#94ff3a,#b8ff39,#e0ff39,#fff436,#ffcf2d,#ffb227,#ff9a21,#ff871d,#ff7619,#ff6816,#ff5c13,#ff5111,#ff480e,#ff400d,#ff390b,#ff3209,#ff2d08,#ff2707,#ff2306,#ff1e05,#ff1a04,#ff1703,#ff1403,#ff1102,#ff0e01,#ff0b01,#ff0900,#ff0700,#ff0500,#ff0300,#ff0200,#ff0000,#ff0000,#ff0000,#ff0000,#ff0000,#ff0000)"></i><i style="top:186.5px;left:1351px;width:440px;height:2px;background:linear-gradient(90deg,#00ff40,#00ff40,#00ff3f,#08ff3f,#1eff3f,#38ff3f,#54ff3f,#72ff3f,#94ff3f,#b8ff3e,#e0ff3e,#fff33b,#ffce32,#ffb12b,#ff9a25,#ff8620,#ff751c,#ff6718,#ff5b15,#ff5113,#ff4811,#ff3f0f,#ff380d,#ff320b,#ff2c0a,#ff2708,#ff2207,#ff1e06,#ff1a05,#ff1604,#ff1304,#ff1003,#ff0d02,#ff0b02,#ff0901,#ff0701,#ff0500,#ff0300,#ff0100,#ff0000,#ff0000,#ff0000,#ff0000,#ff0000,#ff0000)"></i><i style="top:188.5px;left:1351px;width:440px;height:2px;background:linear-gradient(90deg,#00ff44,#00ff44,#00ff44,#08ff44,#1eff44,#37ff44,#53ff44,#72ff44,#94ff44,#b9ff44,#e1ff44,#fff240,#ffce37,#ffb12f,#ff9929,#ff8523,#ff751f,#ff671b,#ff5b18,#ff5015,#ff4713,#ff3f11,#ff380f,#ff310d,#ff2b0b,#ff260a,#ff2209,#ff1d08,#ff1a07,#ff1606,#ff1305,#ff1004,#ff0d03,#ff0b03,#ff0802,#ff0602,#ff0401,#ff0301,#ff0100,#ff0000,#ff0000,#ff0000,#ff0000,#ff0000,#ff0000)"></i><i style="top:190.5px;left:1351px;width:440px;height:2px;background:linear-gradient(90deg,#00ff48,#00ff48,#00ff48,#07ff48,#1dff48,#37ff49,#53ff49,#72ff49,#94ff49,#b9ff49,#e1ff49,#fff146,#ffcd3b,#ffb033,#ff982c,#ff8427,#ff7422,#ff661e,#ff5a1b,#ff4f18,#ff4615,#ff3e13,#ff3711,#ff310f,#ff2b0d,#ff260c,#ff210a,#ff1d09,#ff1908,#ff1607,#ff1206,#ff0f05,#ff0d05,#ff0a04,#ff0803,#ff0603,#ff0402,#ff0201,#ff0101,#ff0001,#ff0000,#ff0000,#ff0000,#ff0000,#ff0000)"></i><i style="top:192.5px;left:1351px;width:440px;height:2px;background:linear-gradient(90deg,#00ff4c,#00ff4c,#00ff4d,#07ff4d,#1dff4d,#36ff4d,#53ff4e,#72ff4e,#94ff4e,#b9ff4f,#e2ff4f,#fff14b,#ffcc40,#ffaf37,#ff9730,#ff842a,#ff7325,#ff6521,#ff591d,#ff4f1a,#ff4617,#ff3e15,#ff3713,#ff3011,#ff2a0f,#ff250d,#ff210c,#ff1c0b,#ff1909,#ff1508,#ff1207,#ff0f06,#ff0c06,#ff0a05,#ff0804,#ff0604,#ff0403,#ff0202,#ff0102,#ff0001,#ff0001,#ff0001,#ff0000,#ff0000,#ff0000)"></i><i style="top:194.5px;left:1351px;width:440px;height:2px;background:linear-gradient(90deg,#00ff50,#00ff51,#00ff51,#06ff52,#1cff52,#36ff52,#52ff53,#72ff53,#94ff54,#baff54,#e2ff55,#fff050,#ffcb45,#ffae3b,#ff9734,#ff832d,#ff7328,#ff6524,#ff5920,#ff4e1c,#ff4519,#ff3d17,#ff3615,#ff3013,#ff2a11,#ff250f,#ff200d,#ff1c0c,#ff180b,#ff150a,#ff1209,#ff0f08,#ff0c07,#ff0a06,#ff0705,#ff0505,#ff0304,#ff0203,#ff0003,#ff0002,#ff0002,#ff0001,#ff0001,#ff0000,#ff0000)"></i><i style="top:196.5px;left:1351px;width:440px;height:2px;background:linear-gradient(90deg,#00ff55,#00ff55,#00ff56,#05ff56,#1cff57,#35ff57,#52ff58,#72ff59,#94ff59,#baff5a,#e3ff5b,#ffef56,#ffca49,#ffad40,#ff9638,#ff8231,#ff722b,#ff6427,#ff5822,#ff4e1f,#ff441c,#ff3c19,#ff3517,#ff2f14,#ff2912,#ff2411,#ff200f,#ff1c0e,#ff180c,#ff140b,#ff110a,#ff0e09,#ff0c08,#ff0907,#ff0706,#ff0506,#ff0305,#ff0204,#ff0004,#ff0003,#ff0003,#ff0002,#ff0002,#ff0001,#ff0001)"></i><i style="top:198.5px;left:1351px;width:430px;height:2px;background:linear-gradient(90deg,#00ff59,#00ff5a,#00ff5a,#05ff5b,#1bff5c,#35ff5c,#52ff5d,#71ff5e,#94ff5f,#baff60,#e4ff61,#ffee5b,#ffca4e,#ffad44,#ff953b,#ff8134,#ff712e,#ff6329,#ff5725,#ff4d21,#ff441e,#ff3c1b,#ff3519,#ff2f16,#ff2914,#ff2412,#ff1f11,#ff1b0f,#ff170e,#ff140c,#ff110b,#ff0e0a,#ff0b09,#ff0908,#ff0707,#ff0507,#ff0306,#ff0105,#ff0005,#ff0004,#ff0003,#ff0003,#ff0002,#ff0002)"></i><i style="top:200.5px;left:1351px;width:430px;height:2px;background:linear-gradient(90deg,#00ff5e,#00ff5e,#00ff5f,#04ff60,#1bff61,#34ff62,#51ff63,#71ff64,#94ff65,#baff66,#e4ff67,#ffed61,#ffc953,#ffac48,#ff943f,#ff8138,#ff7032,#ff622c,#ff5728,#ff4c24,#ff4320,#ff3b1d,#ff341b,#ff2e18,#ff2816,#ff2314,#ff1f12,#ff1b11,#ff170f,#ff140e,#ff100d,#ff0e0c,#ff0b0a,#ff0909,#ff0609,#ff0408,#ff0307,#ff0106,#ff0006,#ff0005,#ff0004,#ff0004,#ff0003,#ff0003)"></i><i style="top:202.5px;left:1351px;width:430px;height:2px;background:linear-gradient(90deg,#00ff62,#00ff63,#00ff64,#04ff65,#1aff66,#34ff67,#51ff68,#71ff69,#94ff6a,#bbff6c,#e5ff6d,#ffed67,#ffc858,#ffab4d,#ff9343,#ff803b,#ff7035,#ff622f,#ff562b,#ff4c26,#ff4323,#ff3b20,#ff341d,#ff2d1a,#ff2818,#ff2316,#ff1e14,#ff1a12,#ff1611,#ff130f,#ff100e,#ff0d0d,#ff0b0c,#ff080b,#ff060a,#ff0409,#ff0208,#ff0107,#ff0006,#ff0006,#ff0005,#ff0005,#ff0004,#ff0003)"></i><i style="top:204.5px;left:1351px;width:430px;height:2px;background:linear-gradient(90deg,#00ff67,#00ff68,#00ff69,#03ff6a,#1aff6b,#34ff6c,#51ff6e,#71ff6f,#94ff70,#bbff72,#e5ff74,#ffec6d,#ffc75d,#ffaa51,#ff9347,#ff7f3f,#ff6f38,#ff6132,#ff552d,#ff4b29,#ff4225,#ff3a22,#ff331f,#ff2d1c,#ff271a,#ff2218,#ff1e16,#ff1a14,#ff1612,#ff1311,#ff100f,#ff0d0e,#ff0a0d,#ff080c,#ff060b,#ff040a,#ff0209,#ff0108,#ff0007,#ff0007,#ff0006,#ff0005,#ff0005,#ff0004)"></i><i style="top:206.5px;left:1351px;width:430px;height:2px;background:linear-gradient(90deg,#00ff6b,#00ff6d,#00ff6e,#03ff6f,#19ff70,#33ff72,#50ff73,#71ff75,#94ff76,#bbff78,#e6ff7a,#ffeb73,#ffc662,#ffa956,#ff924b,#ff7e43,#ff6e3c,#ff6035,#ff5530,#ff4a2c,#ff4128,#ff3a24,#ff3321,#ff2c1e,#ff271c,#ff2219,#ff1d17,#ff1915,#ff1614,#ff1212,#ff0f11,#ff0c0f,#ff0a0e,#ff080d,#ff050c,#ff030b,#ff020a,#ff0009,#ff0008,#ff0008,#ff0007,#ff0006,#ff0006,#ff0005)"></i><i style="top:208.5px;left:1351px;width:420px;height:2px;background:linear-gradient(90deg,#00ff70,#00ff71,#00ff73,#02ff74,#18ff76,#33ff77,#50ff79,#71ff7b,#94ff7d,#bcff7f,#e7ff81,#ffea78,#ffc568,#ffa85a,#ff914f,#ff7e46,#ff6d3f,#ff6038,#ff5433,#ff4a2e,#ff412a,#ff3926,#ff3223,#ff2c20,#ff261e,#ff211b,#ff1d19,#ff1917,#ff1515,#ff1214,#ff0f12,#ff0c11,#ff0a0f,#ff070e,#ff050d,#ff030c,#ff020b,#ff000a,#ff0009,#ff0009,#ff0008,#ff0007,#ff0007)"></i><i style="top:210.5px;left:1351px;width:420px;height:2px;background:linear-gradient(90deg,#00ff75,#00ff76,#00ff78,#02ff79,#18ff7b,#32ff7d,#50ff7f,#71ff81,#95ff83,#bcff85,#e7ff88,#ffe97f,#ffc56d,#ffa85f,#ff9053,#ff7d4a,#ff6d42,#ff5f3c,#ff5336,#ff4931,#ff402d,#ff3829,#ff3125,#ff2b22,#ff261f,#ff211d,#ff1c1b,#ff1819,#ff1517,#ff1115,#ff0e14,#ff0c12,#ff0911,#ff0710,#ff050e,#ff030d,#ff010c,#ff000b,#ff000b,#ff000a,#ff0009,#ff0008,#ff0007)"></i><i style="top:212.5px;left:1351px;width:420px;height:2px;background:linear-gradient(90deg,#00ff7a,#00ff7b,#00ff7d,#01ff7f,#17ff81,#32ff82,#4fff85,#70ff87,#95ff89,#bcff8c,#e8ff8e,#ffe885,#ffc472,#ffa763,#ff8f58,#ff7c4e,#ff6c46,#ff5e3f,#ff5239,#ff4834,#ff402f,#ff382b,#ff3127,#ff2b24,#ff2521,#ff201f,#ff1c1d,#ff181a,#ff1418,#ff1117,#ff0e15,#ff0b14,#ff0912,#ff0711,#ff0410,#ff030e,#ff010d,#ff000c,#ff000c,#ff000b,#ff000a,#ff0009,#ff0008)"></i><i style="top:214.5px;left:1351px;width:420px;height:2px;background:linear-gradient(90deg,#00ff7f,#00ff80,#00ff82,#01ff84,#17ff86,#31ff88,#4fff8b,#70ff8d,#95ff90,#bdff92,#e9ff95,#ffe88b,#ffc377,#ffa668,#ff8e5c,#ff7b52,#ff6b49,#ff5d42,#ff523c,#ff4836,#ff3f32,#ff372d,#ff302a,#ff2a26,#ff2523,#ff2021,#ff1b1e,#ff181c,#ff141a,#ff1118,#ff0e16,#ff0b15,#ff0813,#ff0612,#ff0411,#ff0210,#ff010f,#ff000e,#ff000d,#ff000c,#ff000b,#ff000a,#ff0009)"></i><i style="top:216.5px;left:1351px;width:410px;height:2px;background:linear-gradient(90deg,#00ff84,#00ff86,#00ff87,#00ff8a,#16ff8c,#31ff8e,#4fff91,#70ff93,#95ff96,#bdff99,#e9ff9d,#ffe791,#ffc27d,#ffa56d,#ff8e60,#ff7a55,#ff6a4d,#ff5d45,#ff513f,#ff4739,#ff3e34,#ff3730,#ff302c,#ff2a28,#ff2425,#ff1f23,#ff1b20,#ff171e,#ff131c,#ff101a,#ff0d18,#ff0b16,#ff0815,#ff0613,#ff0412,#ff0211,#ff0010,#ff000f,#ff000e,#ff000d,#ff000c,#ff000b)"></i><i style="top:218.5px;left:1351px;width:410px;height:2px;background:linear-gradient(90deg,#00ff89,#00ff8b,#00ff8d,#00ff8f,#16ff91,#30ff94,#4eff97,#70ff9a,#95ff9d,#bdffa0,#eaffa4,#ffe697,#ffc182,#ffa472,#ff8d64,#ff7a59,#ff6a50,#ff5c48,#ff5042,#ff463c,#ff3e37,#ff3632,#ff2f2e,#ff292b,#ff2427,#ff1f24,#ff1b22,#ff171f,#ff131d,#ff101b,#ff0d19,#ff0a18,#ff0816,#ff0615,#ff0413,#ff0212,#ff0011,#ff0010,#ff000f,#ff000e,#ff000d,#ff000c)"></i><i style="top:220.5px;left:1351px;width:410px;height:2px;background:linear-gradient(90deg,#00ff8e,#00ff90,#00ff92,#00ff95,#15ff97,#30ff9a,#4eff9d,#70ffa0,#95ffa4,#beffa7,#ebffab,#ffe59e,#ffc088,#ffa377,#ff8c69,#ff795d,#ff6954,#ff5b4b,#ff5045,#ff463e,#ff3d39,#ff3534,#ff2f30,#ff292d,#ff2329,#ff1e26,#ff1a24,#ff1621,#ff131f,#ff0f1d,#ff0c1b,#ff0a19,#ff0717,#ff0516,#ff0315,#ff0113,#ff0012,#ff0011,#ff0010,#ff000f,#ff000e,#ff000d)"></i><i style="top:222.5px;left:1351px;width:410px;height:2px;background:linear-gradient(90deg,#00ff93,#00ff95,#00ff98,#00ff9a,#14ff9d,#2fffa0,#4effa3,#70ffa7,#95ffab,#beffae,#ebffb3,#ffe4a4,#ffbf8d,#ffa27b,#ff8b6d,#ff7861,#ff6857,#ff5b4f,#ff4f48,#ff4541,#ff3c3c,#ff3537,#ff2e33,#ff282f,#ff232b,#ff1e28,#ff1a25,#ff1623,#ff1220,#ff0f1e,#ff0c1c,#ff091b,#ff0719,#ff0517,#ff0316,#ff0114,#ff0013,#ff0012,#ff0011,#ff0010,#ff000f,#ff000e)"></i><i style="top:224.5px;left:1351px;width:410px;height:2px;background:linear-gradient(90deg,#00ff98,#00ff9b,#00ff9d,#00ffa0,#14ffa3,#2fffa6,#4dffaa,#6fffae,#95ffb2,#beffb6,#ecffba,#ffe3ab,#ffbe93,#ffa280,#ff8a71,#ff7765,#ff675b,#ff5a52,#ff4e4b,#ff4444,#ff3c3e,#ff3439,#ff2d35,#ff2731,#ff222d,#ff1d2a,#ff1927,#ff1525,#ff1222,#ff0f20,#ff0c1e,#ff091c,#ff071a,#ff0519,#ff0317,#ff0116,#ff0014,#ff0013,#ff0012,#ff0011,#ff0010,#ff000f)"></i><i style="top:226.5px;left:1351px;width:400px;height:2px;background:linear-gradient(90deg,#00ff9e,#00ffa0,#00ffa3,#00ffa6,#13ffa9,#2effad,#4dffb0,#6fffb4,#95ffb9,#bfffbd,#edffc2,#ffe2b1,#ffbe99,#ffa185,#ff8976,#ff7669,#ff665e,#ff5955,#ff4e4e,#ff4447,#ff3b41,#ff343c,#ff2d37,#ff2733,#ff222f,#ff1d2c,#ff1929,#ff1526,#ff1124,#ff0e21,#ff0b1f,#ff091d,#ff061c,#ff041a,#ff0218,#ff0117,#ff0016,#ff0014,#ff0013,#ff0012,#ff0011)"></i><i style="top:228.5px;left:1361px;width:390px;height:2px;background:linear-gradient(90deg,#00ffa6,#00ffa9,#00ffac,#13ffb0,#2effb3,#4dffb7,#6fffbb,#95ffc0,#bfffc5,#edffca,#ffe2b8,#ffbd9e,#ffa08a,#ff897a,#ff766d,#ff6662,#ff5859,#ff4d51,#ff434a,#ff3a44,#ff333e,#ff2c39,#ff2635,#ff2131,#ff1c2e,#ff182b,#ff1428,#ff1125,#ff0e23,#ff0b21,#ff081f,#ff061d,#ff041b,#ff021a,#ff0018,#ff0017,#ff0015,#ff0014,#ff0013,#ff0012)"></i><i style="top:230.5px;left:1361px;width:390px;height:2px;background:linear-gradient(90deg,#00ffab,#00ffaf,#00ffb2,#12ffb6,#2dffba,#4cffbe,#6fffc2,#95ffc7,#bfffcd,#eeffd2,#ffe1bf,#ffbca4,#ff9f90,#ff887f,#ff7571,#ff6566,#ff585c,#ff4c54,#ff424d,#ff3a46,#ff3241,#ff2c3c,#ff2637,#ff2133,#ff1c30,#ff182d,#ff142a,#ff1027,#ff0d25,#ff0a22,#ff0820,#ff061e,#ff041d,#ff021b,#ff0019,#ff0018,#ff0017,#ff0015,#ff0014,#ff0013)"></i><i style="top:232.5px;left:1361px;width:390px;height:2px;background:linear-gradient(90deg,#00ffb1,#00ffb5,#00ffb8,#11ffbc,#2dffc0,#4cffc5,#6fffca,#95ffcf,#c0ffd4,#efffda,#ffe0c5,#ffbbaa,#ff9e95,#ff8783,#ff7475,#ff6469,#ff575f,#ff4b57,#ff424f,#ff3949,#ff3243,#ff2b3e,#ff253a,#ff2036,#ff1b32,#ff172f,#ff132c,#ff1029,#ff0d26,#ff0a24,#ff0822,#ff0520,#ff031e,#ff011c,#ff001b,#ff0019,#ff0018,#ff0016,#ff0015,#ff0014)"></i><i style="top:234.5px;left:1361px;width:390px;height:2px;background:linear-gradient(90deg,#00ffb7,#00ffbb,#00ffbf,#11ffc3,#2cffc7,#4cffcc,#6fffd1,#95ffd6,#c0ffdc,#f0ffe3,#ffdfcc,#ffbab0,#ff9d9a,#ff8688,#ff7379,#ff636d,#ff5663,#ff4b5a,#ff4152,#ff384c,#ff3146,#ff2a40,#ff253c,#ff2038,#ff1b34,#ff1730,#ff132d,#ff102a,#ff0c28,#ff0a25,#ff0723,#ff0521,#ff031f,#ff011e,#ff001c,#ff001a,#ff0019,#ff0018,#ff0016,#ff0015)"></i><i style="top:236.5px;left:1361px;width:380px;height:2px;background:linear-gradient(90deg,#00ffbd,#00ffc1,#00ffc5,#10ffc9,#2cffce,#4bffd3,#6effd8,#95ffde,#c1ffe4,#f0ffeb,#ffded3,#ffb9b6,#ff9c9f,#ff858d,#ff727e,#ff6371,#ff5566,#ff4a5d,#ff4055,#ff384e,#ff3048,#ff2a43,#ff243e,#ff1f3a,#ff1a36,#ff1632,#ff122f,#ff0f2c,#ff0c29,#ff0927,#ff0725,#ff0523,#ff0321,#ff011f,#ff001d,#ff001c,#ff001a,#ff0019,#ff0017)"></i><i style="top:238.5px;left:1361px;width:380px;height:2px;background:linear-gradient(90deg,#00ffc3,#00ffc7,#00ffcb,#0fffd0,#2bffd5,#4bffda,#6effe0,#95ffe6,#c1ffed,#f1fff4,#ffddda,#ffb8bc,#ff9ba4,#ff8491,#ff7182,#ff6275,#ff556a,#ff4960,#ff4058,#ff3751,#ff304b,#ff2945,#ff2440,#ff1e3c,#ff1a38,#ff1634,#ff1231,#ff0f2e,#ff0c2b,#ff0929,#ff0626,#ff0424,#ff0222,#ff0120,#ff001e,#ff001d,#ff001b,#ff001a,#ff0018)"></i><i style="top:240.5px;left:1361px;width:380px;height:2px;background:linear-gradient(90deg,#00ffc9,#00ffcd,#00ffd2,#0fffd7,#2bffdc,#4affe2,#6effe8,#96ffee,#c1fff5,#f2fffd,#ffdce1,#ffb7c2,#ff9aaa,#ff8396,#ff7186,#ff6179,#ff546d,#ff4964,#ff3f5b,#ff3754,#ff2f4d,#ff2948,#ff2343,#ff1e3e,#ff193a,#ff1536,#ff1233,#ff0e30,#ff0b2d,#ff092a,#ff0628,#ff0425,#ff0223,#ff0021,#ff0020,#ff001e,#ff001c,#ff001b,#ff001a)"></i><i style="top:242.5px;left:1361px;width:380px;height:2px;background:linear-gradient(90deg,#00ffcf,#00ffd4,#00ffd8,#0effde,#2affe3,#4affe9,#6effef,#96fff6,#c2fffe,#ecf8ff,#ffdbe9,#ffb6c8,#ff99af,#ff829b,#ff708a,#ff607c,#ff5371,#ff4867,#ff3e5e,#ff3657,#ff2f50,#ff284a,#ff2245,#ff1d40,#ff193c,#ff1538,#ff1135,#ff0e31,#ff0b2e,#ff082c,#ff0629,#ff0427,#ff0225,#ff0023,#ff0021,#ff001f,#ff001e,#ff001c,#ff001b)"></i><i style="top:244.5px;left:1361px;width:380px;height:2px;background:linear-gradient(90deg,#00ffd5,#00ffda,#00ffdf,#0effe4,#29ffea,#4afff1,#6efff7,#96ffff,#bdf8ff,#e5f0ff,#ffdaf0,#ffb5cf,#ff99b4,#ff82a0,#ff6f8f,#ff5f80,#ff5274,#ff476a,#ff3e61,#ff3559,#ff2e53,#ff284d,#ff2247,#ff1d42,#ff183e,#ff143a,#ff1136,#ff0d33,#ff0a30,#ff082d,#ff052b,#ff0328,#ff0126,#ff0024,#ff0022,#ff0020,#ff001f,#ff001d,#ff001c)"></i><i style="top:246.5px;left:1361px;width:370px;height:2px;background:linear-gradient(90deg,#00ffdc,#00ffe0,#00ffe6,#0dffec,#29fff2,#49fff8,#6dffff,#91f7ff,#b7f0ff,#dee8ff,#ffd9f7,#ffb4d5,#ff98ba,#ff81a4,#ff6e93,#ff5f84,#ff5178,#ff466d,#ff3d64,#ff355c,#ff2d55,#ff274f,#ff2149,#ff1c44,#ff1840,#ff143c,#ff1038,#ff0d35,#ff0a32,#ff072f,#ff052c,#ff032a,#ff0128,#ff0025,#ff0024,#ff0022,#ff0020,#ff001e)"></i><i style="top:248.5px;left:1361px;width:370px;height:2px;background:linear-gradient(90deg,#00ffe2,#00ffe7,#00ffed,#0cfff3,#28fff9,#48feff,#6af7ff,#8defff,#b1e8ff,#d8e0ff,#ffd8ff,#ffb3db,#ff97bf,#ff80a9,#ff6d97,#ff5e88,#ff517b,#ff4671,#ff3c67,#ff345f,#ff2d58,#ff2651,#ff214c,#ff1c47,#ff1742,#ff133e,#ff103a,#ff0d37,#ff0a33,#ff0731,#ff052e,#ff032b,#ff0129,#ff0027,#ff0025,#ff0023,#ff0021,#ff0020)"></i><i style="top:250.5px;left:1361px;width:370px;height:2px;background:linear-gradient(90deg,#00ffe8,#00ffee,#00fff4,#0cfffa,#27fdff,#46f6ff,#66efff,#88e8ff,#ace1ff,#d1d9ff,#f8d2ff,#ffb2e2,#ff96c5,#ff7fae,#ff6c9c,#ff5d8c,#ff507f,#ff4574,#ff3b6a,#ff3362,#ff2c5a,#ff2654,#ff204e,#ff1b49,#ff1744,#ff1340,#ff0f3c,#ff0c38,#ff0935,#ff0732,#ff042f,#ff022d,#ff002a,#ff0028,#ff0026,#ff0024,#ff0022,#ff0021)"></i><i style="top:252.5px;left:1361px;width:370px;height:2px;background:linear-gradient(90deg,#00ffef,#00fff5,#00fffb,#0bfdff,#26f6ff,#43efff,#63e8ff,#84e1ff,#a7daff,#cbd2ff,#f1cbff,#ffb1e8,#ff95cb,#ff7eb3,#ff6ba0,#ff5c90,#ff4f83,#ff4477,#ff3b6d,#ff3365,#ff2b5d,#ff2556,#ff2050,#ff1b4b,#ff1646,#ff1242,#ff0f3e,#ff0c3a,#ff0937,#ff0634,#ff0431,#ff022e,#ff002c,#ff002a,#ff0027,#ff0026,#ff0024,#ff0022)"></i><i style="top:254.5px;left:1361px;width:370px;height:2px;background:linear-gradient(90deg,#00fff6,#00fffc,#00fcff,#0af5ff,#24efff,#41e8ff,#60e1ff,#80daff,#a2d3ff,#c6ccff,#ebc4ff,#ffb0ee,#ff94d0,#ff7db8,#ff6ba5,#ff5b94,#ff4e86,#ff437b,#ff3a70,#ff3268,#ff2b60,#ff2559,#ff1f53,#ff1a4d,#ff1648,#ff1244,#ff0e40,#ff0b3c,#ff0839,#ff0635,#ff0432,#ff0230,#ff002d,#ff002b,#ff0029,#ff0027,#ff0025,#ff0023)"></i><i style="top:256.5px;left:1361px;width:360px;height:2px;background:linear-gradient(90deg,#00fffc,#00fbff,#00f5ff,#09efff,#23e8ff,#3fe1ff,#5ddbff,#7dd4ff,#9ecdff,#c0c5ff,#e4beff,#ffaff5,#ff93d6,#ff7cbd,#ff6aa9,#ff5a98,#ff4e8a,#ff437e,#ff3974,#ff316a,#ff2a62,#ff245b,#ff1f55,#ff1a4f,#ff154a,#ff1146,#ff0e42,#ff0b3e,#ff083a,#ff0537,#ff0334,#ff0131,#ff002f,#ff002c,#ff002a,#ff0028,#ff0026)"></i><i style="top:258.5px;left:1361px;width:360px;height:2px;background:linear-gradient(90deg,#00fbff,#00f5ff,#00eeff,#08e8ff,#21e2ff,#3ddbff,#5ad4ff,#79cdff,#99c6ff,#bbbfff,#deb8ff,#ffaefc,#ff92dc,#ff7bc2,#ff69ae,#ff5a9c,#ff4d8e,#ff4281,#ff3977,#ff316d,#ff2a65,#ff235e,#ff1e57,#ff1952,#ff154c,#ff1148,#ff0d43,#ff0a40,#ff083c,#ff0539,#ff0336,#ff0133,#ff0030,#ff002e,#ff002b,#ff0029,#ff0027)"></i><i style="top:260.5px;left:1361px;width:360px;height:2px;background:linear-gradient(90deg,#00f4ff,#00eeff,#00e8ff,#07e2ff,#20dbff,#3bd5ff,#57ceff,#76c7ff,#95c0ff,#b6b9ff,#d8b2ff,#fcabff,#ff91e2,#ff7ac7,#ff68b2,#ff59a0,#ff4c92,#ff4185,#ff387a,#ff3070,#ff2968,#ff2361,#ff1d5a,#ff1954,#ff144f,#ff104a,#ff0d45,#ff0a41,#ff073e,#ff053a,#ff0237,#ff0134,#ff0032,#ff002f,#ff002d,#ff002b,#ff0029)"></i><i style="top:262.5px;left:1361px;width:360px;height:2px;background:linear-gradient(90deg,#00eeff,#00e8ff,#00e2ff,#06dcff,#1ed5ff,#39cfff,#55c8ff,#72c2ff,#91bbff,#b1b4ff,#d3adff,#f5a6ff,#ff90e8,#ff79cd,#ff67b7,#ff58a5,#ff4b95,#ff4088,#ff377d,#ff2f73,#ff286b,#ff2263,#ff1d5c,#ff1856,#ff1451,#ff104c,#ff0d47,#ff0943,#ff073f,#ff043c,#ff0239,#ff0036,#ff0033,#ff0031,#ff002e,#ff002c,#ff002a)"></i><i style="top:264.5px;left:1361px;width:350px;height:2px;background:linear-gradient(90deg,#00e8ff,#00e2ff,#00dcff,#06d6ff,#1dd0ff,#37c9ff,#52c3ff,#6fbcff,#8db5ff,#adafff,#cda8ff,#efa1ff,#ff8fed,#ff78d2,#ff66bb,#ff57a9,#ff4a99,#ff408c,#ff3780,#ff2f76,#ff286d,#ff2266,#ff1c5f,#ff1759,#ff1353,#ff0f4e,#ff0c49,#ff0945,#ff0641,#ff043e,#ff023a,#ff0037,#ff0035,#ff0032,#ff0030,#ff002d)"></i><i style="top:266.5px;left:1361px;width:350px;height:2px;background:linear-gradient(90deg,#00e2ff,#00dcff,#00d6ff,#05d0ff,#1ccaff,#35c4ff,#50bdff,#6cb7ff,#8ab0ff,#a8aaff,#c8a3ff,#e99cff,#ff8ef3,#ff77d7,#ff65c0,#ff56ad,#ff4a9d,#ff3f8f,#ff3683,#ff2e79,#ff2770,#ff2168,#ff1c61,#ff175b,#ff1355,#ff0f50,#ff0c4b,#ff0947,#ff0643,#ff043f,#ff013c,#ff0039,#ff0036,#ff0033,#ff0031,#ff002f)"></i><i style="top:268.5px;left:1361px;width:350px;height:2px;background:linear-gradient(90deg,#00ddff,#00d7ff,#00d1ff,#04cbff,#1ac5ff,#33beff,#4db8ff,#69b2ff,#86abff,#a4a5ff,#c39eff,#e397ff,#ff8df9,#ff77dc,#ff64c5,#ff55b1,#ff49a1,#ff3e93,#ff3587,#ff2d7c,#ff2673,#ff206b,#ff1b64,#ff165d,#ff1257,#ff0e52,#ff0b4d,#ff0849,#ff0645,#ff0341,#ff013e,#ff003a,#ff0038,#ff0035,#ff0032,#ff0030)"></i><i style="top:270.5px;left:1361px;width:350px;height:2px;background:linear-gradient(90deg,#00d7ff,#00d1ff,#00ccff,#04c6ff,#19c0ff,#31b9ff,#4bb3ff,#66adff,#83a6ff,#a0a0ff,#be99ff,#de93ff,#fe8cff,#ff76e2,#ff63ca,#ff55b6,#ff48a5,#ff3d96,#ff348a,#ff2d7f,#ff2676,#ff206d,#ff1b66,#ff165f,#ff1259,#ff0e54,#ff0b4f,#ff084b,#ff0546,#ff0343,#ff013f,#ff003c,#ff0039,#ff0036,#ff0034,#ff0031)"></i><i style="top:272.5px;left:1361px;width:350px;height:2px;background:linear-gradient(90deg,#00d2ff,#00ccff,#00c6ff,#03c1ff,#18bbff,#30b4ff,#49aeff,#64a8ff,#7fa2ff,#9c9bff,#ba95ff,#d98eff,#f987ff,#ff75e7,#ff63ce,#ff54ba,#ff47a9,#ff3d9a,#ff348d,#ff2c82,#ff2579,#ff1f70,#ff1a69,#ff1562,#ff115c,#ff0e56,#ff0a51,#ff074c,#ff0548,#ff0244,#ff0141,#ff003e,#ff003b,#ff0038,#ff0035,#ff0033)"></i><i style="top:274.5px;left:1371px;width:330px;height:2px;background:linear-gradient(90deg,#00c7ff,#00c2ff,#02bcff,#17b6ff,#2eb0ff,#47aaff,#61a4ff,#7c9dff,#9897ff,#b591ff,#d48aff,#f383ff,#ff74ed,#ff62d3,#ff53be,#ff46ad,#ff3c9e,#ff3391,#ff2b85,#ff247b,#ff1f73,#ff196b,#ff1564,#ff115e,#ff0d58,#ff0a53,#ff074e,#ff044a,#ff0246,#ff0042,#ff003f,#ff003c,#ff0039,#ff0036)"></i><i style="top:276.5px;left:1371px;width:330px;height:2px;background:linear-gradient(90deg,#00c2ff,#00bdff,#02b7ff,#16b1ff,#2dabff,#45a5ff,#5e9fff,#7999ff,#9593ff,#b18cff,#cf86ff,#ed7fff,#ff73f2,#ff61d8,#ff52c3,#ff46b0,#ff3ba1,#ff3294,#ff2b88,#ff247e,#ff1e75,#ff196e,#ff1466,#ff1060,#ff0d5a,#ff0955,#ff0650,#ff044c,#ff0248,#ff0044,#ff0041,#ff003e,#ff003b,#ff0038)"></i><i style="top:278.5px;left:1371px;width:330px;height:2px;background:linear-gradient(90deg,#00beff,#00b8ff,#01b2ff,#15adff,#2ba7ff,#43a1ff,#5c9bff,#7695ff,#918fff,#ad88ff,#ca82ff,#e87cff,#ff72f8,#ff60dd,#ff51c7,#ff45b4,#ff3aa5,#ff3297,#ff2a8c,#ff2381,#ff1d78,#ff1870,#ff1469,#ff1062,#ff0c5c,#ff0957,#ff0652,#ff044e,#ff014a,#ff0046,#ff0042,#ff003f,#ff003c,#ff0039)"></i><i style="top:280.5px;left:1371px;width:330px;height:2px;background:linear-gradient(90deg,#00b9ff,#00b4ff,#01aeff,#14a8ff,#2aa3ff,#419dff,#5a97ff,#7391ff,#8e8bff,#a985ff,#c67eff,#e378ff,#ff71fd,#ff5fe2,#ff50cb,#ff44b8,#ff3aa8,#ff319b,#ff298f,#ff2384,#ff1d7b,#ff1873,#ff136b,#ff0f65,#ff0c5e,#ff0859,#ff0654,#ff034f,#ff014b,#ff0047,#ff0044,#ff0041,#ff003d,#ff003b)"></i><i style="top:282.5px;left:1371px;width:330px;height:2px;background:linear-gradient(90deg,#00b5ff,#00afff,#00aaff,#13a4ff,#289fff,#3f99ff,#5793ff,#708dff,#8a87ff,#a581ff,#c17bff,#de75ff,#fb6eff,#ff5ee7,#ff4fd0,#ff43bc,#ff39ac,#ff309e,#ff2892,#ff2287,#ff1c7e,#ff1775,#ff136e,#ff0f67,#ff0b61,#ff085b,#ff0556,#ff0351,#ff014d,#ff0049,#ff0045,#ff0042,#ff003f,#ff003c)"></i><i style="top:284.5px;left:1371px;width:320px;height:2px;background:linear-gradient(90deg,#00b1ff,#00abff,#00a6ff,#12a0ff,#279bff,#3d95ff,#558fff,#6e89ff,#8783ff,#a27dff,#bd77ff,#d971ff,#f66bff,#ff5dec,#ff4ed4,#ff42c1,#ff38b0,#ff2fa1,#ff2895,#ff218a,#ff1c80,#ff1778,#ff1270,#ff0e69,#ff0b63,#ff085d,#ff0558,#ff0253,#ff004f,#ff004b,#ff0047,#ff0044,#ff0040)"></i><i style="top:286.5px;left:1371px;width:320px;height:2px;background:linear-gradient(90deg,#00adff,#00a7ff,#00a2ff,#119cff,#2697ff,#3c91ff,#538bff,#6b86ff,#8480ff,#9e7aff,#b974ff,#d46eff,#f168ff,#ff5cf1,#ff4ed9,#ff42c5,#ff37b4,#ff2fa5,#ff2798,#ff218d,#ff1b83,#ff167a,#ff1272,#ff0e6b,#ff0a65,#ff075f,#ff045a,#ff0255,#ff0051,#ff004c,#ff0049,#ff0045,#ff0042)"></i><i style="top:288.5px;left:1371px;width:320px;height:2px;background:linear-gradient(90deg,#00a9ff,#00a3ff,#009eff,#1099ff,#2593ff,#3a8dff,#5188ff,#6982ff,#817cff,#9b77ff,#b571ff,#d06bff,#ec65ff,#ff5bf6,#ff4ddd,#ff41c9,#ff37b7,#ff2ea8,#ff269b,#ff2090,#ff1a86,#ff157d,#ff1175,#ff0d6e,#ff0a67,#ff0761,#ff045c,#ff0257,#ff0052,#ff004e,#ff004a,#ff0047,#ff0043)"></i><i style="top:290.5px;left:1371px;width:320px;height:2px;background:linear-gradient(90deg,#00a5ff,#00a0ff,#009aff,#1095ff,#238fff,#398aff,#4f84ff,#667fff,#7e79ff,#9773ff,#b16eff,#cc68ff,#e762ff,#ff5afb,#ff4ce2,#ff40cd,#ff36bb,#ff2dac,#ff269e,#ff1f93,#ff1a88,#ff157f,#ff1077,#ff0d70,#ff0969,#ff0663,#ff045e,#ff0159,#ff0054,#ff0050,#ff004c,#ff0048,#ff0045)"></i><i style="top:292.5px;left:1371px;width:320px;height:2px;background:linear-gradient(90deg,#00a1ff,#009cff,#0097ff,#0f91ff,#228cff,#3787ff,#4d81ff,#647cff,#7c76ff,#9470ff,#ad6aff,#c865ff,#e25fff,#fe59ff,#ff4be7,#ff3fd1,#ff35bf,#ff2caf,#ff25a2,#ff1f96,#ff198b,#ff1482,#ff107a,#ff0c72,#ff096b,#ff0665,#ff0360,#ff015b,#ff0056,#ff0052,#ff004e,#ff004a,#ff0046)"></i><i style="top:294.5px;left:1371px;width:310px;height:2px;background:linear-gradient(90deg,#009dff,#0098ff,#0093ff,#0e8eff,#2189ff,#3683ff,#4b7eff,#6278ff,#7973ff,#916dff,#aa68ff,#c362ff,#de5cff,#f956ff,#ff4aeb,#ff3ed5,#ff34c3,#ff2cb3,#ff24a5,#ff1e99,#ff188e,#ff1485,#ff0f7c,#ff0c74,#ff086e,#ff0567,#ff0362,#ff015c,#ff0058,#ff0053,#ff004f,#ff004b)"></i><i style="top:296.5px;left:1371px;width:310px;height:2px;background:linear-gradient(90deg,#009aff,#0095ff,#0090ff,#0d8bff,#2085ff,#3480ff,#497bff,#5f75ff,#7670ff,#8e6aff,#a665ff,#c05fff,#d959ff,#f454ff,#ff49f0,#ff3dd9,#ff33c6,#ff2bb6,#ff24a8,#ff1d9c,#ff1891,#ff1387,#ff0f7f,#ff0b77,#ff0870,#ff0569,#ff0264,#ff005e,#ff0059,#ff0055,#ff0051,#ff004d)"></i><i style="top:298.5px;left:1371px;width:310px;height:2px;background:linear-gradient(90deg,#0097ff,#0092ff,#008dff,#0d87ff,#1f82ff,#337dff,#4878ff,#5d72ff,#746dff,#8b67ff,#a362ff,#bc5cff,#d557ff,#ef51ff,#ff48f5,#ff3dde,#ff33ca,#ff2aba,#ff23ab,#ff1d9f,#ff1794,#ff128a,#ff0e81,#ff0b79,#ff0772,#ff046c,#ff0266,#ff0060,#ff005b,#ff0057,#ff0052,#ff004f)"></i><i style="top:300.5px;left:1371px;width:310px;height:2px;background:linear-gradient(90deg,#0093ff,#008eff,#0089ff,#0c84ff,#1e7fff,#317aff,#4675ff,#5b6fff,#716aff,#8865ff,#a05fff,#b85aff,#d154ff,#eb4fff,#ff47f9,#ff3ce2,#ff32ce,#ff29bd,#ff22af,#ff1ca2,#ff1797,#ff128c,#ff0e84,#ff0a7b,#ff0774,#ff046e,#ff0268,#ff0062,#ff005d,#ff0058,#ff0054,#ff0050)"></i><i style="top:302.5px;left:1371px;width:310px;height:2px;background:linear-gradient(90deg,#0090ff,#008bff,#0086ff,#0b81ff,#1d7cff,#3077ff,#4472ff,#596dff,#6f67ff,#8562ff,#9d5dff,#b557ff,#cd52ff,#e64cff,#ff46fe,#ff3be6,#ff31d2,#ff29c1,#ff22b2,#ff1ba5,#ff1699,#ff118f,#ff0d86,#ff0a7e,#ff0676,#ff0470,#ff016a,#ff0064,#ff005f,#ff005a,#ff0056,#ff0052)"></i><i style="top:304.5px;left:1371px;width:300px;height:2px;background:linear-gradient(90deg,#008dff,#0088ff,#0083ff,#0a7eff,#1c79ff,#2f74ff,#436fff,#576aff,#6d65ff,#835fff,#9a5aff,#b155ff,#c94fff,#e24aff,#fb45ff,#ff3aeb,#ff30d6,#ff28c5,#ff21b5,#ff1ba8,#ff159c,#ff1192,#ff0d89,#ff0980,#ff0679,#ff0372,#ff016c,#ff0066,#ff0061,#ff005c,#ff0057)"></i><i style="top:306.5px;left:1371px;width:300px;height:2px;background:linear-gradient(90deg,#008aff,#0085ff,#0080ff,#0a7bff,#1b76ff,#2d71ff,#416cff,#5567ff,#6a62ff,#805dff,#9758ff,#ae52ff,#c54dff,#de48ff,#f742ff,#ff39ef,#ff2fda,#ff27c8,#ff20b9,#ff1aab,#ff159f,#ff1095,#ff0c8b,#ff0983,#ff057b,#ff0374,#ff006e,#ff0068,#ff0063,#ff005e,#ff0059)"></i><i style="top:308.5px;left:1371px;width:300px;height:2px;background:linear-gradient(90deg,#0087ff,#0082ff,#007dff,#0979ff,#1a74ff,#2c6fff,#3f6aff,#5465ff,#6860ff,#7e5bff,#9455ff,#aa50ff,#c24bff,#da46ff,#f240ff,#ff38f3,#ff2fde,#ff26cc,#ff1fbc,#ff19ae,#ff14a2,#ff1097,#ff0c8e,#ff0885,#ff057d,#ff0276,#ff0070,#ff006a,#ff0064,#ff005f,#ff005b)"></i><i style="top:310.5px;left:1371px;width:300px;height:2px;background:linear-gradient(90deg,#0084ff,#007fff,#007bff,#0976ff,#1971ff,#2b6cff,#3e67ff,#5262ff,#665dff,#7b58ff,#9153ff,#a74eff,#be49ff,#d644ff,#ee3eff,#ff37f8,#ff2ee2,#ff26cf,#ff1fbf,#ff19b1,#ff14a5,#ff0f9a,#ff0b90,#ff0887,#ff057f,#ff0278,#ff0072,#ff006c,#ff0066,#ff0061,#ff005c)"></i><i style="top:312.5px;left:1371px;width:290px;height:2px;background:linear-gradient(90deg,#0081ff,#007dff,#0078ff,#0873ff,#186eff,#2a6aff,#3d65ff,#5060ff,#645bff,#7956ff,#8e51ff,#a44cff,#bb47ff,#d242ff,#ea3cff,#ff37fc,#ff2de6,#ff25d3,#ff1ec3,#ff18b4,#ff13a8,#ff0e9d,#ff0a93,#ff078a,#ff0482,#ff027a,#ff0074,#ff006e,#ff0068,#ff0063)"></i><i style="top:314.5px;left:1371px;width:290px;height:2px;background:linear-gradient(90deg,#007fff,#007aff,#0075ff,#0871ff,#186cff,#2967ff,#3b62ff,#4e5eff,#6259ff,#7754ff,#8c4fff,#a14aff,#b745ff,#ce40ff,#e63aff,#fd35ff,#ff2cea,#ff24d7,#ff1dc6,#ff17b8,#ff12ab,#ff0e9f,#ff0a95,#ff078c,#ff0484,#ff017d,#ff0076,#ff0070,#ff006a,#ff0065)"></i><i style="top:316.5px;left:1371px;width:290px;height:2px;background:linear-gradient(90deg,#007cff,#0077ff,#0073ff,#076eff,#1769ff,#2865ff,#3a60ff,#4d5bff,#6056ff,#7452ff,#894dff,#9e48ff,#b443ff,#cb3eff,#e239ff,#f934ff,#ff2bee,#ff23db,#ff1dca,#ff17bb,#ff12ae,#ff0da2,#ff0998,#ff068f,#ff0386,#ff017f,#ff0078,#ff0072,#ff006c,#ff0066)"></i><i style="top:318.5px;left:1371px;width:290px;height:2px;background:linear-gradient(90deg,#0079ff,#0075ff,#0070ff,#066cff,#1667ff,#2762ff,#395eff,#4b59ff,#5e54ff,#724fff,#874bff,#9c46ff,#b141ff,#c73cff,#de37ff,#f532ff,#ff2bf2,#ff23de,#ff1ccd,#ff16be,#ff11b1,#ff0da5,#ff099a,#ff0691,#ff0389,#ff0081,#ff007a,#ff0074,#ff006e,#ff0068)"></i><i style="top:320.5px;left:1381px;width:280px;height:2px;background:linear-gradient(90deg,#0072ff,#006eff,#0669ff,#1565ff,#2660ff,#375cff,#4a57ff,#5c52ff,#704dff,#8449ff,#9944ff,#ae3fff,#c43aff,#da35ff,#f130ff,#ff2af6,#ff22e2,#ff1bd1,#ff15c1,#ff10b4,#ff0ca8,#ff089d,#ff0594,#ff028b,#ff0083,#ff007c,#ff0076,#ff0070,#ff006a)"></i><i style="top:322.5px;left:1381px;width:270px;height:2px;background:linear-gradient(90deg,#0070ff,#006cff,#0567ff,#1463ff,#255eff,#3659ff,#4855ff,#5b50ff,#6e4bff,#8247ff,#9642ff,#ab3dff,#c038ff,#d633ff,#ed2fff,#ff29fb,#ff21e6,#ff1bd4,#ff15c4,#ff10b7,#ff0cab,#ff08a0,#ff0596,#ff028d,#ff0085,#ff007e,#ff0077,#ff0071)"></i><i style="top:324.5px;left:1381px;width:270px;height:2px;background:linear-gradient(90deg,#006eff,#0069ff,#0565ff,#1460ff,#245cff,#3557ff,#4753ff,#594eff,#6c49ff,#7f45ff,#9340ff,#a83bff,#bd37ff,#d332ff,#e92dff,#ff28ff,#ff20ea,#ff1ad8,#ff14c8,#ff0fba,#ff0bad,#ff07a2,#ff0498,#ff0190,#ff0088,#ff0080,#ff0079,#ff0073)"></i><i style="top:326.5px;left:1381px;width:270px;height:2px;background:linear-gradient(90deg,#006bff,#0067ff,#0563ff,#135eff,#235aff,#3455ff,#4551ff,#574cff,#6a48ff,#7d43ff,#913eff,#a53aff,#ba35ff,#cf30ff,#e52bff,#fb27ff,#ff20ee,#ff19db,#ff13cb,#ff0fbd,#ff0ab0,#ff07a5,#ff049b,#ff0192,#ff008a,#ff0082,#ff007b,#ff0075)"></i><i style="top:328.5px;left:1381px;width:270px;height:2px;background:linear-gradient(90deg,#0069ff,#0065ff,#0460ff,#125cff,#2258ff,#3253ff,#444fff,#564aff,#6846ff,#7b41ff,#8e3dff,#a238ff,#b733ff,#cc2fff,#e12aff,#f725ff,#ff1ff1,#ff18df,#ff13ce,#ff0ec0,#ff0ab3,#ff06a8,#ff039d,#ff0194,#ff008c,#ff0084,#ff007d,#ff0077)"></i><i style="top:330.5px;left:1381px;width:270px;height:2px;background:linear-gradient(90deg,#0067ff,#0063ff,#045eff,#125aff,#2156ff,#3151ff,#424dff,#5448ff,#6644ff,#793fff,#8c3bff,#a036ff,#b432ff,#c92dff,#de29ff,#f324ff,#ff1ef5,#ff18e2,#ff12d1,#ff0dc3,#ff09b6,#ff06aa,#ff03a0,#ff0097,#ff008e,#ff0087,#ff007f,#ff0079)"></i><i style="top:332.5px;left:1381px;width:260px;height:2px;background:linear-gradient(90deg,#0065ff,#0061ff,#035cff,#1158ff,#2054ff,#304fff,#414bff,#5247ff,#6442ff,#773eff,#8a39ff,#9d35ff,#b130ff,#c52cff,#da27ff,#ef23ff,#ff1df9,#ff17e6,#ff11d5,#ff0dc6,#ff09b9,#ff05ad,#ff02a2,#ff0099,#ff0090,#ff0089,#ff0082)"></i><i style="top:334.5px;left:1381px;width:260px;height:2px;background:linear-gradient(90deg,#0063ff,#005fff,#035aff,#1056ff,#1f52ff,#2f4eff,#4049ff,#5145ff,#6340ff,#753cff,#8738ff,#9b33ff,#ae2fff,#c22aff,#d726ff,#ec21ff,#ff1dfd,#ff16e9,#ff11d8,#ff0cc9,#ff08bc,#ff05b0,#ff02a5,#ff009b,#ff0093,#ff008b,#ff0084)"></i><i style="top:336.5px;left:1381px;width:260px;height:2px;background:linear-gradient(90deg,#0061ff,#005dff,#0258ff,#1054ff,#1e50ff,#2e4cff,#3e47ff,#4f43ff,#613fff,#733aff,#8536ff,#9832ff,#ab2dff,#bf29ff,#d324ff,#e820ff,#fd1cff,#ff16ed,#ff10db,#ff0ccc,#ff08be,#ff04b2,#ff01a8,#ff009e,#ff0095,#ff008d,#ff0086)"></i><i style="top:338.5px;left:1381px;width:260px;height:2px;background:linear-gradient(90deg,#005fff,#005bff,#0257ff,#0f52ff,#1e4eff,#2d4aff,#3d46ff,#4e42ff,#5f3dff,#7139ff,#8335ff,#9630ff,#a92cff,#bc28ff,#d023ff,#e41fff,#f91aff,#ff15f1,#ff0fdf,#ff0bcf,#ff07c1,#ff04b5,#ff01aa,#ff00a0,#ff0097,#ff008f,#ff0088)"></i><i style="top:340.5px;left:1381px;width:260px;height:2px;background:linear-gradient(90deg,#005dff,#0059ff,#0255ff,#0f51ff,#1d4cff,#2c48ff,#3c44ff,#4c40ff,#5d3cff,#6f37ff,#8133ff,#932fff,#a62bff,#b926ff,#cd22ff,#e11eff,#f519ff,#ff14f4,#ff0fe2,#ff0ad2,#ff06c4,#ff03b8,#ff00ad,#ff00a3,#ff009a,#ff0091,#ff008a)"></i><i style="top:342.5px;left:1381px;width:250px;height:2px;background:linear-gradient(90deg,#005bff,#0057ff,#0153ff,#0e4fff,#1c4bff,#2b47ff,#3b42ff,#4b3eff,#5c3aff,#6d36ff,#7f32ff,#912dff,#a329ff,#b625ff,#ca21ff,#de1cff,#f218ff,#ff13f8,#ff0ee6,#ff0ad5,#ff06c7,#ff03bb,#ff00af,#ff00a5,#ff009c,#ff0093)"></i><i style="top:344.5px;left:1381px;width:250px;height:2px;background:linear-gradient(90deg,#0059ff,#0055ff,#0151ff,#0d4dff,#1b49ff,#2a45ff,#3a41ff,#4a3dff,#5a39ff,#6b34ff,#7d30ff,#8f2cff,#a128ff,#b424ff,#c71fff,#da1bff,#ee17ff,#ff13fc,#ff0de9,#ff09d9,#ff05ca,#ff02bd,#ff00b2,#ff00a7,#ff009e,#ff0096)"></i><i style="top:346.5px;left:1381px;width:250px;height:2px;background:linear-gradient(90deg,#0057ff,#0053ff,#014fff,#0d4bff,#1b47ff,#2943ff,#393fff,#483bff,#5937ff,#6a33ff,#7b2fff,#8c2bff,#9e27ff,#b122ff,#c41eff,#d71aff,#eb16ff,#ff12ff,#ff0dec,#ff08dc,#ff05cd,#ff02c0,#ff00b4,#ff00aa,#ff00a0,#ff0098)"></i><i style="top:348.5px;left:1381px;width:250px;height:2px;background:linear-gradient(90deg,#0056ff,#0052ff,#004eff,#0c4aff,#1a46ff,#2842ff,#373eff,#473aff,#5736ff,#6832ff,#792eff,#8a29ff,#9c25ff,#ae21ff,#c11dff,#d419ff,#e715ff,#fb11ff,#ff0cf0,#ff08df,#ff04d0,#ff01c3,#ff00b7,#ff00ac,#ff00a3,#ff009a)"></i><i style="top:350.5px;left:1381px;width:250px;height:2px;background:linear-gradient(90deg,#0054ff,#0050ff,#004cff,#0c48ff,#1944ff,#2740ff,#363cff,#4638ff,#5634ff,#6630ff,#772cff,#8828ff,#9a24ff,#ac20ff,#be1cff,#d118ff,#e414ff,#f710ff,#ff0cf3,#ff07e2,#ff04d3,#ff01c6,#ff00ba,#ff00af,#ff00a5,#ff009c)"></i><i style="top:352.5px;left:1381px;width:240px;height:2px;background:linear-gradient(90deg,#0052ff,#004eff,#004aff,#0b47ff,#1943ff,#273fff,#353bff,#4537ff,#5433ff,#642fff,#752bff,#8627ff,#9723ff,#a91fff,#bb1bff,#ce17ff,#e113ff,#f40fff,#ff0bf7,#ff07e5,#ff03d6,#ff00c8,#ff00bc,#ff00b1,#ff00a7)"></i><i style="top:354.5px;left:1381px;width:240px;height:2px;background:linear-gradient(90deg,#0050ff,#004dff,#0049ff,#0b45ff,#1841ff,#263dff,#3439ff,#4336ff,#5332ff,#632eff,#732aff,#8426ff,#9522ff,#a71eff,#b91aff,#cb16ff,#de12ff,#f00eff,#ff0afa,#ff06e9,#ff03d9,#ff00cb,#ff00bf,#ff00b4,#ff00aa)"></i><i style="top:356.5px;left:1381px;width:240px;height:2px;background:linear-gradient(90deg,#004fff,#004bff,#0047ff,#0a44ff,#1740ff,#253cff,#3338ff,#4234ff,#5130ff,#612cff,#7129ff,#8225ff,#9321ff,#a41dff,#b619ff,#c815ff,#da11ff,#ed0dff,#ff0afe,#ff05ec,#ff02dc,#ff00ce,#ff00c2,#ff00b6,#ff00ac)"></i><i style="top:358.5px;left:1381px;width:240px;height:2px;background:linear-gradient(90deg,#004dff,#004aff,#0046ff,#0a42ff,#173eff,#243aff,#3237ff,#4133ff,#502fff,#602bff,#7027ff,#8023ff,#9120ff,#a21cff,#b318ff,#c514ff,#d710ff,#ea0cff,#fd09ff,#ff05ef,#ff02df,#ff00d1,#ff00c4,#ff00b9,#ff00ae)"></i><i style="top:360.5px;left:1381px;width:230px;height:2px;background:linear-gradient(90deg,#004cff,#0048ff,#0044ff,#0941ff,#163dff,#2339ff,#3135ff,#4032ff,#4f2eff,#5e2aff,#6e26ff,#7e22ff,#8f1fff,#a01bff,#b117ff,#c313ff,#d40fff,#e70cff,#f908ff,#ff04f2,#ff01e2,#ff00d4,#ff00c7,#ff00bb)"></i><i style="top:362.5px;left:1381px;width:230px;height:2px;background:linear-gradient(90deg,#004aff,#0047ff,#0043ff,#093fff,#153cff,#2338ff,#3034ff,#3f30ff,#4e2dff,#5d29ff,#6c25ff,#7c21ff,#8d1eff,#9d1aff,#ae16ff,#c012ff,#d20fff,#e40bff,#f607ff,#ff04f6,#ff01e5,#ff00d7,#ff00ca,#ff00be)"></i><i style="top:364.5px;left:1381px;width:230px;height:2px;background:linear-gradient(90deg,#0049ff,#0045ff,#0041ff,#093eff,#153aff,#2236ff,#2f33ff,#3e2fff,#4c2bff,#5b28ff,#6b24ff,#7b20ff,#8b1cff,#9b19ff,#ac15ff,#bd11ff,#cf0eff,#e00aff,#f307ff,#ff03f9,#ff00e8,#ff00da,#ff00cc,#ff00c0)"></i><i style="top:366.5px;left:1391px;width:220px;height:2px;background:linear-gradient(90deg,#0044ff,#0040ff,#083cff,#1439ff,#2135ff,#2f32ff,#3d2eff,#4b2aff,#5a27ff,#6923ff,#791fff,#891bff,#9918ff,#aa14ff,#bb11ff,#cc0dff,#dd09ff,#ef06ff,#ff03fc,#ff00eb,#ff00dc,#ff00cf,#ff00c3)"></i><i style="top:368.5px;left:1391px;width:220px;height:2px;background:linear-gradient(90deg,#0042ff,#003fff,#083bff,#1438ff,#2034ff,#2e30ff,#3c2dff,#4a29ff,#5925ff,#6822ff,#771eff,#871bff,#9717ff,#a713ff,#b810ff,#c90cff,#db09ff,#ec05ff,#fe02ff,#ff00ef,#ff00df,#ff00d2,#ff00c5)"></i><i style="top:370.5px;left:1391px;width:210px;height:2px;background:linear-gradient(90deg,#0041ff,#003dff,#073aff,#1336ff,#2033ff,#2d2fff,#3a2cff,#4928ff,#5724ff,#6621ff,#751dff,#851aff,#9516ff,#a512ff,#b60fff,#c70bff,#d808ff,#e905ff,#fb01ff,#ff00f2,#ff00e2,#ff00d4)"></i><i style="top:372.5px;left:1391px;width:210px;height:2px;background:linear-gradient(90deg,#0040ff,#003cff,#0739ff,#1235ff,#1f32ff,#2c2eff,#392aff,#4727ff,#5623ff,#6520ff,#741cff,#8319ff,#9315ff,#a312ff,#b30eff,#c40bff,#d507ff,#e604ff,#f801ff,#ff00f5,#ff00e5,#ff00d7)"></i><i style="top:374.5px;left:1391px;width:210px;height:2px;background:linear-gradient(90deg,#003eff,#003bff,#0637ff,#1234ff,#1e30ff,#2b2dff,#3929ff,#4626ff,#5522ff,#631fff,#721bff,#8118ff,#9114ff,#a111ff,#b10dff,#c10aff,#d207ff,#e303ff,#f500ff,#ff00f8,#ff00e8,#ff00da)"></i><i style="top:376.5px;left:1391px;width:210px;height:2px;background:linear-gradient(90deg,#003dff,#003aff,#0636ff,#1133ff,#1e2fff,#2a2cff,#3828ff,#4525ff,#5321ff,#621eff,#701aff,#8017ff,#8f13ff,#9f10ff,#af0dff,#bf09ff,#cf06ff,#e003ff,#f100ff,#ff00fb,#ff00eb,#ff00dd)"></i><i style="top:378.5px;left:1391px;width:210px;height:2px;background:linear-gradient(90deg,#003cff,#0038ff,#0635ff,#1132ff,#1d2eff,#2a2bff,#3727ff,#4424ff,#5220ff,#601dff,#6f19ff,#7e16ff,#8d13ff,#9d0fff,#ac0cff,#bc08ff,#cd05ff,#dd02ff,#ee00ff,#ff00fe,#ff00ee,#ff00e0)"></i><i style="top:380.5px;left:1391px;width:200px;height:2px;background:linear-gradient(90deg,#003bff,#0037ff,#0534ff,#1030ff,#1c2dff,#292aff,#3626ff,#4323ff,#511fff,#5f1cff,#6d18ff,#7c15ff,#8b12ff,#9a0eff,#aa0bff,#ba08ff,#ca05ff,#db02ff,#eb00ff,#fc00ff,#ff00f1)"></i><i style="top:382.5px;left:1391px;width:200px;height:2px;background:linear-gradient(90deg,#0039ff,#0036ff,#0533ff,#102fff,#1c2cff,#2829ff,#3525ff,#4222ff,#501eff,#5e1bff,#6c18ff,#7a14ff,#8911ff,#980eff,#a80aff,#b807ff,#c804ff,#d801ff,#e900ff,#f900ff,#ff00f4)"></i><i style="top:384.5px;left:1391px;width:200px;height:2px;background:linear-gradient(90deg,#0038ff,#0035ff,#0531ff,#0f2eff,#1b2bff,#2727ff,#3424ff,#4121ff,#4e1dff,#5c1aff,#6a17ff,#7913ff,#8710ff,#960dff,#a60aff,#b506ff,#c503ff,#d501ff,#e600ff,#f600ff,#ff00f7)"></i><i style="top:386.5px;left:1391px;width:200px;height:2px;background:linear-gradient(90deg,#0037ff,#0034ff,#0430ff,#0f2dff,#1a2aff,#2626ff,#3323ff,#4020ff,#4d1dff,#5b19ff,#6916ff,#7713ff,#860fff,#950cff,#a409ff,#b306ff,#c303ff,#d300ff,#e300ff,#f300ff,#ff00fa)"></i><i style="top:388.5px;left:1391px;width:200px;height:2px;background:linear-gradient(90deg,#0036ff,#0033ff,#042fff,#0e2cff,#1a29ff,#2625ff,#3222ff,#3f1fff,#4c1cff,#5a18ff,#6715ff,#7612ff,#840fff,#930bff,#a208ff,#b105ff,#c002ff,#d000ff,#e000ff,#f000ff,#ff00fd)"></i><i style="top:390.5px;left:1391px;width:190px;height:2px;background:linear-gradient(90deg,#0035ff,#0031ff,#042eff,#0e2bff,#1928ff,#2525ff,#3121ff,#3e1eff,#4b1bff,#5818ff,#6614ff,#7411ff,#820eff,#910bff,#a008ff,#af05ff,#be02ff,#ce00ff,#dd00ff,#ee00ff)"></i><i style="top:392.5px;left:1391px;width:190px;height:2px;background:linear-gradient(90deg,#0034ff,#0030ff,#032dff,#0e2aff,#1927ff,#2424ff,#3020ff,#3d1dff,#4a1aff,#5717ff,#6514ff,#7310ff,#810dff,#8f0aff,#9e07ff,#ad04ff,#bc01ff,#cb00ff,#db00ff,#eb00ff)"></i><i style="top:394.5px;left:1391px;width:190px;height:2px;background:linear-gradient(90deg,#0032ff,#002fff,#032cff,#0d29ff,#1826ff,#2423ff,#301fff,#3c1cff,#4919ff,#5616ff,#6313ff,#7110ff,#7f0dff,#8d09ff,#9c06ff,#aa04ff,#b901ff,#c900ff,#d800ff,#e800ff)"></i><i style="top:396.5px;left:1391px;width:190px;height:2px;background:linear-gradient(90deg,#0031ff,#002eff,#032bff,#0d28ff,#1825ff,#2322ff,#2f1fff,#3b1bff,#4818ff,#5515ff,#6212ff,#700fff,#7d0cff,#8b09ff,#9a06ff,#a803ff,#b700ff,#c600ff,#d600ff,#e500ff)"></i><i style="top:398.5px;left:1391px;width:190px;height:2px;background:linear-gradient(90deg,#0030ff,#002dff,#022aff,#0c27ff,#1724ff,#2221ff,#2e1eff,#3a1bff,#4717ff,#5414ff,#6111ff,#6e0eff,#7c0bff,#8a08ff,#9805ff,#a602ff,#b500ff,#c400ff,#d300ff,#e300ff)"></i><i style="top:400.5px;left:1391px;width:180px;height:2px;background:linear-gradient(90deg,#002fff,#002cff,#0229ff,#0c26ff,#1623ff,#2220ff,#2d1dff,#391aff,#4617ff,#5214ff,#5f11ff,#6d0eff,#7a0bff,#8808ff,#9605ff,#a402ff,#b300ff,#c200ff,#d100ff)"></i><i style="top:402.5px;left:1391px;width:180px;height:2px;background:linear-gradient(90deg,#002eff,#002bff,#0228ff,#0b25ff,#1622ff,#211fff,#2d1cff,#3919ff,#4516ff,#5113ff,#5e10ff,#6b0dff,#790aff,#8607ff,#9404ff,#a202ff,#b100ff,#bf00ff,#ce00ff)"></i><i style="top:404.5px;left:1391px;width:180px;height:2px;background:linear-gradient(90deg,#002dff,#002aff,#0227ff,#0b24ff,#1521ff,#201eff,#2c1bff,#3818ff,#4415ff,#5012ff,#5d0fff,#6a0cff,#7709ff,#8506ff,#9304ff,#a101ff,#af00ff,#bd00ff,#cc00ff)"></i><i style="top:406.5px;left:1391px;width:180px;height:2px;background:linear-gradient(90deg,#002cff,#0029ff,#0126ff,#0b23ff,#1520ff,#201dff,#2b1aff,#3717ff,#4314ff,#4f11ff,#5c0eff,#690cff,#7609ff,#8306ff,#9103ff,#9f01ff,#ad00ff,#bb00ff,#ca00ff)"></i><i style="top:408.5px;left:1391px;width:180px;height:2px;background:linear-gradient(90deg,#002bff,#0028ff,#0126ff,#0a23ff,#1420ff,#1f1dff,#2a1aff,#3617ff,#4214ff,#4e11ff,#5b0eff,#670bff,#7408ff,#8205ff,#8f03ff,#9d00ff,#ab00ff,#b900ff,#c700ff)"></i><i style="top:410.5px;left:1391px;width:170px;height:2px;background:linear-gradient(90deg,#002bff,#0028ff,#0125ff,#0a22ff,#141fff,#1f1cff,#2a19ff,#3516ff,#4113ff,#4d10ff,#590dff,#660aff,#7307ff,#8005ff,#8d02ff,#9b00ff,#a900ff,#b700ff)"></i><i style="top:412.5px;left:1401px;width:160px;height:2px;background:linear-gradient(90deg,#0027ff,#0124ff,#0a21ff,#131eff,#1e1bff,#2918ff,#3415ff,#4012ff,#4c0fff,#580dff,#650aff,#7207ff,#7f04ff,#8c02ff,#9900ff,#a700ff,#b500ff)"></i><i style="top:414.5px;left:1401px;width:160px;height:2px;background:linear-gradient(90deg,#0026ff,#0023ff,#0920ff,#131dff,#1d1aff,#2817ff,#3414ff,#3f12ff,#4b0fff,#570cff,#6409ff,#7006ff,#7d04ff,#8a01ff,#9700ff,#a500ff,#b300ff)"></i><i style="top:416.5px;left:1401px;width:160px;height:2px;background:linear-gradient(90deg,#0025ff,#0022ff,#091fff,#131cff,#1d19ff,#2817ff,#3314ff,#3e11ff,#4a0eff,#560bff,#6209ff,#6f06ff,#7c03ff,#8901ff,#9600ff,#a300ff,#b100ff)"></i><i style="top:418.5px;left:1401px;width:150px;height:2px;background:linear-gradient(90deg,#0024ff,#0021ff,#081eff,#121cff,#1c19ff,#2716ff,#3213ff,#3d10ff,#490dff,#550bff,#6108ff,#6e05ff,#7a03ff,#8700ff,#9400ff,#a100ff)"></i><i style="top:420.5px;left:1401px;width:150px;height:2px;background:linear-gradient(90deg,#0023ff,#0020ff,#081eff,#121bff,#1c18ff,#2615ff,#3112ff,#3d10ff,#480dff,#540aff,#6007ff,#6c05ff,#7902ff,#8500ff,#9200ff,#a000ff)"></i><i style="top:422.5px;left:1401px;width:150px;height:2px;background:linear-gradient(90deg,#0022ff,#0020ff,#081dff,#111aff,#1b17ff,#2614ff,#3112ff,#3c0fff,#470cff,#530aff,#5f07ff,#6b04ff,#7702ff,#8400ff,#9100ff,#9e00ff)"></i><i style="top:424.5px;left:1401px;width:150px;height:2px;background:linear-gradient(90deg,#0022ff,#001fff,#071cff,#1119ff,#1b17ff,#2514ff,#3011ff,#3b0eff,#460cff,#5209ff,#5e06ff,#6a04ff,#7601ff,#8200ff,#8f00ff,#9c00ff)"></i><i style="top:426.5px;left:1401px;width:150px;height:2px;background:linear-gradient(90deg,#0021ff,#001eff,#071bff,#1019ff,#1a16ff,#2513ff,#2f10ff,#3a0eff,#450bff,#5108ff,#5d06ff,#6803ff,#7501ff,#8100ff,#8e00ff,#9a00ff)"></i><i style="top:428.5px;left:1401px;width:140px;height:2px;background:linear-gradient(90deg,#0020ff,#001dff,#071bff,#1018ff,#1a15ff,#2412ff,#2e10ff,#390dff,#440aff,#5008ff,#5b05ff,#6703ff,#7301ff,#8000ff,#8c00ff)"></i><i style="top:430.5px;left:1401px;width:140px;height:2px;background:linear-gradient(90deg,#001fff,#001dff,#071aff,#1017ff,#1914ff,#2312ff,#2e0fff,#380dff,#440aff,#4f07ff,#5a05ff,#6602ff,#7200ff,#7e00ff,#8b00ff)"></i><i style="top:432.5px;left:1401px;width:140px;height:2px;background:linear-gradient(90deg,#001fff,#001cff,#0619ff,#0f17ff,#1914ff,#2311ff,#2d0fff,#380cff,#4309ff,#4e07ff,#5904ff,#6502ff,#7100ff,#7d00ff,#8900ff)"></i><i style="top:434.5px;left:1401px;width:140px;height:2px;background:linear-gradient(90deg,#001eff,#001bff,#0618ff,#0f16ff,#1813ff,#2211ff,#2c0eff,#370bff,#4209ff,#4d06ff,#5804ff,#6402ff,#6f00ff,#7b00ff,#8800ff)"></i><i style="top:436.5px;left:1401px;width:140px;height:2px;background:linear-gradient(90deg,#001dff,#001aff,#0618ff,#0e15ff,#1813ff,#2210ff,#2c0dff,#360bff,#4108ff,#4c06ff,#5703ff,#6301ff,#6e00ff,#7a00ff,#8600ff)"></i><i style="top:438.5px;left:1401px;width:130px;height:2px;background:linear-gradient(90deg,#001cff,#001aff,#0517ff,#0e15ff,#1712ff,#210fff,#2b0dff,#350aff,#4008ff,#4b05ff,#5603ff,#6101ff,#6d00ff,#7900ff)"></i><i style="top:440.5px;left:1401px;width:130px;height:2px;background:linear-gradient(90deg,#001cff,#0019ff,#0516ff,#0e14ff,#1711ff,#200fff,#2a0cff,#350aff,#3f07ff,#4a05ff,#5503ff,#6000ff,#6c00ff,#7700ff)"></i><i style="top:442.5px;left:1401px;width:130px;height:2px;background:linear-gradient(90deg,#001bff,#0018ff,#0516ff,#0d13ff,#1611ff,#200eff,#2a0cff,#3409ff,#3f07ff,#4904ff,#5402ff,#5f00ff,#6b00ff,#7600ff)"></i><i style="top:444.5px;left:1401px;width:130px;height:2px;background:linear-gradient(90deg,#001aff,#0018ff,#0415ff,#0d13ff,#1610ff,#1f0eff,#290bff,#3309ff,#3e06ff,#4804ff,#5302ff,#5e00ff,#6900ff,#7500ff)"></i><i style="top:446.5px;left:1401px;width:130px;height:2px;background:linear-gradient(90deg,#001aff,#0017ff,#0415ff,#0d12ff,#1610ff,#1f0dff,#290bff,#3308ff,#3d06ff,#4704ff,#5201ff,#5d00ff,#6800ff,#7400ff)"></i><i style="top:448.5px;left:1401px;width:120px;height:2px;background:linear-gradient(90deg,#0019ff,#0016ff,#0414ff,#0c11ff,#150fff,#1e0dff,#280aff,#3208ff,#3c05ff,#4703ff,#5101ff,#5c00ff,#6700ff)"></i><i style="top:450.5px;left:1401px;width:120px;height:2px;background:linear-gradient(90deg,#0018ff,#0016ff,#0413ff,#0c11ff,#150eff,#1e0cff,#270aff,#3107ff,#3b05ff,#4603ff,#5001ff,#5b00ff,#6600ff)"></i><i style="top:452.5px;left:1401px;width:120px;height:2px;background:linear-gradient(90deg,#0018ff,#0015ff,#0313ff,#0c10ff,#140eff,#1d0bff,#2709ff,#3107ff,#3b04ff,#4502ff,#4f00ff,#5a00ff,#6500ff)"></i><i style="top:454.5px;left:1401px;width:120px;height:2px;background:linear-gradient(90deg,#0017ff,#0015ff,#0312ff,#0b10ff,#140dff,#1d0bff,#2609ff,#3006ff,#3a04ff,#4402ff,#4e00ff,#5900ff,#6400ff)"></i><i style="top:456.5px;left:1401px;width:120px;height:2px;background:linear-gradient(90deg,#0016ff,#0014ff,#0312ff,#0b0fff,#130dff,#1c0aff,#2608ff,#2f06ff,#3904ff,#4301ff,#4e00ff,#5800ff,#6300ff)"></i><i style="top:458.5px;left:1411px;width:100px;height:2px;background:linear-gradient(90deg,#0013ff,#0311ff,#0b0fff,#130cff,#1c0aff,#2508ff,#2f05ff,#3803ff,#4301ff,#4d00ff,#5700ff)"></i><i style="top:460.5px;left:1411px;width:100px;height:2px;background:linear-gradient(90deg,#0013ff,#0310ff,#0a0eff,#130cff,#1b09ff,#2507ff,#2e05ff,#3803ff,#4201ff,#4c00ff,#5600ff)"></i><i style="top:462.5px;left:1411px;width:100px;height:2px;background:linear-gradient(90deg,#0012ff,#0210ff,#0a0eff,#120bff,#1b09ff,#2407ff,#2d04ff,#3702ff,#4100ff,#4b00ff,#5500ff)"></i><i style="top:464.5px;left:1411px;width:100px;height:2px;background:linear-gradient(90deg,#0012ff,#020fff,#0a0dff,#120bff,#1b08ff,#2406ff,#2d04ff,#3602ff,#4000ff,#4a00ff,#5400ff)"></i><i style="top:466.5px;left:1411px;width:90px;height:2px;background:linear-gradient(90deg,#0011ff,#020fff,#090dff,#110aff,#1a08ff,#2306ff,#2c04ff,#3602ff,#3f00ff,#4900ff)"></i><i style="top:468.5px;left:1411px;width:90px;height:2px;background:linear-gradient(90deg,#0011ff,#020eff,#090cff,#110aff,#1a08ff,#2305ff,#2c03ff,#3501ff,#3f00ff,#4900ff)"></i><i style="top:470.5px;left:1411px;width:90px;height:2px;background:linear-gradient(90deg,#0010ff,#010eff,#090cff,#1109ff,#1907ff,#2205ff,#2b03ff,#3401ff,#3e00ff,#4800ff)"></i><i style="top:472.5px;left:1411px;width:90px;height:2px;background:linear-gradient(90deg,#0010ff,#010dff,#080bff,#1009ff,#1907ff,#2205ff,#2b02ff,#3401ff,#3d00ff,#4700ff)"></i><i style="top:474.5px;left:1411px;width:90px;height:2px;background:linear-gradient(90deg,#000fff,#010dff,#080bff,#1008ff,#1806ff,#2104ff,#2a02ff,#3300ff,#3d00ff,#4600ff)"></i><i style="top:476.5px;left:1411px;width:80px;height:2px;background:linear-gradient(90deg,#000eff,#010cff,#080aff,#1008ff,#1806ff,#2104ff,#2902ff,#3300ff,#3c00ff)"></i><i style="top:478.5px;left:1411px;width:80px;height:2px;background:linear-gradient(90deg,#000eff,#010cff,#080aff,#0f07ff,#1805ff,#2003ff,#2901ff,#3200ff,#3b00ff)"></i><i style="top:480.5px;left:1411px;width:80px;height:2px;background:linear-gradient(90deg,#000dff,#000bff,#0709ff,#0f07ff,#1705ff,#2003ff,#2801ff,#3100ff,#3a00ff)"></i><i style="top:482.5px;left:1411px;width:80px;height:2px;background:linear-gradient(90deg,#000dff,#000bff,#0709ff,#0f07ff,#1705ff,#1f03ff,#2801ff,#3100ff,#3a00ff)"></i><i style="top:484.5px;left:1411px;width:80px;height:2px;background:linear-gradient(90deg,#000dff,#000aff,#0708ff,#0e06ff,#1604ff,#1f02ff,#2700ff,#3000ff,#3900ff)"></i><i style="top:486.5px;left:1411px;width:70px;height:2px;background:linear-gradient(90deg,#000cff,#000aff,#0708ff,#0e06ff,#1604ff,#1e02ff,#2700ff,#3000ff)"></i><i style="top:488.5px;left:1411px;width:70px;height:2px;background:linear-gradient(90deg,#000cff,#0009ff,#0607ff,#0e05ff,#1603ff,#1e02ff,#2600ff,#2f00ff)"></i><i style="top:490.5px;left:1411px;width:70px;height:2px;background:linear-gradient(90deg,#000bff,#0009ff,#0607ff,#0d05ff,#1503ff,#1d01ff,#2600ff,#2e00ff)"></i><i style="top:492.5px;left:1411px;width:70px;height:2px;background:linear-gradient(90deg,#000bff,#0009ff,#0607ff,#0d05ff,#1503ff,#1d01ff,#2500ff,#2e00ff)"></i><i style="top:494.5px;left:1411px;width:70px;height:2px;background:linear-gradient(90deg,#000aff,#0008ff,#0606ff,#0d04ff,#1402ff,#1c01ff,#2500ff,#2d00ff)"></i><i style="top:496.5px;left:1411px;width:60px;height:2px;background:linear-gradient(90deg,#000aff,#0008ff,#0506ff,#0c04ff,#1402ff,#1c00ff,#2400ff)"></i><i style="top:498.5px;left:1411px;width:60px;height:2px;background:linear-gradient(90deg,#0009ff,#0007ff,#0505ff,#0c03ff,#1402ff,#1c00ff,#2400ff)"></i><i style="top:500.5px;left:1411px;width:60px;height:2px;background:linear-gradient(90deg,#0009ff,#0007ff,#0505ff,#0c03ff,#1301ff,#1b00ff,#2300ff)"></i><i style="top:502.5px;left:1411px;width:60px;height:2px;background:linear-gradient(90deg,#0009ff,#0007ff,#0505ff,#0c03ff,#1301ff,#1b00ff,#2300ff)"></i><i style="top:504.5px;left:1421px;width:50px;height:2px;background:linear-gradient(90deg,#0006ff,#0404ff,#0b02ff,#1301ff,#1a00ff,#2200ff)"></i><i style="top:506.5px;left:1421px;width:40px;height:2px;background:linear-gradient(90deg,#0006ff,#0404ff,#0b02ff,#1200ff,#1a00ff)"></i><i style="top:508.5px;left:1421px;width:40px;height:2px;background:linear-gradient(90deg,#0005ff,#0404ff,#0b02ff,#1200ff,#1a00ff)"></i><i style="top:510.5px;left:1421px;width:40px;height:2px;background:linear-gradient(90deg,#0005ff,#0403ff,#0a01ff,#1200ff,#1900ff)"></i><i style="top:512.5px;left:1421px;width:40px;height:2px;background:linear-gradient(90deg,#0005ff,#0403ff,#0a01ff,#1100ff,#1900ff)"></i><i style="top:514.5px;left:1421px;width:30px;height:2px;background:linear-gradient(90deg,#0004ff,#0303ff,#0a01ff,#1100ff)"></i><i style="top:516.5px;left:1421px;width:30px;height:2px;background:linear-gradient(90deg,#0004ff,#0302ff,#0a01ff,#1100ff)"></i><i style="top:518.5px;left:1421px;width:30px;height:2px;background:linear-gradient(90deg,#0004ff,#0302ff,#0900ff,#1000ff)"></i><i style="top:520.5px;left:1421px;width:30px;height:2px;background:linear-gradient(90deg,#0003ff,#0302ff,#0900ff,#1000ff)"></i><i style="top:522.5px;left:1421px;width:30px;height:2px;background:linear-gradient(90deg,#0003ff,#0301ff,#0900ff,#1000ff)"></i><i style="top:524.5px;left:1421px;width:20px;height:2px;background:linear-gradient(90deg,#0003ff,#0201ff,#0900ff)"></i><i style="top:526.5px;left:1421px;width:20px;height:2px;background:linear-gradient(90deg,#0002ff,#0201ff,#0800ff)"></i><i style="top:528.5px;left:1421px;width:20px;height:2px;background:linear-gradient(90deg,#0002ff,#0200ff,#0800ff)"></i><i style="top:530.5px;left:1421px;width:20px;height:2px;background:linear-gradient(90deg,#0002ff,#0200ff,#0800ff)"></i><i style="top:532.5px;left:1421px;width:20px;height:2px;background:linear-gradient(90deg,#0001ff,#0200ff,#0800ff)"></i><i style="top:534.5px;left:1421px;width:10px;height:2px;background:linear-gradient(90deg,#0001ff,#0100ff)"></i></div></div>
<svg width="1920" height="1058" viewBox="0 0 1920 1058">
<g fill="none" stroke="#fff" stroke-width="1.8"><rect x="1410.85" y="201.5" width="14.5" height="15"/><rect x="1383.25" y="176" width="14.5" height="15"/><rect x="1363.45" y="157.1" width="14.5" height="15"/><rect x="1347.35" y="142.9" width="14.5" height="15"/><rect x="1334.05" y="130.1" width="14.5" height="15"/><rect x="1448.15" y="208.9" width="14.5" height="15"/><rect x="1449.75" y="189.6" width="14.5" height="15"/><rect x="1451.15" y="172.6" width="14.5" height="15"/><rect x="1452.85" y="157" width="14.5" height="15"/><rect x="1454.15" y="142.9" width="14.5" height="15"/><rect x="1426.35" y="237.3" width="14.5" height="15"/><rect x="1407.65" y="240.4" width="14.5" height="15"/><rect x="1391.55" y="241.9" width="14.5" height="15"/><rect x="1374.85" y="244.7" width="14.5" height="15"/><rect x="1358.65" y="249.1" width="14.5" height="15"/><rect x="1508.95" y="223.2" width="14.5" height="15"/><rect x="1573.95" y="213.2" width="14.5" height="15"/><rect x="1647.65" y="201.3" width="14.5" height="15"/><rect x="1713.45" y="190" width="14.5" height="15"/><rect x="1783.45" y="178.8" width="14.5" height="15"/><rect x="1466.95" y="253.1" width="14.5" height="15"/><rect x="1491.65" y="276.5" width="14.5" height="15"/><rect x="1520.05" y="302.1" width="14.5" height="15"/><rect x="1552.35" y="333.5" width="14.5" height="15"/><rect x="1589.75" y="366.7" width="14.5" height="15"/><rect x="1442.25" y="270.7" width="14.5" height="15"/><rect x="1438.45" y="317.6" width="14.5" height="15"/><rect x="1433.75" y="372.3" width="14.5" height="15"/><rect x="1427.75" y="443.8" width="14.5" height="15"/><rect x="1420.95" y="528.6" width="14.5" height="15"/></g><g stroke="#060606" stroke-width="1.55"><circle cx="1429.4" cy="216.5" r="4.25" fill="#98be98"/><circle cx="1412.1" cy="196.2" r="4.25" fill="#80be80"/><circle cx="1395.1" cy="179" r="4.25" fill="#69be69"/><circle cx="1381.8" cy="164.6" r="4.25" fill="#4bbe4b"/><circle cx="1368.8" cy="150.4" r="4.25" fill="#00be00"/><circle cx="1452.9" cy="221.3" r="4.25" fill="#c4c498"/><circle cx="1455.5" cy="204.2" r="4.25" fill="#c4c480"/><circle cx="1455.5" cy="188.4" r="4.25" fill="#c4c469"/><circle cx="1457" cy="174.2" r="4.25" fill="#c4c44b"/><circle cx="1458.6" cy="159.9" r="4.25" fill="#c4c400"/><circle cx="1436.8" cy="243.4" r="4.25" fill="#98bebe"/><circle cx="1425.2" cy="244.8" r="4.25" fill="#80bebe"/><circle cx="1412.2" cy="246.4" r="4.25" fill="#69bebe"/><circle cx="1397.6" cy="249.3" r="4.25" fill="#4bbebe"/><circle cx="1383.2" cy="250.7" r="4.25" fill="#00bebe"/><circle cx="1500.3" cy="232.2" r="4.25" fill="#be9898"/><circle cx="1562.2" cy="221.4" r="4.25" fill="#be8080"/><circle cx="1621.6" cy="210.5" r="4.25" fill="#be6969"/><circle cx="1683.7" cy="200.3" r="4.25" fill="#be4b4b"/><circle cx="1757.3" cy="188.3" r="4.25" fill="#be0000"/><circle cx="1468.5" cy="259.2" r="4.25" fill="#be98be"/><circle cx="1487.2" cy="281" r="4.25" fill="#be80be"/><circle cx="1511.7" cy="305.1" r="4.25" fill="#be69be"/><circle cx="1542" cy="338.1" r="4.25" fill="#be4bbe"/><circle cx="1578.3" cy="375.4" r="4.25" fill="#be00be"/><circle cx="1448.3" cy="275.1" r="4.25" fill="#9898be"/><circle cx="1445.3" cy="317.3" r="4.25" fill="#8080be"/><circle cx="1437.9" cy="373.9" r="4.25" fill="#6969be"/><circle cx="1432.5" cy="444.8" r="4.25" fill="#4b4bbe"/><circle cx="1422.3" cy="547.5" r="4.25" fill="#0000be"/></g><rect x="1444.9" y="234.6" width="14.8" height="14.8" fill="none" stroke="#0a0a0a" stroke-width="2.2"/><circle cx="1451.4" cy="241.7" r="4.4" fill="#fff" stroke="#222" stroke-width="1.2"/><circle cx="1638.9" cy="243.2" r="5.2" fill="#000"/>
</svg>
<div class="cw" style="left:1675px;top:509px;width:229px;height:171px;background:#232323"></div><div class="cw" style="left:1679px;top:513px;width:221.3px;height:163px"><div class="cl" style="left:-1679px;top:-513px;clip-path:path('M1038.53 3.46L1064.7 19.13L1090.81 35.08L1116.86 51.3L1142.84 67.76L1168.77 84.44L1194.64 101.34L1220.47 118.45L1246.27 135.75L1272.05 153.22L1297.82 170.86L1323.6 188.66L1349.37 206.6L1375.13 224.67L1400.88 242.86L1426.63 261.16L1452.38 279.57L1478.14 298.07L1503.89 316.66L1529.63 335.3L1555.36 354L1581.08 372.76L1606.78 391.54L1632.46 410.36L1658.1 429.19L1683.71 448.05L1709.28 466.91L1734.81 485.77L1760.26 504.61L1785.65 523.43L1810.96 542.22L1836.18 560.97L1861.31 579.68L1886.33 598.32L1911.22 616.88L1935.99 635.37L1960.62 653.76L1985.09 672.04L2009.39 690.2L2033.5 708.22L2057.42 726.09L2081.14 743.8L2104.66 761.34L2127.94 778.71L2150.99 795.9L2173.77 812.88L2196.26 829.64L2218.45 846.17L2240.34 862.47L2261.91 878.55L2283.14 894.39L2304.04 910.01L2324.56 925.36L2344.64 940.39L2364.21 955.04L2383.21 969.25L2401.59 982.98L2419.39 996.27L2436.68 1009.17L2453.54 1021.74L2470.03 1034.04L2470.03 1176L1179 1176L1179 3.46Z')"><i style="top:513px;left:1679px;width:104px;height:3px;background:linear-gradient(90deg,#609900,#649900,#689900,#6c9900,#709900,#749900,#799900,#7d9900,#819900)"></i><i style="top:516px;left:1679px;width:104px;height:3px;background:linear-gradient(90deg,#619900,#659900,#699900,#6d9900,#719900,#759900,#799900,#7e9900,#829900)"></i><i style="top:519px;left:1679px;width:117px;height:3px;background:linear-gradient(90deg,#629900,#669900,#6a9900,#6e9900,#729900,#769900,#7a9900,#7e9900,#839900,#879900)"></i><i style="top:522px;left:1679px;width:117px;height:3px;background:linear-gradient(90deg,#629900,#669900,#6a9900,#6e9900,#729900,#779900,#7b9900,#7f9900,#839900,#889900)"></i><i style="top:525px;left:1679px;width:117px;height:3px;background:linear-gradient(90deg,#639900,#679900,#6b9900,#6f9900,#739900,#779900,#7c9900,#809900,#849900,#899900)"></i><i style="top:528px;left:1679px;width:117px;height:3px;background:linear-gradient(90deg,#649900,#689900,#6c9900,#709900,#749900,#789900,#7c9900,#819900,#859900,#899900)"></i><i style="top:531px;left:1679px;width:130px;height:3px;background:linear-gradient(90deg,#649900,#689900,#6c9900,#709900,#759900,#799900,#7d9900,#819900,#869900,#8a9900,#8f9900)"></i><i style="top:534px;left:1679px;width:130px;height:3px;background:linear-gradient(90deg,#659900,#699900,#6d9900,#719900,#759900,#799900,#7e9900,#829900,#879900,#8b9900,#909900)"></i><i style="top:537px;left:1679px;width:130px;height:3px;background:linear-gradient(90deg,#659900,#699900,#6e9900,#729900,#769900,#7a9900,#7f9900,#839900,#879900,#8c9900,#919900)"></i><i style="top:540px;left:1679px;width:143px;height:3px;background:linear-gradient(90deg,#669900,#6a9900,#6e9900,#729900,#779900,#7b9900,#7f9900,#849900,#889900,#8d9900,#919900,#969900)"></i><i style="top:543px;left:1679px;width:143px;height:3px;background:linear-gradient(90deg,#679900,#6b9900,#6f9900,#739900,#779900,#7c9900,#809900,#849900,#899900,#8e9900,#929900,#979900)"></i><i style="top:546px;left:1679px;width:143px;height:3px;background:linear-gradient(90deg,#679900,#6b9900,#709900,#749900,#789900,#7c9900,#819900,#859900,#8a9900,#8e9900,#939900,#989900)"></i><i style="top:549px;left:1679px;width:156px;height:3px;background:linear-gradient(90deg,#689900,#6c9900,#709900,#759900,#799900,#7d9900,#829900,#869900,#8b9900,#8f9900,#949900,#999900,#999500)"></i><i style="top:552px;left:1679px;width:156px;height:3px;background:linear-gradient(90deg,#699900,#6d9900,#719900,#759900,#7a9900,#7e9900,#829900,#879900,#8b9900,#909900,#959900,#999800,#999400)"></i><i style="top:555px;left:1679px;width:156px;height:3px;background:linear-gradient(90deg,#699900,#6e9900,#729900,#769900,#7a9900,#7f9900,#839900,#889900,#8c9900,#919900,#969900,#999800,#999300)"></i><i style="top:558px;left:1679px;width:169px;height:3px;background:linear-gradient(90deg,#6a9900,#6e9900,#729900,#779900,#7b9900,#7f9900,#849900,#889900,#8d9900,#929900,#979900,#999700,#999200,#998e00)"></i><i style="top:561px;left:1679px;width:169px;height:3px;background:linear-gradient(90deg,#6b9900,#6f9900,#739900,#779900,#7c9900,#809900,#859900,#899900,#8e9900,#939900,#979900,#999600,#999100,#998d00)"></i><i style="top:564px;left:1679px;width:169px;height:3px;background:linear-gradient(90deg,#6b9900,#709900,#749900,#789900,#7d9900,#819900,#869900,#8a9900,#8f9900,#949900,#989900,#999500,#999000,#998c00)"></i><i style="top:567px;left:1679px;width:182px;height:3px;background:linear-gradient(90deg,#6c9900,#709900,#759900,#799900,#7d9900,#829900,#869900,#8b9900,#909900,#949900,#999900,#999400,#998f00,#998b00,#998700)"></i><i style="top:570px;left:1679px;width:182px;height:3px;background:linear-gradient(90deg,#6d9900,#719900,#759900,#7a9900,#7e9900,#839900,#879900,#8c9900,#919900,#959900,#999800,#999300,#998f00,#998a00,#998600)"></i><i style="top:573px;left:1679px;width:182px;height:3px;background:linear-gradient(90deg,#6d9900,#729900,#769900,#7a9900,#7f9900,#839900,#889900,#8d9900,#919900,#969900,#999700,#999200,#998e00,#998a00,#998500)"></i><i style="top:576px;left:1679px;width:182px;height:3px;background:linear-gradient(90deg,#6e9900,#729900,#779900,#7b9900,#809900,#849900,#899900,#8e9900,#929900,#979900,#999600,#999100,#998d00,#998900,#998500)"></i><i style="top:579px;left:1679px;width:195px;height:3px;background:linear-gradient(90deg,#6f9900,#739900,#789900,#7c9900,#809900,#859900,#8a9900,#8e9900,#939900,#989900,#999500,#999100,#998c00,#998800,#998400,#998000)"></i><i style="top:582px;left:1679px;width:195px;height:3px;background:linear-gradient(90deg,#709900,#749900,#789900,#7d9900,#819900,#869900,#8a9900,#8f9900,#949900,#999900,#999400,#999000,#998b00,#998700,#998300,#997f00)"></i><i style="top:585px;left:1679px;width:195px;height:3px;background:linear-gradient(90deg,#709900,#759900,#799900,#7d9900,#829900,#879900,#8b9900,#909900,#959900,#999800,#999300,#998f00,#998a00,#998600,#998200,#997f00)"></i><i style="top:588px;left:1679px;width:208px;height:3px;background:linear-gradient(90deg,#719900,#759900,#7a9900,#7e9900,#839900,#879900,#8c9900,#919900,#969900,#999700,#999300,#998e00,#998a00,#998600,#998200,#997e00,#997a00)"></i><i style="top:591px;left:1679px;width:208px;height:3px;background:linear-gradient(90deg,#729900,#769900,#7b9900,#7f9900,#849900,#889900,#8d9900,#929900,#979900,#999600,#999200,#998d00,#998900,#998500,#998100,#997d00,#997a00)"></i><i style="top:594px;left:1679px;width:208px;height:3px;background:linear-gradient(90deg,#729900,#779900,#7b9900,#809900,#849900,#899900,#8e9900,#939900,#989900,#999500,#999100,#998c00,#998800,#998400,#998000,#997c00,#997900)"></i><i style="top:597px;left:1679px;width:221px;height:3px;background:linear-gradient(90deg,#739900,#789900,#7c9900,#819900,#859900,#8a9900,#8f9900,#949900,#999900,#999500,#999000,#998b00,#998700,#998300,#997f00,#997c00,#997800,#997500)"></i><i style="top:600px;left:1679px;width:221px;height:3px;background:linear-gradient(90deg,#749900,#789900,#7d9900,#819900,#869900,#8b9900,#909900,#959900,#999800,#999400,#998f00,#998b00,#998600,#998200,#997f00,#997b00,#997700,#997400)"></i><i style="top:603px;left:1679px;width:221px;height:3px;background:linear-gradient(90deg,#759900,#799900,#7e9900,#829900,#879900,#8c9900,#919900,#959900,#999800,#999300,#998e00,#998a00,#998600,#998200,#997e00,#997a00,#997700,#997300)"></i><i style="top:606px;left:1679px;width:234px;height:3px;background:linear-gradient(90deg,#759900,#7a9900,#7e9900,#839900,#889900,#8d9900,#919900,#969900,#999700,#999200,#998d00,#998900,#998500,#998100,#997d00,#997900,#997600,#997300,#996f00)"></i><i style="top:609px;left:1679px;width:234px;height:3px;background:linear-gradient(90deg,#769900,#7b9900,#7f9900,#849900,#899900,#8d9900,#929900,#979900,#999600,#999100,#998c00,#998800,#998400,#998000,#997c00,#997900,#997500,#997200,#996f00)"></i><i style="top:612px;left:1679px;width:234px;height:3px;background:linear-gradient(90deg,#779900,#7b9900,#809900,#859900,#8a9900,#8e9900,#939900,#989900,#999500,#999000,#998c00,#998700,#998300,#997f00,#997c00,#997800,#997500,#997100,#996e00)"></i><i style="top:615px;left:1679px;width:234px;height:3px;background:linear-gradient(90deg,#789900,#7c9900,#819900,#869900,#8a9900,#8f9900,#949900,#999900,#999400,#998f00,#998b00,#998700,#998200,#997f00,#997b00,#997700,#997400,#997100,#996d00)"></i><i style="top:618px;left:1679px;width:234px;height:3px;background:linear-gradient(90deg,#789900,#7d9900,#829900,#869900,#8b9900,#909900,#959900,#999800,#999300,#998e00,#998a00,#998600,#998200,#997e00,#997a00,#997700,#997300,#997000,#996d00)"></i><i style="top:621px;left:1679px;width:234px;height:3px;background:linear-gradient(90deg,#799900,#7e9900,#839900,#879900,#8c9900,#919900,#969900,#999700,#999200,#998d00,#998900,#998500,#998100,#997d00,#997900,#997600,#997200,#996f00,#996c00)"></i><i style="top:624px;left:1679px;width:234px;height:3px;background:linear-gradient(90deg,#7a9900,#7f9900,#839900,#889900,#8d9900,#929900,#979900,#999600,#999100,#998d00,#998800,#998400,#998000,#997c00,#997900,#997500,#997200,#996f00,#996b00)"></i><i style="top:627px;left:1679px;width:234px;height:3px;background:linear-gradient(90deg,#7b9900,#7f9900,#849900,#899900,#8e9900,#939900,#989900,#999500,#999000,#998c00,#998700,#998300,#997f00,#997c00,#997800,#997400,#997100,#996e00,#996b00)"></i><i style="top:630px;left:1679px;width:234px;height:3px;background:linear-gradient(90deg,#7c9900,#809900,#859900,#8a9900,#8f9900,#949900,#999900,#999400,#998f00,#998b00,#998700,#998200,#997f00,#997b00,#997700,#997400,#997000,#996d00,#996a00)"></i><i style="top:633px;left:1679px;width:234px;height:3px;background:linear-gradient(90deg,#7c9900,#819900,#869900,#8b9900,#909900,#959900,#999800,#999300,#998f00,#998a00,#998600,#998200,#997e00,#997a00,#997600,#997300,#997000,#996d00,#996a00)"></i><i style="top:636px;left:1679px;width:234px;height:3px;background:linear-gradient(90deg,#7d9900,#829900,#879900,#8c9900,#919900,#969900,#999700,#999200,#998e00,#998900,#998500,#998100,#997d00,#997900,#997600,#997200,#996f00,#996c00,#996900)"></i><i style="top:639px;left:1679px;width:234px;height:3px;background:linear-gradient(90deg,#7e9900,#839900,#889900,#8c9900,#919900,#979900,#999600,#999100,#998d00,#998800,#998400,#998000,#997c00,#997900,#997500,#997200,#996e00,#996b00,#996800)"></i><i style="top:642px;left:1679px;width:234px;height:3px;background:linear-gradient(90deg,#7f9900,#849900,#889900,#8d9900,#929900,#989900,#999500,#999100,#998c00,#998800,#998300,#997f00,#997b00,#997800,#997400,#997100,#996e00,#996b00,#996800)"></i><i style="top:645px;left:1679px;width:234px;height:3px;background:linear-gradient(90deg,#809900,#849900,#899900,#8e9900,#939900,#989900,#999400,#999000,#998b00,#998700,#998300,#997f00,#997b00,#997700,#997400,#997000,#996d00,#996a00,#996700)"></i><i style="top:648px;left:1679px;width:234px;height:3px;background:linear-gradient(90deg,#809900,#859900,#8a9900,#8f9900,#949900,#999900,#999400,#998f00,#998a00,#998600,#998200,#997e00,#997a00,#997600,#997300,#997000,#996c00,#996900,#996600)"></i><i style="top:651px;left:1679px;width:234px;height:3px;background:linear-gradient(90deg,#819900,#869900,#8b9900,#909900,#959900,#999800,#999300,#998e00,#998900,#998500,#998100,#997d00,#997900,#997600,#997200,#996f00,#996c00,#996900,#996600)"></i><i style="top:654px;left:1679px;width:234px;height:3px;background:linear-gradient(90deg,#829900,#879900,#8c9900,#919900,#969900,#999700,#999200,#998d00,#998800,#998400,#998000,#997c00,#997800,#997500,#997100,#996e00,#996b00,#996800,#996500)"></i><i style="top:657px;left:1679px;width:234px;height:3px;background:linear-gradient(90deg,#839901,#889900,#8d9900,#929900,#979900,#999600,#999100,#998c00,#998800,#998300,#997f00,#997b00,#997800,#997400,#997100,#996e00,#996a00,#996700,#996500)"></i><i style="top:660px;left:1679px;width:234px;height:3px;background:linear-gradient(90deg,#849901,#899900,#8e9900,#939900,#989900,#999500,#999000,#998b00,#998700,#998300,#997f00,#997b00,#997700,#997300,#997000,#996d00,#996a00,#996700,#996400)"></i><i style="top:663px;left:1679px;width:234px;height:3px;background:linear-gradient(90deg,#859901,#8a9900,#8f9900,#949900,#999900,#999400,#998f00,#998a00,#998600,#998200,#997e00,#997a00,#997600,#997300,#996f00,#996c00,#996900,#996600,#996300)"></i><i style="top:666px;left:1679px;width:234px;height:3px;background:linear-gradient(90deg,#869901,#8b9901,#909900,#959900,#999800,#999300,#998e00,#998900,#998500,#998100,#997d00,#997900,#997600,#997200,#996f00,#996b00,#996800,#996500,#996300)"></i><i style="top:669px;left:1679px;width:234px;height:3px;background:linear-gradient(90deg,#869902,#8b9901,#919900,#969900,#999700,#999200,#998d00,#998900,#998400,#998000,#997c00,#997800,#997500,#997100,#996e00,#996b00,#996800,#996500,#996200)"></i><i style="top:672px;left:1679px;width:234px;height:3px;background:linear-gradient(90deg,#879902,#8c9901,#929901,#979900,#999600,#999100,#998c00,#998800,#998300,#997f00,#997b00,#997800,#997400,#997100,#996d00,#996a00,#996700,#996400,#996100)"></i><i style="top:675px;left:1679px;width:234px;height:1px;background:linear-gradient(90deg,#889902,#8d9901,#929901,#979900,#999500,#999000,#998c00,#998700,#998300,#997f00,#997b00,#997700,#997400,#997000,#996d00,#996a00,#996700,#996400,#996100)"></i></div><div class="cl" style="left:-1679px;top:-513px;clip-path:path('M1659 506.45L1920.3 681.02L1920.3 726L1659 726Z')"><i style="top:519px;left:1679px;width:13px;height:3px;background:linear-gradient(90deg,#a3ff00,#a9ff00)"></i><i style="top:522px;left:1679px;width:13px;height:3px;background:linear-gradient(90deg,#a4ff00,#aaff00)"></i><i style="top:525px;left:1679px;width:13px;height:3px;background:linear-gradient(90deg,#a5ff00,#abff00)"></i><i style="top:528px;left:1679px;width:26px;height:3px;background:linear-gradient(90deg,#a6ff00,#adff00,#b3ff00)"></i><i style="top:531px;left:1679px;width:26px;height:3px;background:linear-gradient(90deg,#a7ff00,#aeff00,#b4ff00)"></i><i style="top:534px;left:1679px;width:26px;height:3px;background:linear-gradient(90deg,#a8ff00,#afff00,#b5ff00)"></i><i style="top:537px;left:1679px;width:39px;height:3px;background:linear-gradient(90deg,#a9ff00,#b0ff00,#b7ff00,#beff00)"></i><i style="top:540px;left:1679px;width:39px;height:3px;background:linear-gradient(90deg,#aaff00,#b1ff00,#b8ff00,#bfff00)"></i><i style="top:543px;left:1679px;width:52px;height:3px;background:linear-gradient(90deg,#abff00,#b2ff00,#b9ff00,#c0ff00,#c7ff00)"></i><i style="top:546px;left:1679px;width:52px;height:3px;background:linear-gradient(90deg,#acff00,#b3ff00,#baff00,#c1ff00,#c8ff00)"></i><i style="top:549px;left:1679px;width:52px;height:3px;background:linear-gradient(90deg,#adff00,#b4ff00,#bbff00,#c2ff00,#c9ff00)"></i><i style="top:552px;left:1679px;width:65px;height:3px;background:linear-gradient(90deg,#afff00,#b5ff00,#bcff00,#c3ff00,#cbff00,#d2ff00)"></i><i style="top:555px;left:1679px;width:65px;height:3px;background:linear-gradient(90deg,#b0ff00,#b7ff00,#beff00,#c5ff00,#ccff00,#d3ff00)"></i><i style="top:558px;left:1679px;width:65px;height:3px;background:linear-gradient(90deg,#b1ff00,#b8ff00,#bfff00,#c6ff00,#cdff00,#d4ff00)"></i><i style="top:561px;left:1679px;width:78px;height:3px;background:linear-gradient(90deg,#b2ff00,#b9ff00,#c0ff00,#c7ff00,#ceff00,#d6ff00,#ddff00)"></i><i style="top:564px;left:1679px;width:78px;height:3px;background:linear-gradient(90deg,#b3ff00,#baff00,#c1ff00,#c8ff00,#d0ff00,#d7ff00,#dfff00)"></i><i style="top:567px;left:1679px;width:78px;height:3px;background:linear-gradient(90deg,#b4ff00,#bbff00,#c2ff00,#caff00,#d1ff00,#d8ff00,#e0ff00)"></i><i style="top:570px;left:1679px;width:91px;height:3px;background:linear-gradient(90deg,#b5ff00,#bcff00,#c4ff00,#cbff00,#d2ff00,#daff00,#e1ff00,#e9ff00)"></i><i style="top:573px;left:1679px;width:91px;height:3px;background:linear-gradient(90deg,#b6ff00,#beff00,#c5ff00,#ccff00,#d3ff00,#dbff00,#e3ff00,#eaff00)"></i><i style="top:576px;left:1679px;width:91px;height:3px;background:linear-gradient(90deg,#b8ff00,#bfff00,#c6ff00,#cdff00,#d5ff00,#dcff00,#e4ff00,#ecff00)"></i><i style="top:579px;left:1679px;width:104px;height:3px;background:linear-gradient(90deg,#b9ff00,#c0ff00,#c7ff00,#cfff00,#d6ff00,#deff00,#e5ff00,#edff00,#f5ff00)"></i><i style="top:582px;left:1679px;width:104px;height:3px;background:linear-gradient(90deg,#baff00,#c1ff00,#c8ff00,#d0ff00,#d7ff00,#dfff00,#e7ff00,#efff00,#f7ff00)"></i><i style="top:585px;left:1679px;width:104px;height:3px;background:linear-gradient(90deg,#bbff00,#c2ff00,#caff00,#d1ff00,#d9ff00,#e0ff00,#e8ff00,#f0ff00,#f8ff00)"></i><i style="top:588px;left:1679px;width:117px;height:3px;background:linear-gradient(90deg,#bcff00,#c4ff00,#cbff00,#d2ff00,#daff00,#e2ff00,#eaff00,#f2ff00,#faff00,#fffc00)"></i><i style="top:591px;left:1679px;width:117px;height:3px;background:linear-gradient(90deg,#beff00,#c5ff00,#ccff00,#d4ff00,#dbff00,#e3ff00,#ebff00,#f3ff00,#fbff00,#fffb00)"></i><i style="top:594px;left:1679px;width:117px;height:3px;background:linear-gradient(90deg,#bfff00,#c6ff00,#ceff00,#d5ff00,#ddff00,#e5ff00,#edff00,#f5ff00,#fdff00,#fff900)"></i><i style="top:597px;left:1679px;width:130px;height:3px;background:linear-gradient(90deg,#c0ff00,#c7ff00,#cfff00,#d6ff00,#deff00,#e6ff00,#eeff00,#f6ff00,#feff00,#fff800,#fff000)"></i><i style="top:600px;left:1679px;width:130px;height:3px;background:linear-gradient(90deg,#c1ff00,#c9ff00,#d0ff00,#d8ff00,#e0ff00,#e7ff00,#efff00,#f8ff00,#fffe00,#fff600,#ffee00)"></i><i style="top:603px;left:1679px;width:130px;height:3px;background:linear-gradient(90deg,#c2ff00,#caff00,#d1ff00,#d9ff00,#e1ff00,#e9ff00,#f1ff00,#f9ff00,#fffd00,#fff500,#ffed00)"></i><i style="top:606px;left:1679px;width:143px;height:3px;background:linear-gradient(90deg,#c4ff00,#cbff00,#d3ff00,#daff00,#e2ff00,#eaff00,#f2ff00,#fbff00,#fffb00,#fff300,#ffec00,#ffe400)"></i><i style="top:609px;left:1679px;width:143px;height:3px;background:linear-gradient(90deg,#c5ff00,#ccff00,#d4ff00,#dcff00,#e4ff00,#ecff00,#f4ff00,#fcff00,#fffa00,#fff200,#ffea00,#ffe300)"></i><i style="top:612px;left:1679px;width:143px;height:3px;background:linear-gradient(90deg,#c6ff00,#ceff00,#d5ff00,#ddff00,#e5ff00,#edff00,#f5ff00,#feff00,#fff800,#fff000,#ffe900,#ffe200)"></i><i style="top:615px;left:1679px;width:156px;height:3px;background:linear-gradient(90deg,#c7ff00,#cfff00,#d7ff00,#dfff00,#e7ff00,#efff00,#f7ff00,#ffff00,#fff700,#ffef00,#ffe700,#ffe000,#ffd900)"></i><i style="top:618px;left:1679px;width:156px;height:3px;background:linear-gradient(90deg,#c9ff00,#d0ff00,#d8ff00,#e0ff00,#e8ff00,#f0ff00,#f8ff00,#fffd00,#fff500,#ffed00,#ffe600,#ffdf00,#ffd800)"></i><i style="top:621px;left:1679px;width:156px;height:3px;background:linear-gradient(90deg,#caff00,#d2ff00,#daff00,#e1ff00,#eaff00,#f2ff00,#faff00,#fffc00,#fff400,#ffec00,#ffe400,#ffdd00,#ffd700)"></i><i style="top:624px;left:1679px;width:169px;height:3px;background:linear-gradient(90deg,#cbff00,#d3ff00,#dbff00,#e3ff00,#ebff00,#f3ff00,#fcff00,#fffa00,#fff200,#ffea00,#ffe300,#ffdc00,#ffd500,#ffcf00)"></i><i style="top:627px;left:1679px;width:169px;height:3px;background:linear-gradient(90deg,#cdff00,#d4ff00,#dcff00,#e4ff00,#ecff00,#f5ff00,#fdff00,#fff900,#fff100,#ffe900,#ffe200,#ffdb00,#ffd400,#ffce00)"></i><i style="top:630px;left:1679px;width:182px;height:3px;background:linear-gradient(90deg,#ceff00,#d6ff00,#deff00,#e6ff00,#eeff00,#f6ff00,#ffff00,#fff700,#ffef00,#ffe800,#ffe000,#ffd900,#ffd300,#ffcd00,#ffc700)"></i><i style="top:633px;left:1679px;width:182px;height:3px;background:linear-gradient(90deg,#cfff00,#d7ff00,#dfff00,#e7ff00,#efff00,#f8ff00,#fffe00,#fff500,#ffee00,#ffe600,#ffdf00,#ffd800,#ffd200,#ffcb00,#ffc500)"></i><i style="top:636px;left:1679px;width:182px;height:3px;background:linear-gradient(90deg,#d1ff00,#d9ff00,#e1ff00,#e9ff00,#f1ff00,#f9ff00,#fffc00,#fff400,#ffec00,#ffe500,#ffde00,#ffd700,#ffd000,#ffca00,#ffc400)"></i><i style="top:639px;left:1679px;width:195px;height:3px;background:linear-gradient(90deg,#d2ff00,#daff00,#e2ff00,#eaff00,#f2ff00,#fbff00,#fffb00,#fff200,#ffeb00,#ffe300,#ffdc00,#ffd600,#ffcf00,#ffc900,#ffc300,#ffbd00)"></i><i style="top:642px;left:1679px;width:195px;height:3px;background:linear-gradient(90deg,#d3ff00,#dbff00,#e3ff00,#ecff00,#f4ff00,#fdff00,#fff900,#fff100,#ffe900,#ffe200,#ffdb00,#ffd400,#ffce00,#ffc800,#ffc200,#ffbc00)"></i><i style="top:645px;left:1679px;width:195px;height:3px;background:linear-gradient(90deg,#d5ff00,#ddff00,#e5ff00,#edff00,#f6ff00,#feff00,#fff700,#ffef00,#ffe800,#ffe000,#ffda00,#ffd300,#ffcd00,#ffc600,#ffc100,#ffbb00)"></i><i style="top:648px;left:1679px;width:208px;height:3px;background:linear-gradient(90deg,#d6ff00,#deff00,#e6ff00,#efff00,#f7ff00,#fffe00,#fff600,#ffee00,#ffe600,#ffdf00,#ffd800,#ffd200,#ffcb00,#ffc500,#ffbf00,#ffba00,#ffb500)"></i><i style="top:651px;left:1679px;width:208px;height:3px;background:linear-gradient(90deg,#d8ff00,#e0ff00,#e8ff00,#f0ff00,#f9ff00,#fffd00,#fff400,#ffec00,#ffe500,#ffde00,#ffd700,#ffd000,#ffca00,#ffc400,#ffbe00,#ffb900,#ffb400)"></i><i style="top:654px;left:1679px;width:208px;height:3px;background:linear-gradient(90deg,#d9ff01,#e1ff00,#e9ff00,#f2ff00,#faff00,#fffb00,#fff300,#ffeb00,#ffe300,#ffdc00,#ffd600,#ffcf00,#ffc900,#ffc300,#ffbd00,#ffb800,#ffb200)"></i><i style="top:657px;left:1679px;width:221px;height:3px;background:linear-gradient(90deg,#daff01,#e3ff00,#ebff00,#f3ff00,#fcff00,#fffa00,#fff100,#ffe900,#ffe200,#ffdb00,#ffd400,#ffce00,#ffc800,#ffc200,#ffbc00,#ffb700,#ffb100,#ffac00)"></i><i style="top:660px;left:1679px;width:221px;height:3px;background:linear-gradient(90deg,#dcff01,#e4ff00,#ecff00,#f5ff00,#fdff00,#fff800,#fff000,#ffe800,#ffe100,#ffda00,#ffd300,#ffcc00,#ffc600,#ffc000,#ffbb00,#ffb500,#ffb000,#ffab00)"></i><i style="top:663px;left:1679px;width:221px;height:3px;background:linear-gradient(90deg,#ddff02,#e5ff01,#eeff00,#f6ff00,#ffff00,#fff600,#ffee00,#ffe700,#ffdf00,#ffd800,#ffd200,#ffcb00,#ffc500,#ffbf00,#ffba00,#ffb400,#ffaf00,#ffaa00)"></i><i style="top:666px;left:1679px;width:234px;height:3px;background:linear-gradient(90deg,#dfff02,#e7ff01,#efff00,#f8ff00,#fffd00,#fff500,#ffed00,#ffe500,#ffde00,#ffd700,#ffd000,#ffca00,#ffc400,#ffbe00,#ffb800,#ffb300,#ffae00,#ffa900,#ffa400)"></i><i style="top:669px;left:1679px;width:234px;height:3px;background:linear-gradient(90deg,#e0ff03,#e8ff02,#f1ff01,#faff00,#fffc00,#fff300,#ffeb00,#ffe400,#ffdc00,#ffd600,#ffcf00,#ffc900,#ffc300,#ffbd00,#ffb700,#ffb200,#ffad00,#ffa800,#ffa300)"></i><i style="top:672px;left:1679px;width:234px;height:3px;background:linear-gradient(90deg,#e2ff03,#eaff02,#f3ff01,#fbff00,#fffa00,#fff200,#ffea00,#ffe200,#ffdb00,#ffd400,#ffce00,#ffc700,#ffc100,#ffbc00,#ffb600,#ffb100,#ffac00,#ffa700,#ffa200)"></i><i style="top:675px;left:1679px;width:234px;height:1px;background:linear-gradient(90deg,#e3ff04,#ebff02,#f4ff01,#fcff00,#fff900,#fff100,#ffe900,#ffe100,#ffda00,#ffd300,#ffcd00,#ffc700,#ffc100,#ffbb00,#ffb500,#ffb000,#ffab00,#ffa600,#ffa200)"></i></div></div>
<svg width="1920" height="1058" viewBox="0 0 1920 1058">
<rect x="1675.6" y="509.6" width="228" height="169.8" fill="none" stroke="#1b1b1b" stroke-width="2.6"/><rect x="1678" y="512" width="223.2" height="165" fill="none" stroke="#8e8e8e" stroke-width="1.9"/><rect x="1781.1" y="585.5" width="14.5" height="15" fill="none" stroke="#fff" stroke-width="1.8"/><circle cx="1725" cy="662.9" r="4.25" fill="#c4c400" stroke="#060606" stroke-width="1.55"/><g opacity="0.8"><path d="M1631 996.5L1667 1002L1671.5 1025L1635.5 1029.5ZM1635.5 1029.5L1656.7 1046.7L1696.5 1032.7L1685 1030.3" fill="none" stroke="#8e2a32" stroke-width="5.4" stroke-linejoin="round"/><path d="M1631 996.5L1667 1002L1671.5 1025L1635.5 1029.5ZM1635.5 1029.5L1656.7 1046.7L1696.5 1032.7L1685 1030.3" fill="none" stroke="#c89090" stroke-width="1.2" stroke-linejoin="round"/><path d="M1641.5 1010.5L1653.5 1022.5L1674 995.5" fill="none" stroke="#cfcfcf" stroke-width="6.4" stroke-linejoin="miter"/><path d="M1641.5 1010.5L1653.5 1022.5L1674 995.5" fill="none" stroke="#343434" stroke-width="4.4" stroke-linejoin="miter"/><text x="1676" y="1024.8" font-size="24.58" fill="#983038" textLength="147.5" lengthAdjust="spacingAndGlyphs" font-weight="bold" stroke="#c8b4b4" stroke-width="1.3" paint-order="stroke">NOTEBOOK</text><text x="1825.5" y="1024.8" font-size="24.58" fill="#2c2c2c" textLength="86.5" lengthAdjust="spacingAndGlyphs" font-weight="bold" stroke="#c0c0c0" stroke-width="1.7" paint-order="stroke">CHECK</text></g>
</svg>
</body></html>
